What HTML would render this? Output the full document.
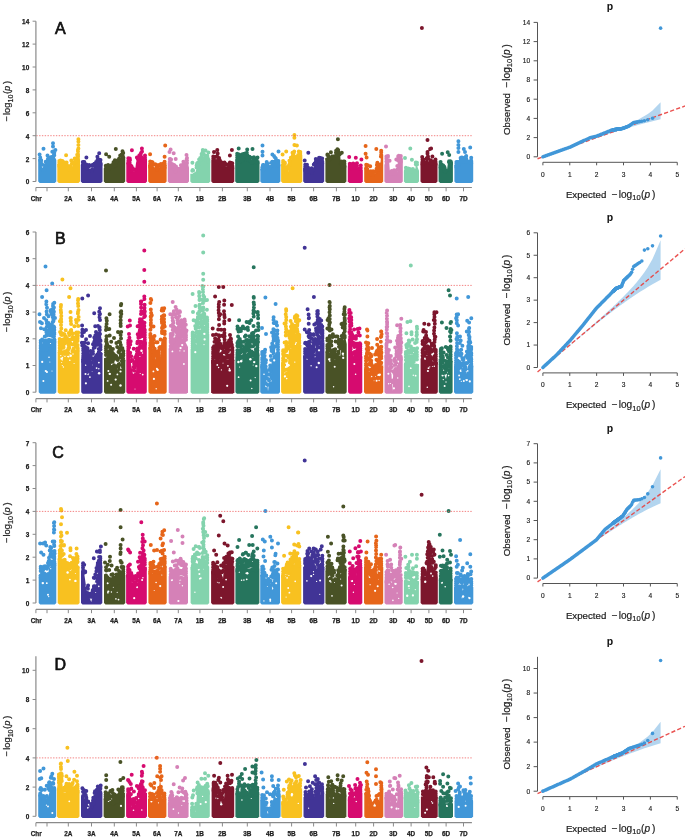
<!DOCTYPE html>
<html><head><meta charset="utf-8"><title>Manhattan and QQ plots</title>
<style>
html,body{margin:0;padding:0;background:#fff;}
body{width:685px;height:838px;overflow:hidden;}
svg{display:block;font-family:"Liberation Sans", sans-serif;filter:blur(0.4px);}
</style></head>
<body>
<svg width="685" height="838" viewBox="0 0 685 838" font-family='"Liberation Sans", sans-serif'>
<rect width="685" height="838" fill="#fff"/>
<path d="M39.7,183.1 L38.2,181.6 L38.2,159 L40,158 L41.5,165 L43,171 L45,168 L47,163 L48.5,162 L50,161 L52,155 L53,151 L54,155 L56.3,160 L56.3,181.6 L54.8,183.1Z" fill="#4197d8"/>
<g fill="#fff"></g>
<path stroke="#4197d8" stroke-width="4" stroke-linecap="round" d="M44.8 165.4h0M49.4 158h0M47.8 160.8h0M41 161.9h0M40.7 160.1h0M41.2 160.3h0M46.2 166h0M41.9 164.3h0M49 163.3h0M48.3 160.6h0M54 151.3h0M52.3 151.7h0M42.2 164.8h0M44.5 169.6h0M42.7 169.6h0M49.2 159.9h0M47.9 158.9h0M41 160.2h0M49.8 159.8h0M44.6 168.2h0M46.6 162h0M51.4 157.1h0M43.6 169.6h0M47.6 163.9h0M50.5 157.4h0M40.2 157.6h0M40.2 160.2h0M54.3 152.7h0M54.3 155.2h0M53 143.3h0M43.5 148.8h0M47.5 155.5h0M45.7 161.7h0M55.4 150h0M39.6 154.5h0M53 146.5h0"/>
<path d="M58.8,183.1 L57.3,181.6 L57.3,164 L67,164 L69.7,168.7 L72,167 L73,161 L76,160.5 L77.5,157 L78.4,152.4 L79.5,155 L80,160 L80,181.6 L78.5,183.1Z" fill="#f8c120"/>
<g fill="#fff"></g>
<path stroke="#f8c120" stroke-width="4" stroke-linecap="round" d="M70.1 167.2h0M75 162.3h0M68.2 166.1h0M60.4 164.3h0M71.4 169.4h0M74.7 158.6h0M66.5 164.1h0M59.7 162.9h0M62.4 160.9h0M60.4 164.7h0M61.7 161.6h0M66.6 165.3h0M60.8 162.8h0M69.6 169.8h0M74.6 161.9h0M64.5 162.6h0M66 165.3h0M77.2 154.8h0M62.6 161.5h0M63.7 163h0M70.3 166h0M59.4 162.6h0M66.2 163.5h0M77.1 158.1h0M68.9 167.2h0M71.9 163.6h0M76.1 160.9h0M75.7 161.4h0M66.6 162.5h0M61.2 163.9h0M60.5 160.6h0M59.3 161h0M59.3 162.7h0M59.3 164.3h0M59.3 166h0M78 151.4h0M78 154.3h0M78 156h0M66.1 155.3h0M77.9 150.1h0M78.4 139.2h0M78.4 141.5h0M71.3 160.5h0M78.4 145h0M78.4 148.5h0"/>
<path d="M82.3,183.1 L80.8,181.6 L80.8,165 L84,165 L86,167 L88,168.7 L93.2,168.7 L94,163 L102.5,163 L102.5,181.6 L101,183.1Z" fill="#413496"/>
<g fill="#fff"></g>
<path stroke="#413496" stroke-width="4" stroke-linecap="round" d="M84.3 162.1h0M88.9 166.4h0M97.5 160.1h0M83.2 166.7h0M92.2 165.8h0M92.4 165.1h0M92.1 170.6h0M98.1 163.2h0M87.4 166.5h0M85.8 167.4h0M92.2 169.4h0M88.6 166.2h0M97.2 164.9h0M97.9 163.9h0M97.3 163.5h0M86.8 166.9h0M89.1 165.1h0M83.3 162.8h0M87.4 168.4h0M99.7 161.8h0M99.4 164.9h0M99.7 161.3h0M86.7 165.1h0M86.3 164.6h0M93.8 165.5h0M97.7 162h0M94.4 163.8h0M84.3 165.3h0M98.9 163.7h0M96.1 162h0M82.8 162h0M82.8 164.7h0M100.5 160h0M100.5 162.9h0M100.5 164.7h0M98.8 159.5h0M97.4 156.8h0M86.4 157.4h0M99.2 153.3h0"/>
<path d="M105.3,183.1 L103.8,181.6 L103.8,168.7 L110,168.7 L112,166 L115.3,163.6 L118,161 L122,155.4 L125.2,157 L125.2,181.6 L123.7,183.1Z" fill="#495226"/>
<g fill="#fff"></g>
<path stroke="#495226" stroke-width="4" stroke-linecap="round" d="M111.9 165.5h0M108.1 165h0M122.7 155.7h0M115 165.5h0M113.3 166.3h0M120.2 155.4h0M110.2 166.4h0M110 168.3h0M110.3 166.9h0M108.1 170.2h0M112 164.9h0M116 164.4h0M113.1 166.7h0M114.5 163.4h0M114.9 160.2h0M113.5 162.2h0M105.9 169.5h0M108.8 167.6h0M118.4 159.8h0M111.5 165.9h0M115.5 164.2h0M107.6 168.1h0M110.1 166.3h0M119.2 158.4h0M115.6 163.9h0M121.7 154.6h0M116.5 161.6h0M114.7 164.2h0M113.7 164.1h0M105.8 165.7h0M105.8 168.6h0M123.2 153h0M123.2 157.6h0M106.1 154.2h0M109.2 156.8h0M115.8 148.9h0M122.5 151.3h0"/>
<path d="M127.8,183.1 L126.3,181.6 L126.3,163 L127.5,161 L130,162 L131,167 L133,171.8 L135,171 L136,163 L137,159 L141,158 L141.9,153.4 L143,158 L147,159 L147,181.6 L145.5,183.1Z" fill="#d60b6f"/>
<g fill="#fff"></g>
<path stroke="#d60b6f" stroke-width="4" stroke-linecap="round" d="M141.4 157.4h0M130.9 166.7h0M139.3 155.4h0M143 159.8h0M132 171h0M135 170h0M144.8 159.5h0M131 165.7h0M136.9 157.5h0M131.6 166.4h0M140.4 154.5h0M137.6 157.6h0M128.6 159.6h0M138.7 157.7h0M129.4 163.7h0M141.5 157.5h0M130 160h0M129 162.3h0M132.8 168.3h0M135.4 169.7h0M142 151.4h0M130.8 167.5h0M137.8 159.1h0M129.8 158.5h0M139.8 157h0M129.5 163.4h0M138.9 159.4h0M129.7 163h0M128.3 158.3h0M128.3 161.1h0M128.3 163.1h0M145 155.5h0M145 157.2h0M145 159.1h0M145 160.8h0M141 152.9h0M131.9 150.2h0M141.9 148.4h0"/>
<path d="M149.7,183.1 L148.2,181.6 L148.2,164.6 L151,164.6 L153,166 L156,168.7 L160,167 L163,165 L166.6,164.6 L166.6,181.6 L165.1,183.1Z" fill="#e66519"/>
<g fill="#fff"></g>
<path stroke="#e66519" stroke-width="4" stroke-linecap="round" d="M152.8 164h0M150.5 162.3h0M150.4 165.1h0M158.1 165.1h0M157 169.9h0M151.7 166.1h0M156.4 167.6h0M162.2 164h0M157.5 168.3h0M164.3 163h0M162.2 165.8h0M159.4 165.8h0M155.2 164.5h0M152.1 162h0M160.9 164.1h0M152.6 162.4h0M162.3 166.7h0M159.9 164.9h0M153.7 164.5h0M156.8 165.5h0M156.6 166.2h0M164 166.7h0M158.1 165.4h0M164.1 162.9h0M155.3 164.3h0M150.2 161.6h0M150.2 163.8h0M150.2 165.6h0M150.2 167.1h0M164.6 161.8h0M164.6 163.4h0M164.6 165.3h0M164.6 167.7h0M150.1 154.3h0M165.2 145.5h0M164.6 156.8h0"/>
<path d="M169.3,183.1 L167.8,181.6 L167.8,162.6 L170,162 L172,163 L174,168 L175,169.7 L180,169.7 L182,167.7 L185,166 L186.5,160 L188,163 L189,167.7 L189,181.6 L187.5,183.1Z" fill="#d581b7"/>
<g fill="#fff"></g>
<path stroke="#d581b7" stroke-width="4" stroke-linecap="round" d="M184.9 164.5h0M175.4 171.6h0M172.4 164.3h0M180.9 165.3h0M184.2 167.8h0M180.6 169.6h0M183.8 163.7h0M178.8 168.8h0M184.2 167.3h0M184 166.1h0M185.2 165.5h0M181.7 165.5h0M170.3 159.1h0M176 166.5h0M184.2 165.9h0M180.6 168.9h0M181.5 167.2h0M169.9 162.9h0M182.7 166.4h0M179 169.7h0M170.9 162.9h0M174.1 164.9h0M174.4 169.1h0M173.3 166.8h0M186.6 159.2h0M176.4 168.7h0M181.6 168.8h0M180.4 169.2h0M171.1 159.6h0M169.8 159.1h0M169.8 161.7h0M169.8 164h0M187 158h0M187 160.5h0M187 163h0M170.6 149.4h0M173.7 153.3h0M175.7 159.1h0M186.5 155h0M183.4 161.7h0M169.5 152h0"/>
<path d="M191.8,183.1 L190.3,181.6 L190.3,173.8 L195,173.8 L197,166.7 L199,162 L200,159.5 L202.8,155 L205,159.5 L210.3,159.5 L210.3,181.6 L208.8,183.1Z" fill="#83d3ad"/>
<g fill="#fff"></g>
<path stroke="#83d3ad" stroke-width="4" stroke-linecap="round" d="M195.5 173.9h0M207.3 155.8h0M199.6 161.3h0M207.8 158.3h0M196.6 165.5h0M207.4 156.9h0M201.6 153.9h0M200.7 160.1h0M194.4 174.8h0M200.4 160.1h0M203.6 154.1h0M206.7 158.5h0M192.7 170h0M200.2 158h0M197.1 163.4h0M197.8 162.8h0M205.7 155.7h0M204.3 159.2h0M194.2 175.4h0M203.7 158.3h0M196.9 165.3h0M198.6 165h0M201.7 155h0M199.1 159.4h0M193.1 170.6h0M205.7 157.4h0M207.3 157.1h0M196.6 167.5h0M192.3 170.8h0M208.3 159.4h0M208.3 162h0M202.6 152.2h0M192.4 162.7h0M208.4 152.5h0M202.8 150h0M205.5 150.5h0"/>
<path d="M212.8,183.1 L211.3,181.6 L211.3,159.5 L218,159.5 L220,164 L223,166.2 L234.3,166.2 L234.3,181.6 L232.8,183.1Z" fill="#7c162c"/>
<g fill="#fff"></g>
<path stroke="#7c162c" stroke-width="4" stroke-linecap="round" d="M230.9 163.1h0M222.3 163.9h0M219 162.1h0M231.8 163.9h0M225.8 164.1h0M223.9 164.7h0M216.5 156.6h0M217.2 161h0M222.7 163.5h0M230.5 168.2h0M221.8 162.4h0M217 156.2h0M219.8 160.3h0M217.8 157.2h0M224.1 167.5h0M227.5 164.8h0M221.2 164.1h0M220.5 162.5h0M214.5 157.3h0M231.7 163.1h0M222.9 166h0M229.7 163.7h0M218.4 158.2h0M220.9 163.4h0M231.4 167.3h0M229.9 162.5h0M213.9 159.8h0M230.3 165.1h0M224.5 162.4h0M220.7 166.1h0M229 167.4h0M231.8 163.8h0M213.3 156.5h0M213.3 158.2h0M232.3 163.2h0M232.3 165.8h0M232.3 168.2h0M217.7 153.4h0M219.1 158h0M217.3 150h0M231.9 150.1h0M229.9 155.5h0M214 152h0"/>
<path d="M236.7,183.1 L235.2,181.6 L235.2,160.5 L238.2,155 L240,160.5 L246.4,155 L248,160.5 L259.5,160.5 L259.5,181.6 L258,183.1Z" fill="#26755d"/>
<g fill="#fff"></g>
<path stroke="#26755d" stroke-width="4" stroke-linecap="round" d="M250.1 160.8h0M239.5 155.5h0M247.8 159.6h0M245.1 153.6h0M249.4 156.8h0M243.3 156.5h0M256.7 160.4h0M255.1 159.5h0M242 156.4h0M256.7 160.8h0M243.4 153.9h0M247.3 158.3h0M245.7 153.3h0M250.7 162.1h0M241.8 155.3h0M244.1 155.6h0M251.1 157.8h0M253.4 161h0M247.4 156h0M256.9 158.5h0M253.8 158h0M241.7 159.7h0M243.2 159.5h0M247.3 155.3h0M241.7 157.6h0M250.7 162.2h0M240.2 158.8h0M241.5 161h0M240.1 156.9h0M238.4 154.2h0M255.4 161.8h0M252.1 162.5h0M256.1 158.6h0M241 161.3h0M237.2 153.8h0M237.2 155.4h0M237.2 157.4h0M237.2 159.4h0M257.5 157.5h0M257.5 163h0M253.9 157.3h0M246.8 152.8h0M238.7 148.6h0M247.2 149.4h0M252.5 148.9h0M241.8 154.5h0"/>
<path d="M261.8,183.1 L260.3,181.6 L260.3,168.7 L264,168.7 L266,165.7 L270,165.7 L272,164.1 L280.4,164.1 L280.4,181.6 L278.9,183.1Z" fill="#4197d8"/>
<g fill="#fff"></g>
<path stroke="#4197d8" stroke-width="4" stroke-linecap="round" d="M268.2 167.1h0M262.8 167.3h0M275.4 164.7h0M263 165.1h0M263.3 170.2h0M266.4 166.2h0M276.8 162.3h0M266.7 167.5h0M272.2 161.8h0M273.8 162.1h0M266.7 161.9h0M274.5 165.6h0M272.5 165.8h0M262.7 166.3h0M270 167.4h0M277.7 162.5h0M266.3 164.4h0M270.2 167.1h0M265.2 167.7h0M274.2 165.1h0M274.7 163.8h0M267.6 163.8h0M268.1 166.4h0M263.6 166h0M274.4 161.7h0M263.3 165.1h0M271.2 162.8h0M278.1 165.4h0M262.3 167.6h0M262.3 169.2h0M278.4 161.1h0M278.4 163h0M278.4 165.4h0M275.9 160.7h0M275.8 158.6h0M262.5 145.5h0M262.5 151.7h0M262.5 155.5h0M272.4 154.5h0M278.5 151.5h0M275 157.4h0M274 156h0"/>
<path d="M282.6,183.1 L281.1,181.6 L281.1,164.1 L285,164.1 L286,171 L288,172.8 L289,165 L292,157 L293,155.4 L302.3,155 L302.3,181.6 L300.8,183.1Z" fill="#f8c120"/>
<g fill="#fff"></g>
<path stroke="#f8c120" stroke-width="4" stroke-linecap="round" d="M289.5 164.1h0M286.5 169.1h0M287.3 169.3h0M298.3 154.7h0M288.7 165.7h0M300.2 154.2h0M287.1 172.9h0M294.3 157.3h0M284.9 163.1h0M297.2 156.3h0M298.8 151.6h0M288.2 168.5h0M286.4 173.2h0M293.1 157h0M289.5 164.9h0M290.8 157.8h0M296.5 156.9h0M284.9 163.8h0M293.8 152.8h0M289.4 160.8h0M286.6 169.2h0M293.4 155.4h0M286.6 167.8h0M288.7 167.3h0M286.3 169.3h0M286.6 172.4h0M292.5 152.7h0M284.8 162.6h0M292.6 156h0M283.1 161.1h0M283.1 162.8h0M283.1 165h0M300.3 152.1h0M300.3 154.1h0M286.6 167.3h0M294.4 135.1h0M294.4 137.7h0M294.4 145.1h0M296.9 145.5h0M286.2 151.5h0M282.6 154.5h0M294.2 151.5h0"/>
<path d="M304.7,183.1 L303.2,181.6 L303.2,167.7 L306,167.7 L308,171.3 L313,171.3 L315,161.6 L318.5,157.5 L320,161.6 L324.2,161.6 L324.2,181.6 L322.7,183.1Z" fill="#413496"/>
<g fill="#fff"></g>
<path stroke="#413496" stroke-width="4" stroke-linecap="round" d="M319.1 157.8h0M320.2 160.5h0M308 167.5h0M314.6 163.6h0M320.7 158.3h0M315.8 159h0M313.8 164.6h0M310 170.5h0M320.9 158.4h0M313.5 169.6h0M321.6 158.9h0M307.4 171.8h0M321.8 160.6h0M306.1 169.5h0M311.8 172.7h0M315.7 161.7h0M307.9 171.9h0M309 169.8h0M319.6 161.5h0M308.3 168.8h0M312 170.5h0M311.7 168.2h0M309.4 171.7h0M320.5 158h0M314.8 163.4h0M305.8 168.8h0M307.2 169.5h0M314.6 163.6h0M310.4 169.9h0M305.2 164.7h0M305.2 166.8h0M305.2 169h0M305.2 170.5h0M322.2 158.6h0M322.2 161.2h0M322.2 163.4h0M307 164.8h0M308.3 152.7h0M304.7 160.5h0"/>
<path d="M326.9,183.1 L325.4,181.6 L325.4,158 L330,158 L331,154.4 L336,154.4 L337,153.4 L340,153.4 L341,164.6 L346.4,164.6 L346.4,181.6 L344.9,183.1Z" fill="#495226"/>
<g fill="#fff"></g>
<path stroke="#495226" stroke-width="4" stroke-linecap="round" d="M336.1 150.8h0M338.2 150.1h0M339.9 154.1h0M336.1 150.8h0M336 152.8h0M343.6 161.6h0M342 166.6h0M339.8 154.3h0M330.7 157.4h0M335.8 156.1h0M343 161.8h0M340.8 164h0M328.5 156.2h0M340.3 153.4h0M342.6 162.4h0M341.3 161.6h0M335.9 155.9h0M330.9 152.3h0M336 152.4h0M328 155.3h0M330.1 159.1h0M339 154.8h0M330.3 157.8h0M329.4 157.3h0M338.2 151.7h0M342.2 164h0M337.3 154.7h0M329.2 160h0M338.1 151.9h0M327.4 155h0M327.4 159.3h0M344.4 161.6h0M344.4 163.4h0M344.4 166.8h0M337.4 149.3h0M327.4 154.5h0M337.9 139.2h0M341.8 152.7h0"/>
<path d="M349.3,183.1 L347.8,181.6 L347.8,166.7 L356,166.7 L360,168 L362.8,169.7 L362.8,181.6 L361.3,183.1Z" fill="#d60b6f"/>
<g fill="#fff"></g>
<path stroke="#d60b6f" stroke-width="4" stroke-linecap="round" d="M356.6 165.6h0M355.4 168.1h0M351.3 164.2h0M357 163.3h0M349.8 165h0M351 165h0M352.3 166.3h0M356.3 164.2h0M356.7 165.9h0M351.3 168.3h0M352.5 163.8h0M350.9 166.6h0M359.4 168.5h0M354.2 164.4h0M349.9 166.6h0M356 164.9h0M356.9 165.8h0M360.1 168.5h0M352.5 168.1h0M350.3 166h0M354.3 164.3h0M349.8 163.7h0M349.8 166.4h0M360.8 165.5h0M360.8 167.9h0M353.2 163.6h0M349.2 157.1h0M355.8 157.8h0M361.4 159.4h0"/>
<path d="M365.7,183.1 L364.2,181.6 L364.2,167.7 L369,167.7 L370,173.8 L375,173.8 L376,168.7 L380,168.7 L381.3,152.4 L383.2,155 L383.2,181.6 L381.7,183.1Z" fill="#e66519"/>
<g fill="#fff"></g>
<path stroke="#e66519" stroke-width="4" stroke-linecap="round" d="M379.5 169.4h0M376.9 164.9h0M378.9 169.2h0M373.2 174.3h0M373 171.3h0M367.8 165.2h0M366.8 165.8h0M377.4 168.9h0M378.9 169h0M370.2 173.2h0M372.7 174.6h0M374 171.5h0M375.8 171.4h0M369.5 171.8h0M366.4 165.4h0M369.7 172.7h0M380.4 164.6h0M371.1 175.1h0M371.1 171.4h0M379.8 168.6h0M376.6 168.8h0M380.9 156.5h0M378.8 168.9h0M379.1 167.4h0M377.1 168.2h0M370.8 171.2h0M366.2 164.7h0M366.2 168h0M381.2 150.7h0M381.2 152.2h0M381.2 154.7h0M377.3 163h0M365.6 146.1h0M365.6 153.7h0M366.6 157.4h0M376.3 148.9h0M370.2 166.3h0M377.4 162.7h0"/>
<path d="M385.9,183.1 L384.4,181.6 L384.4,165 L386,159.5 L389,159.5 L390,172.8 L397,172.8 L398,159 L402.8,159 L402.8,181.6 L401.3,183.1Z" fill="#d581b7"/>
<g fill="#fff"></g>
<path stroke="#d581b7" stroke-width="4" stroke-linecap="round" d="M391.6 173.7h0M398.2 160.4h0M387.3 160.7h0M399.6 160.7h0M387.9 156.9h0M388 155.9h0M398.6 159.9h0M395.5 173.8h0M395.5 170.7h0M387.8 156.3h0M397.3 166h0M391 171.5h0M386.7 157.2h0M390.5 173.2h0M391.7 170.9h0M400.3 158.1h0M398.7 158.8h0M386.8 158.1h0M392.7 173.5h0M391.4 173.1h0M394.1 170.3h0M398.8 155.7h0M398.2 156.2h0M386.4 156.9h0M397.4 169.5h0M386.4 156.5h0M386.4 158.7h0M386.4 161.4h0M400.8 156h0M400.8 158.7h0M400.8 161.7h0M386 146.6h0M389.6 160.7h0M396.3 159.6h0"/>
<path d="M405.4,183.1 L403.9,181.6 L403.9,170.8 L415,170.8 L416.2,163.6 L419,170.8 L419,181.6 L417.5,183.1Z" fill="#83d3ad"/>
<g fill="#fff"></g>
<path stroke="#83d3ad" stroke-width="4" stroke-linecap="round" d="M407.1 170.7h0M406.8 171.6h0M413.6 171.6h0M412.9 169.1h0M410.4 169.3h0M415.8 162.8h0M415.8 162.6h0M408.2 168.5h0M415.9 164.5h0M410.1 172.1h0M408.5 169.7h0M411.8 171.4h0M414.3 170.7h0M409.8 168.9h0M407.6 171.9h0M413.2 171.3h0M407.8 169.5h0M414.5 170.4h0M407.3 169.7h0M415.7 164h0M408 168.7h0M405.9 167.8h0M405.9 170.6h0M405.9 172.3h0M417 162.7h0M417 164.4h0M410.3 148.4h0M405 158.1h0M411.9 159.8h0"/>
<path d="M422,183.1 L420.5,181.6 L420.5,162 L425,162.6 L427.3,156.5 L429,162.6 L437.5,162.6 L437.5,181.6 L436,183.1Z" fill="#7c162c"/>
<g fill="#fff"></g>
<path stroke="#7c162c" stroke-width="4" stroke-linecap="round" d="M423.8 160.9h0M435.3 163.4h0M432 161.3h0M425.1 162.4h0M423.9 159.8h0M427.5 153.8h0M427.7 158.7h0M431.5 161.7h0M430.7 161.5h0M424.3 162.2h0M427.8 158.7h0M434.3 161.3h0M430 163.1h0M428 156.4h0M431.9 163.9h0M432.6 162.9h0M433.6 162.7h0M430.8 161.4h0M426.6 158.3h0M423.8 161.1h0M432.7 162.9h0M430.7 160.3h0M428 157.9h0M422.5 159.3h0M422.5 161.4h0M422.5 164.3h0M435.5 159.6h0M435.5 161.7h0M435.5 164.6h0M427.5 140h0M431.1 148.4h0M430.1 149.1h0M427.5 152h0M432.4 156.4h0M422.2 157h0M421.9 28h0"/>
<path d="M440.1,183.1 L438.6,181.6 L438.6,165.1 L443,165.1 L444,170.3 L447,170.3 L448,162.1 L452.9,162.1 L452.9,181.6 L451.4,183.1Z" fill="#26755d"/>
<g fill="#fff"></g>
<path stroke="#26755d" stroke-width="4" stroke-linecap="round" d="M450.3 161.3h0M441.6 164.6h0M446.2 170.7h0M445.9 170.2h0M449.1 161.3h0M444.8 172h0M442.8 165.3h0M444.6 170.9h0M441.9 167h0M444.3 166.8h0M443.4 165.8h0M440.7 163.7h0M444.9 170.5h0M444.2 168h0M442.9 165.6h0M450.3 161.4h0M442.9 165.9h0M444.6 167.7h0M441.9 165.8h0M448.9 162h0M440.6 162.1h0M440.6 164.4h0M440.6 167.4h0M450.9 161.8h0M450.9 163.8h0M449.2 155.1h0M442.1 153.7h0M447.7 152.3h0"/>
<path d="M455.9,183.1 L454.4,181.6 L454.4,165.1 L458,165.1 L460,160.5 L470,160.5 L473.2,161 L473.2,181.6 L471.7,183.1Z" fill="#4197d8"/>
<g fill="#fff"></g>
<path stroke="#4197d8" stroke-width="4" stroke-linecap="round" d="M462 158.2h0M462.7 157.8h0M456.4 165.5h0M460.6 158.1h0M460.9 159.5h0M462.7 160.4h0M466.2 158.8h0M470.1 161.7h0M457.2 166.1h0M469.8 161.2h0M458.5 165h0M465.8 156.8h0M456.6 166.8h0M466.1 158.2h0M457.9 162.1h0M459.9 161.5h0M461.5 157.6h0M469.8 161.3h0M458.9 164.4h0M465.4 161.2h0M466.3 161.9h0M468.1 161.6h0M459.3 162.3h0M464.3 161h0M462.9 161.8h0M464.6 158.2h0M456.4 162.1h0M456.4 163.8h0M456.4 165.4h0M456.4 167.1h0M471.2 157.7h0M471.2 160.5h0M471.2 163.2h0M466.2 156.1h0M458.4 141.2h0M458.4 145h0M458.4 148h0M458.4 152h0M470.2 147.6h0M463.8 148.9h0M465 152h0"/>
<line x1="36.3" y1="135.7" x2="472.7" y2="135.7" stroke="#ef5a5a" stroke-width="1" stroke-dasharray="1.4,1.4" opacity="0.75"/>
<line x1="35.9" y1="181.5" x2="35.9" y2="21.2" stroke="#8a8a8a" stroke-width="1.2"/>
<line x1="32.6" y1="181.5" x2="35.9" y2="181.5" stroke="#8a8a8a" stroke-width="1"/>
<text x="29.2" y="184.4" text-anchor="end" font-size="6.4" font-weight="bold" fill="#1c1c1c" stroke="#1c1c1c" stroke-width="0.25">0</text>
<line x1="32.6" y1="158.6" x2="35.9" y2="158.6" stroke="#8a8a8a" stroke-width="1"/>
<text x="29.2" y="161.5" text-anchor="end" font-size="6.4" font-weight="bold" fill="#1c1c1c" stroke="#1c1c1c" stroke-width="0.25">2</text>
<line x1="32.6" y1="135.7" x2="35.9" y2="135.7" stroke="#8a8a8a" stroke-width="1"/>
<text x="29.2" y="138.6" text-anchor="end" font-size="6.4" font-weight="bold" fill="#1c1c1c" stroke="#1c1c1c" stroke-width="0.25">4</text>
<line x1="32.6" y1="112.8" x2="35.9" y2="112.8" stroke="#8a8a8a" stroke-width="1"/>
<text x="29.2" y="115.7" text-anchor="end" font-size="6.4" font-weight="bold" fill="#1c1c1c" stroke="#1c1c1c" stroke-width="0.25">6</text>
<line x1="32.6" y1="89.9" x2="35.9" y2="89.9" stroke="#8a8a8a" stroke-width="1"/>
<text x="29.2" y="92.8" text-anchor="end" font-size="6.4" font-weight="bold" fill="#1c1c1c" stroke="#1c1c1c" stroke-width="0.25">8</text>
<line x1="32.6" y1="67" x2="35.9" y2="67" stroke="#8a8a8a" stroke-width="1"/>
<text x="29.2" y="69.9" text-anchor="end" font-size="6.4" font-weight="bold" fill="#1c1c1c" stroke="#1c1c1c" stroke-width="0.25">10</text>
<line x1="32.6" y1="44.1" x2="35.9" y2="44.1" stroke="#8a8a8a" stroke-width="1"/>
<text x="29.2" y="47" text-anchor="end" font-size="6.4" font-weight="bold" fill="#1c1c1c" stroke="#1c1c1c" stroke-width="0.25">12</text>
<line x1="32.6" y1="21.2" x2="35.9" y2="21.2" stroke="#8a8a8a" stroke-width="1"/>
<text x="29.2" y="24.1" text-anchor="end" font-size="6.4" font-weight="bold" fill="#1c1c1c" stroke="#1c1c1c" stroke-width="0.25">14</text>
<line x1="35.9" y1="187.5" x2="471.9" y2="187.5" stroke="#8a8a8a" stroke-width="1.2"/>
<line x1="35.9" y1="187.5" x2="35.9" y2="191.3" stroke="#8a8a8a" stroke-width="1"/>
<line x1="47" y1="187.5" x2="47" y2="191.3" stroke="#8a8a8a" stroke-width="1"/>
<line x1="68.3" y1="187.5" x2="68.3" y2="191.3" stroke="#8a8a8a" stroke-width="1"/>
<line x1="91.5" y1="187.5" x2="91.5" y2="191.3" stroke="#8a8a8a" stroke-width="1"/>
<line x1="114.3" y1="187.5" x2="114.3" y2="191.3" stroke="#8a8a8a" stroke-width="1"/>
<line x1="136.4" y1="187.5" x2="136.4" y2="191.3" stroke="#8a8a8a" stroke-width="1"/>
<line x1="157.1" y1="187.5" x2="157.1" y2="191.3" stroke="#8a8a8a" stroke-width="1"/>
<line x1="178.3" y1="187.5" x2="178.3" y2="191.3" stroke="#8a8a8a" stroke-width="1"/>
<line x1="199.9" y1="187.5" x2="199.9" y2="191.3" stroke="#8a8a8a" stroke-width="1"/>
<line x1="222.4" y1="187.5" x2="222.4" y2="191.3" stroke="#8a8a8a" stroke-width="1"/>
<line x1="247.3" y1="187.5" x2="247.3" y2="191.3" stroke="#8a8a8a" stroke-width="1"/>
<line x1="270" y1="187.5" x2="270" y2="191.3" stroke="#8a8a8a" stroke-width="1"/>
<line x1="291.6" y1="187.5" x2="291.6" y2="191.3" stroke="#8a8a8a" stroke-width="1"/>
<line x1="313.6" y1="187.5" x2="313.6" y2="191.3" stroke="#8a8a8a" stroke-width="1"/>
<line x1="336.4" y1="187.5" x2="336.4" y2="191.3" stroke="#8a8a8a" stroke-width="1"/>
<line x1="355.7" y1="187.5" x2="355.7" y2="191.3" stroke="#8a8a8a" stroke-width="1"/>
<line x1="373.6" y1="187.5" x2="373.6" y2="191.3" stroke="#8a8a8a" stroke-width="1"/>
<line x1="393.4" y1="187.5" x2="393.4" y2="191.3" stroke="#8a8a8a" stroke-width="1"/>
<line x1="411.1" y1="187.5" x2="411.1" y2="191.3" stroke="#8a8a8a" stroke-width="1"/>
<line x1="428.9" y1="187.5" x2="428.9" y2="191.3" stroke="#8a8a8a" stroke-width="1"/>
<line x1="446.1" y1="187.5" x2="446.1" y2="191.3" stroke="#8a8a8a" stroke-width="1"/>
<line x1="463.5" y1="187.5" x2="463.5" y2="191.3" stroke="#8a8a8a" stroke-width="1"/>
<text x="36.2" y="201.2" text-anchor="middle" font-size="6.4" font-weight="bold" fill="#1c1c1c" stroke="#1c1c1c" stroke-width="0.25">Chr</text>
<text x="68.3" y="201.2" text-anchor="middle" font-size="6.4" font-weight="bold" fill="#1c1c1c" stroke="#1c1c1c" stroke-width="0.25">2A</text>
<text x="91.5" y="201.2" text-anchor="middle" font-size="6.4" font-weight="bold" fill="#1c1c1c" stroke="#1c1c1c" stroke-width="0.25">3A</text>
<text x="114.3" y="201.2" text-anchor="middle" font-size="6.4" font-weight="bold" fill="#1c1c1c" stroke="#1c1c1c" stroke-width="0.25">4A</text>
<text x="136.4" y="201.2" text-anchor="middle" font-size="6.4" font-weight="bold" fill="#1c1c1c" stroke="#1c1c1c" stroke-width="0.25">5A</text>
<text x="157.1" y="201.2" text-anchor="middle" font-size="6.4" font-weight="bold" fill="#1c1c1c" stroke="#1c1c1c" stroke-width="0.25">6A</text>
<text x="178.3" y="201.2" text-anchor="middle" font-size="6.4" font-weight="bold" fill="#1c1c1c" stroke="#1c1c1c" stroke-width="0.25">7A</text>
<text x="199.9" y="201.2" text-anchor="middle" font-size="6.4" font-weight="bold" fill="#1c1c1c" stroke="#1c1c1c" stroke-width="0.25">1B</text>
<text x="222.4" y="201.2" text-anchor="middle" font-size="6.4" font-weight="bold" fill="#1c1c1c" stroke="#1c1c1c" stroke-width="0.25">2B</text>
<text x="247.3" y="201.2" text-anchor="middle" font-size="6.4" font-weight="bold" fill="#1c1c1c" stroke="#1c1c1c" stroke-width="0.25">3B</text>
<text x="270" y="201.2" text-anchor="middle" font-size="6.4" font-weight="bold" fill="#1c1c1c" stroke="#1c1c1c" stroke-width="0.25">4B</text>
<text x="291.6" y="201.2" text-anchor="middle" font-size="6.4" font-weight="bold" fill="#1c1c1c" stroke="#1c1c1c" stroke-width="0.25">5B</text>
<text x="313.6" y="201.2" text-anchor="middle" font-size="6.4" font-weight="bold" fill="#1c1c1c" stroke="#1c1c1c" stroke-width="0.25">6B</text>
<text x="336.4" y="201.2" text-anchor="middle" font-size="6.4" font-weight="bold" fill="#1c1c1c" stroke="#1c1c1c" stroke-width="0.25">7B</text>
<text x="355.7" y="201.2" text-anchor="middle" font-size="6.4" font-weight="bold" fill="#1c1c1c" stroke="#1c1c1c" stroke-width="0.25">1D</text>
<text x="373.6" y="201.2" text-anchor="middle" font-size="6.4" font-weight="bold" fill="#1c1c1c" stroke="#1c1c1c" stroke-width="0.25">2D</text>
<text x="393.4" y="201.2" text-anchor="middle" font-size="6.4" font-weight="bold" fill="#1c1c1c" stroke="#1c1c1c" stroke-width="0.25">3D</text>
<text x="411.1" y="201.2" text-anchor="middle" font-size="6.4" font-weight="bold" fill="#1c1c1c" stroke="#1c1c1c" stroke-width="0.25">4D</text>
<text x="428.9" y="201.2" text-anchor="middle" font-size="6.4" font-weight="bold" fill="#1c1c1c" stroke="#1c1c1c" stroke-width="0.25">5D</text>
<text x="446.1" y="201.2" text-anchor="middle" font-size="6.4" font-weight="bold" fill="#1c1c1c" stroke="#1c1c1c" stroke-width="0.25">6D</text>
<text x="463.5" y="201.2" text-anchor="middle" font-size="6.4" font-weight="bold" fill="#1c1c1c" stroke="#1c1c1c" stroke-width="0.25">7D</text>
<text transform="translate(10.3,121.55) rotate(-90)" text-anchor="start" font-size="9.04" fill="#1c1c1c" stroke="#1c1c1c" stroke-width="0.2"><tspan font-size="9.4">−</tspan><tspan font-size="9.4" dx="1.1">log</tspan><tspan font-size="7.05" dy="2.35">10</tspan><tspan font-size="9.4" dy="-2.35" dx="0.5">(</tspan><tspan font-size="9.4" font-style="italic">p</tspan><tspan font-size="9.4" dx="1.8">)</tspan></text>
<text x="55.1" y="34" font-size="16" fill="#111" stroke="#111" stroke-width="0.7">A</text>
<path d="M40.2,393.8 L38.7,392.3 L38.7,350 L46,349 L48,347 L50,340 L56.3,339.3 L56.3,392.3 L54.8,393.8Z" fill="#4197d8"/>
<g fill="#fff"><circle cx="45.8" cy="371" r="1.1"/><circle cx="42.2" cy="361.9" r="1.1"/><circle cx="49.9" cy="361.9" r="0.5"/><circle cx="43.4" cy="381.1" r="1"/><circle cx="52.6" cy="336.4" r="0.9"/><circle cx="50.5" cy="343.5" r="0.6"/><circle cx="45.5" cy="339.5" r="0.8"/><circle cx="43.7" cy="348.6" r="0.7"/><circle cx="43.4" cy="340.6" r="1"/><circle cx="44" cy="341.9" r="0.5"/><circle cx="52.5" cy="337.4" r="1.1"/><circle cx="52" cy="371" r="0.6"/><circle cx="46.9" cy="372" r="1.1"/><circle cx="49" cy="357.2" r="0.8"/></g>
<path stroke="#4197d8" stroke-width="4" stroke-linecap="round" d="M46.4 350h0M41.7 346.2h0M49.4 329.9h0M49 340.8h0M53.4 331.7h0M54.1 334.3h0M47.3 348.2h0M41.2 347.5h0M49.2 335h0M52.4 332.4h0M47.2 342.8h0M51.2 330.2h0M46.6 341.8h0M48.2 345.6h0M44.7 348.6h0M46.2 343.5h0M44.4 343.9h0M54 336.4h0M51.5 331.9h0M45 340.8h0M48.7 341.2h0M51.4 327.6h0M50.5 340.2h0M48.1 334.5h0M44.8 336.5h0M43.3 350.2h0M49 340.5h0M51.4 340.5h0M49 339.8h0M49.2 340.2h0M48.8 341.4h0M43.6 346.4h0M46.9 346.6h0M42.1 339.4h0M41.2 348.3h0M53.1 336.6h0M45.7 348.4h0M51.4 335.4h0M44.2 340.9h0M46.4 340.5h0M46.6 345.1h0M53.4 327.6h0M48.4 333.3h0M42.3 348.7h0M48.5 346h0M46.8 335.6h0M46 345h0M40.7 340.7h0M40.7 342.8h0M40.7 345.3h0M40.7 347h0M40.7 348.5h0M54.3 327.5h0M54.3 330.1h0M54.3 332.7h0M54.3 334.3h0M54.3 339.4h0M54.3 341.9h0M53.4 321.2h0M40.9 328.2h0M51.8 324.4h0M50.6 310.2h0M47.3 331.6h0M48.5 323h0M49.3 326.2h0M51.4 314h0M48.4 333h0M53.9 311.8h0M45.2 329.6h0M48.9 326.9h0M52.8 317.3h0M51.7 327.8h0M44.3 329.3h0M51.8 327.4h0M52 309.6h0M48.5 316.2h0M51.7 324.7h0M41.9 323.2h0M53.4 319.2h0M49.9 326.2h0M51.5 327h0M51.7 325.4h0M52.7 321.9h0M48.7 330.6h0M46.8 335.3h0M46.4 332.3h0M46.8 326.7h0M46.8 323.3h0M46.3 320.3h0M46.8 314.2h0M46.6 311.4h0M47 307.8h0M46.3 304.3h0M46.4 301.5h0M53.8 326.6h0M53.6 320h0M53.9 317h0M53.6 314.2h0M53.4 310.6h0M53.9 307.6h0M53.1 304h0M45.5 266.6h0M52.2 283.4h0M46.6 290.3h0M42.1 297h0M54.3 302.7h0M39.5 314.2h0M53 306h0M51 312h0M44 318h0M40 322h0M55 318h0M48 325h0"/>
<path d="M59.2,393.8 L57.7,392.3 L57.7,352 L62,350 L64,352 L68,353 L72,352 L75,350 L79.6,348 L79.6,392.3 L78.1,393.8Z" fill="#f8c120"/>
<g fill="#fff"><circle cx="70.7" cy="355.7" r="1.2"/><circle cx="70.8" cy="352.4" r="0.5"/><circle cx="67.2" cy="346.4" r="1"/><circle cx="60.8" cy="355.6" r="0.7"/><circle cx="74.1" cy="363.5" r="0.6"/><circle cx="68.6" cy="356.6" r="0.9"/><circle cx="64.9" cy="355.6" r="1.2"/><circle cx="69.8" cy="360.2" r="0.8"/><circle cx="62.6" cy="357.4" r="0.6"/><circle cx="62.3" cy="365.6" r="0.6"/><circle cx="69" cy="353.7" r="1.1"/><circle cx="61.7" cy="362.4" r="0.5"/><circle cx="73" cy="354" r="0.7"/><circle cx="63.4" cy="367" r="0.7"/><circle cx="62.3" cy="359.9" r="0.7"/><circle cx="67.9" cy="356.5" r="0.8"/><circle cx="61.6" cy="358.6" r="1.2"/></g>
<path stroke="#f8c120" stroke-width="4" stroke-linecap="round" d="M65.8 351.8h0M68.2 349.4h0M62.3 340.7h0M60.7 348.4h0M69.6 341.9h0M75.3 341h0M67.1 342.3h0M64.6 351.8h0M65.7 342.1h0M68.5 344.8h0M75.9 338.5h0M77.2 337.1h0M75.7 346.8h0M63.5 345.7h0M64.8 343.2h0M63.3 343.9h0M77.4 350.9h0M76.3 338.1h0M64.9 352.7h0M60.7 348.5h0M65 353.9h0M60 350.1h0M65.8 341.7h0M59.7 350.6h0M69.1 342.7h0M67.5 353.6h0M63.6 347.3h0M62.2 340h0M73.5 348.7h0M63.2 339.6h0M61.3 346.5h0M68.6 344.1h0M63.4 347.7h0M72.4 351h0M70.1 342.7h0M60.9 348.6h0M67 350.6h0M60.7 349.8h0M65.7 352.1h0M75.2 344.4h0M60 351.6h0M68.2 353h0M64.5 342.1h0M74.6 342.9h0M62.6 343.3h0M70.3 339.7h0M69 346.5h0M68.9 341.8h0M72.5 351h0M75.2 341.9h0M72.4 344.6h0M73.1 339.3h0M75.3 351.2h0M68.6 347.7h0M69.2 347.9h0M60.1 352.4h0M63.7 341.6h0M61.5 341.1h0M74.3 338.1h0M59.7 339.1h0M59.7 341.6h0M59.7 343.1h0M59.7 345.5h0M59.7 348.1h0M59.7 350.9h0M59.7 352.4h0M77.6 336.9h0M77.6 338.8h0M77.6 340.9h0M77.6 345h0M77.6 347.6h0M69.1 333.7h0M65.8 336.8h0M74.3 338h0M76.4 332.4h0M71 333.4h0M60.9 332.2h0M60.1 331.9h0M76.5 322.4h0M75.5 337.5h0M71.2 330h0M64.6 334.6h0M64.2 334.9h0M76.7 334h0M71.3 332.1h0M76.8 334.4h0M68 339.5h0M61.9 334.9h0M67 338.2h0M61.3 321.9h0M70.6 330.9h0M63.3 333.7h0M69.5 334.9h0M65.3 338.1h0M68.9 332.9h0M59.9 321.2h0M64 333.9h0M65 338.7h0M60.9 333.3h0M60.8 333.3h0M72.9 337.1h0M76.9 335.7h0M65.7 330.3h0M74.4 326.3h0M73 333.5h0M73.8 337.7h0M61.2 334.8h0M61.3 328.5h0M61 325.1h0M61.3 322h0M61.1 319.1h0M61.3 316.1h0M61.1 312.7h0M60.8 309.9h0M60.8 306.7h0M71 339.3h0M71 333.1h0M70.8 330.5h0M71.1 324h0M70.8 320.9h0M70.8 317.9h0M77.9 335.6h0M78.2 332.6h0M78.2 325.9h0M78.5 319.7h0M78.6 317h0M77.9 313.5h0M78.5 310h0M78 303.4h0M78 300.3h0M62.4 279.4h0M70.5 288.3h0M69.1 297h0M78.2 299h0M78.2 306h0M61 305h0M61 312h0M70.5 312h0M70.5 318h0M61 320h0M78 312h0M76 320h0"/>
<path d="M82.7,393.8 L81.2,392.3 L81.2,358.5 L86,359 L88,366 L90,371 L92,368 L94,356 L96,353 L102.5,353 L102.5,392.3 L101,393.8Z" fill="#413496"/>
<g fill="#fff"><circle cx="88.7" cy="372.9" r="0.8"/><circle cx="92.8" cy="359.9" r="0.6"/><circle cx="89.2" cy="368.6" r="0.8"/><circle cx="99.1" cy="373.3" r="1.2"/><circle cx="98.9" cy="362.6" r="0.9"/><circle cx="96.6" cy="368.1" r="0.9"/><circle cx="88.7" cy="367.8" r="0.9"/><circle cx="98.8" cy="368.8" r="0.7"/><circle cx="89.5" cy="362.8" r="1.1"/><circle cx="84.6" cy="359" r="0.8"/><circle cx="85.5" cy="374.1" r="1"/><circle cx="89.9" cy="377.1" r="0.9"/><circle cx="92.8" cy="362" r="0.8"/><circle cx="85.9" cy="365" r="0.9"/><circle cx="85.9" cy="383.3" r="1.1"/><circle cx="88.1" cy="374.5" r="0.7"/><circle cx="91.7" cy="370.9" r="0.9"/></g>
<path stroke="#413496" stroke-width="4" stroke-linecap="round" d="M90.8 366.2h0M87.5 352.1h0M99.3 352.8h0M88.6 368.1h0M97.3 344.7h0M93.6 359.7h0M91.8 369.6h0M87.4 356.9h0M95.6 344h0M88.5 367.5h0M91.6 367.6h0M87.4 353.7h0M89.4 359.5h0M100 344.5h0M92.9 351.4h0M92.4 358.3h0M90.2 358.9h0M85.3 358.4h0M89.3 360h0M86.5 352.2h0M87.3 351.3h0M94.7 347.2h0M85.9 356.6h0M84.8 350.1h0M97.6 342.1h0M90.9 369.3h0M97.1 342.6h0M89.3 367.2h0M89.7 371.7h0M86.8 363.1h0M91.9 358.7h0M91 358.6h0M95.4 344.9h0M98.8 348.9h0M89.6 360.8h0M93.7 348h0M98.3 342h0M92.1 362.8h0M87.9 364.2h0M89.9 367.6h0M93 353.7h0M89.9 359.3h0M86.3 359.7h0M88.8 364.9h0M85.1 354.4h0M89.5 364.2h0M88.3 355h0M88.6 358h0M85.4 356.7h0M88.1 359.4h0M98.9 351.7h0M98.5 352.9h0M85.5 350.2h0M83.7 356h0M94.7 347.4h0M90.3 367.4h0M95.3 344.9h0M83.2 348.7h0M83.2 350.5h0M83.2 353.4h0M83.2 355.9h0M83.2 357.5h0M83.2 359.3h0M83.2 361.4h0M100.5 341h0M100.5 345.1h0M100.5 347h0M100.5 349.5h0M100.5 353.7h0M84 345.7h0M96.9 334.3h0M84.7 342.4h0M96.1 338h0M95.2 326.3h0M94.1 343.4h0M95.3 335.6h0M99.3 328.1h0M84 332h0M100 333.9h0M87.5 348.3h0M90.3 355.2h0M94.8 340.3h0M99.4 337.8h0M98.5 333.5h0M86.1 339.2h0M97.6 337.9h0M89.4 357h0M88.1 343.3h0M91 354h0M86.1 347.3h0M100.4 340.2h0M93 344.3h0M90.7 350.9h0M94.3 337.6h0M87.5 351.1h0M97.7 339.2h0M94.2 342.1h0M99.8 340h0M99.2 336.7h0M99.4 333.2h0M99.8 330.1h0M99.6 327.2h0M99.5 317.2h0M99.6 314.4h0M99.2 311.7h0M82.3 345.6h0M81.9 342.8h0M82.1 336h0M82.2 332.7h0M82.4 329.8h0M82.3 298.4h0M88.1 295.6h0M94.2 313.2h0M82.1 325.4h0M100 308.2h0M100 314h0M100 320h0M98 326h0M96 332h0M86 330h0M90 336h0"/>
<path d="M105.5,393.8 L104,392.3 L104,358 L110,360 L112,369 L117,370 L119,362 L125.3,359.7 L125.3,392.3 L123.8,393.8Z" fill="#495226"/>
<g fill="#fff"><circle cx="115.7" cy="379.6" r="1.1"/><circle cx="111.1" cy="384.8" r="1"/><circle cx="119.6" cy="355.1" r="0.8"/><circle cx="120.6" cy="367.2" r="0.6"/><circle cx="117.4" cy="374.4" r="0.9"/><circle cx="120.5" cy="362.8" r="0.6"/><circle cx="120.5" cy="371.5" r="1.1"/><circle cx="109.8" cy="374" r="1.1"/><circle cx="122.2" cy="352" r="0.6"/><circle cx="121.9" cy="354.8" r="0.5"/><circle cx="120.9" cy="368.4" r="0.6"/><circle cx="109.6" cy="373.7" r="1"/><circle cx="108.4" cy="371" r="1"/><circle cx="120.5" cy="385.5" r="1.2"/><circle cx="107.5" cy="352.2" r="1"/><circle cx="107.6" cy="380.9" r="0.9"/><circle cx="110.5" cy="360.1" r="0.5"/></g>
<path stroke="#495226" stroke-width="4" stroke-linecap="round" d="M109.9 355.6h0M108 354.1h0M116.2 358.2h0M113.1 357.5h0M113.6 369.3h0M115.5 367.5h0M119.1 350.9h0M123.1 358.4h0M107.8 358.7h0M112.8 358.9h0M122.6 356.2h0M119.4 351.1h0M119.4 349.9h0M110.1 353.2h0M106.3 354.7h0M109.7 351.5h0M118.2 358.6h0M121.4 357.5h0M121.1 356.8h0M121.9 361h0M108.9 357.9h0M111.9 367.1h0M117.8 366.3h0M108.1 352.1h0M118.8 364.2h0M118.5 351.9h0M116.4 358.6h0M115.5 368.8h0M108 360.2h0M117.7 358.2h0M109.3 353.6h0M120.5 357.3h0M108 346.8h0M107.9 358.4h0M109.2 355.1h0M111 361.9h0M112.6 358.5h0M121.1 356.4h0M117.9 365.4h0M122.4 348.2h0M111.9 358.1h0M114.7 369.7h0M119.8 349.4h0M109.2 359h0M117.8 360h0M114.2 359h0M120.6 354.4h0M121.1 357.5h0M107.3 351.2h0M109.7 360.3h0M116.2 357.7h0M108.9 352.2h0M114.1 365.2h0M112.7 361.6h0M106.1 354.5h0M111.8 355.5h0M113.9 371.2h0M106 346.7h0M106 348.4h0M106 350.3h0M106 352.5h0M106 354.9h0M106 359.4h0M123.3 351.1h0M123.3 353.5h0M123.3 355.5h0M123.3 360.8h0M118.8 341.7h0M113 353.5h0M114.3 355h0M110.1 347h0M106.1 341.3h0M111.2 352.9h0M111.2 341.8h0M116.1 356h0M107.2 344.6h0M110.5 348.4h0M110.6 348.7h0M112.9 348.9h0M120.9 347.3h0M116.4 343h0M121.1 347.9h0M109.3 329h0M109.7 335.4h0M117.2 346.9h0M111.8 351.5h0M106.8 343.3h0M110.4 349.9h0M122 348.4h0M111.7 354.1h0M108.5 346.6h0M120.1 342.6h0M121.2 348.3h0M120.8 344.9h0M121 338.5h0M120.6 334.9h0M121.2 331.9h0M120.7 326.1h0M120.6 323.4h0M120.7 320.3h0M120.7 316.8h0M121.3 314h0M121.2 311.3h0M120.9 305.3h0M106.3 345.8h0M106.6 342.3h0M106.3 339.6h0M106.5 336.2h0M106.2 329.6h0M106.3 326.8h0M106.6 323.9h0M106.8 320.7h0M106 270.6h0M121.2 304.1h0M109.6 314.2h0M106.4 318.3h0M120.6 312.2h0M120.6 320.3h0M106 330h0M114 338h0M118 332h0"/>
<path d="M127.8,393.8 L126.3,392.3 L126.3,350 L130,350 L131,364 L133,374 L136,372 L137.5,349 L139,342 L146.8,342 L146.8,392.3 L145.3,393.8Z" fill="#d60b6f"/>
<g fill="#fff"><circle cx="133.6" cy="367.2" r="0.7"/><circle cx="137.7" cy="347.5" r="0.6"/><circle cx="142.5" cy="353" r="0.7"/><circle cx="141.5" cy="350.7" r="1.2"/><circle cx="135" cy="389" r="0.5"/><circle cx="134.8" cy="370.9" r="0.9"/><circle cx="130.7" cy="359.1" r="0.8"/><circle cx="139.9" cy="356.5" r="0.6"/><circle cx="141.3" cy="343.6" r="0.6"/><circle cx="142.7" cy="374.6" r="0.9"/><circle cx="133.5" cy="364.7" r="0.7"/><circle cx="140.2" cy="373.5" r="0.6"/><circle cx="136.3" cy="357.9" r="1.1"/><circle cx="138" cy="344.3" r="0.6"/><circle cx="133.2" cy="365.8" r="1.1"/><circle cx="141.6" cy="337.8" r="0.5"/></g>
<path stroke="#d60b6f" stroke-width="4" stroke-linecap="round" d="M144.6 333.9h0M142.8 331h0M136.3 356h0M135.4 362.3h0M139.6 331.4h0M140.5 336.6h0M130.2 344.6h0M136.5 365.3h0M134.1 363.7h0M144.3 342.3h0M140.4 333.2h0M131.2 356.2h0M129.4 337.8h0M136.7 354.6h0M137.5 341.8h0M128.5 347.4h0M139.1 337.3h0M137.4 348.6h0M144.5 342.1h0M140.1 335.1h0M133.6 367h0M144.4 334.9h0M134.7 366.2h0M130.7 361.2h0M128.4 346.2h0M143.6 333h0M138.4 337.7h0M132.3 360.5h0M130.2 352.7h0M141.2 342.6h0M129.1 347.5h0M133.7 370.3h0M137.4 343.1h0M144.3 329.2h0M140.6 341.8h0M136.7 357h0M144.7 332.7h0M138.7 341.7h0M134.6 370.7h0M134.8 367.8h0M138.4 342h0M133.6 370.1h0M137.3 343.2h0M138.4 335.9h0M143.3 336.2h0M140.2 336.9h0M136.2 360h0M130.6 359.9h0M137 351.2h0M137 355.9h0M132.2 359.9h0M141.9 336h0M138.9 342.1h0M143.1 342h0M129 342.8h0M128.3 340.7h0M128.3 342.5h0M128.3 344.1h0M128.3 346.8h0M128.3 349h0M144.8 330h0M144.8 332.2h0M144.8 334.9h0M144.8 337.4h0M144.8 339.7h0M144.8 341.7h0M144.8 343.8h0M137.7 334.2h0M140.1 326.5h0M129.8 320.4h0M141.4 325.8h0M129 333.9h0M140.1 325.3h0M139 326.1h0M143.6 323.6h0M133.7 348.8h0M140.8 321.9h0M142.2 324.2h0M143 323.9h0M139.4 325.4h0M141 327.8h0M130 325.4h0M137.6 326.2h0M140 329.5h0M139.7 322.1h0M144.8 311.5h0M130.7 341.2h0M142.5 323.6h0M135.2 357.2h0M142.6 312.5h0M144.3 329h0M144.3 326h0M144.5 322.8h0M144.2 316.9h0M144.4 313.8h0M144.5 310.8h0M144.5 307.9h0M144.6 304.7h0M144.4 299h0M141 329h0M141.5 325.5h0M141.4 322.4h0M141.6 319.5h0M141 313.9h0M141.1 307.5h0M141 304h0M140.9 301.4h0M144.3 250.4h0M144.3 270h0M144.3 281.8h0M144.3 296.4h0M141.3 301.5h0M141.3 311.2h0M140 319.3h0M127.7 326.4h0M145 316h0M143 322h0"/>
<path d="M149.9,393.8 L148.4,392.3 L148.4,347 L152,345 L154,359 L157,365.5 L160,359 L161.5,339 L166.7,338 L166.7,392.3 L165.2,393.8Z" fill="#e66519"/>
<g fill="#fff"><circle cx="163.2" cy="335.6" r="0.7"/><circle cx="153.4" cy="371.4" r="0.9"/><circle cx="161.6" cy="333.5" r="0.6"/><circle cx="157.7" cy="369.9" r="1.1"/><circle cx="153.4" cy="345.6" r="0.7"/><circle cx="152.1" cy="346.4" r="0.7"/><circle cx="153.7" cy="356.4" r="0.7"/><circle cx="163" cy="333.9" r="0.8"/><circle cx="152.7" cy="355.1" r="0.7"/><circle cx="156.2" cy="388.7" r="0.7"/><circle cx="153.9" cy="378.9" r="1.1"/><circle cx="156.9" cy="368.7" r="1"/></g>
<path stroke="#e66519" stroke-width="4" stroke-linecap="round" d="M159 362.8h0M155.3 363h0M159.8 347.4h0M155.2 355.4h0M153.9 356.8h0M153 350.6h0M154.7 348.7h0M158.4 351.1h0M158.3 361.6h0M158.9 355.4h0M150.9 340.4h0M151.8 341.9h0M152.3 342.8h0M155.4 354.9h0M159.9 348.9h0M152.8 351.9h0M155.1 361.1h0M162.9 333h0M152.5 337.3h0M163 327.6h0M157.5 359.6h0M152.1 339.7h0M152.7 345.3h0M157.6 356.7h0M153.2 346.8h0M153.3 343.2h0M153.8 357.9h0M157.6 364.6h0M150.6 346.9h0M157.4 363.6h0M158.6 359.5h0M153.7 355h0M152.6 340.3h0M150.8 338.7h0M157.8 355.3h0M163.1 327.1h0M158.7 352.5h0M158.9 360.2h0M160.6 339.6h0M153.9 354.5h0M164.5 326.2h0M159.2 358.1h0M162 331.2h0M162 332.9h0M163.6 326h0M163.8 331.8h0M156.2 352.3h0M153.9 356.4h0M160.1 347h0M150.4 333.9h0M150.4 335.6h0M150.4 337.4h0M150.4 343.1h0M150.4 345.3h0M150.4 348.2h0M164.7 326.4h0M164.7 331.5h0M164.7 334.1h0M164.7 338.3h0M163.3 310.6h0M161.9 321.8h0M162.2 308.4h0M161.7 310.6h0M153.7 339.5h0M163.4 315.5h0M161.7 319.5h0M156.2 342.3h0M162.4 318.7h0M162.4 326.8h0M157.4 351.6h0M162 318.5h0M153.5 326.4h0M159.3 347.8h0M161.9 316.6h0M153 337h0M164.1 324.8h0M162.3 320.1h0M150.4 329.8h0M162 323h0M151.8 315.2h0M150.5 329.2h0M151.2 325.9h0M150.9 323h0M150.9 320h0M150.7 316.5h0M151.1 312.9h0M150.8 309.6h0M150.4 303h0M151.2 300h0M164.3 325.5h0M164.1 322.3h0M164 319h0M164.2 315.6h0M150.8 299h0M150.8 317.3h0M164.2 308.2h0M164.2 315.3h0M154.5 336h0M157.5 342.2h0M150.8 325h0M164 322h0M162 328h0"/>
<path d="M170.2,393.8 L168.7,392.3 L168.7,349 L172,344 L176,338 L180,334 L184,339 L188,347 L188,392.3 L186.5,393.8Z" fill="#d581b7"/>
<g fill="#fff"><circle cx="184.1" cy="351" r="0.7"/><circle cx="180.6" cy="348.1" r="1.1"/><circle cx="175.2" cy="340.1" r="0.6"/><circle cx="171.9" cy="334.5" r="1.2"/><circle cx="181.1" cy="333.8" r="0.6"/><circle cx="182.4" cy="338.3" r="0.6"/><circle cx="182.2" cy="345.1" r="1.1"/><circle cx="183.9" cy="364" r="0.9"/><circle cx="182.6" cy="327.8" r="0.9"/><circle cx="179.9" cy="350.8" r="0.6"/><circle cx="172.4" cy="351.4" r="0.9"/><circle cx="175.6" cy="330.4" r="1"/><circle cx="172" cy="335.3" r="1.1"/><circle cx="182.5" cy="336" r="1"/><circle cx="174.5" cy="332.7" r="0.8"/></g>
<path stroke="#d581b7" stroke-width="4" stroke-linecap="round" d="M175.5 328.2h0M182.3 331h0M179.2 331.9h0M182.2 328h0M176.2 338.5h0M178.8 326.7h0M180.3 325.5h0M182.5 324.9h0M183.3 333.8h0M176.1 339h0M174.8 330.7h0M171.8 339.7h0M182.2 334h0M177 336.1h0M172.4 335.1h0M180.6 336.2h0M180.4 331.9h0M182.6 330.2h0M185.1 339.4h0M175.9 331.1h0M183 330.2h0M173.5 341.8h0M178.8 330.1h0M180.9 335.7h0M172.7 335.1h0M171.7 337.8h0M178.4 335.4h0M180.9 330.9h0M176.9 332.8h0M174.9 339.4h0M182.8 337.1h0M173 339.6h0M182.2 331.4h0M184.4 340.4h0M182.1 335.9h0M180.6 335h0M172.7 340.6h0M181.5 332.1h0M174.9 327.8h0M179.9 333.5h0M174.9 330h0M174.1 329.4h0M181 336.9h0M183 330.2h0M181.4 324h0M183.5 330.4h0M170.8 342.4h0M172.8 334h0M171.6 338.4h0M179.2 334h0M171.3 344.5h0M172.4 333.9h0M170.7 334h0M170.7 336h0M170.7 338.3h0M170.7 341h0M170.7 346.1h0M170.7 348.8h0M186 331h0M186 332.6h0M186 335.2h0M186 337.3h0M186 339.7h0M185.8 324.7h0M172.7 320.6h0M181.5 320.2h0M173.6 326.6h0M178.6 321.4h0M181.5 321.1h0M179.3 316h0M181.8 323.6h0M173.8 311.3h0M181.7 321.4h0M176.1 316.9h0M185.9 330.3h0M173.4 322.7h0M177.7 323.3h0M178 322.8h0M172.4 325.1h0M173.9 329h0M184.6 319.4h0M177.4 320.3h0M183.1 324.6h0M170.9 325.7h0M176.5 309.5h0M182.7 325h0M184.3 326.9h0M175.6 307h0M178.1 321.8h0M176.6 317.4h0M172.6 325.6h0M179.7 311.3h0M177.4 313h0M172.7 330h0M172.9 326.9h0M172.9 324.1h0M173 321h0M172.5 317.8h0M172.6 314.3h0M184.6 328h0M184.6 321.9h0M172.7 302.1h0M170.3 314.2h0M175.2 314.2h0M184.9 321.3h0M186.5 330.5h0M178 318h0M180 312h0"/>
<path d="M192.1,393.8 L190.6,392.3 L190.6,349 L194,344 L196,336 L198,330 L206,330 L209.2,334 L209.2,392.3 L207.7,393.8Z" fill="#83d3ad"/>
<g fill="#fff"><circle cx="204" cy="344.6" r="0.7"/><circle cx="199.3" cy="320" r="0.9"/><circle cx="202.6" cy="328.7" r="0.6"/><circle cx="205.7" cy="330.2" r="0.6"/><circle cx="195.3" cy="352.2" r="1.1"/><circle cx="194.3" cy="336" r="0.7"/><circle cx="195.7" cy="344.1" r="0.8"/><circle cx="204.8" cy="330.1" r="1"/><circle cx="204.4" cy="333.7" r="1.2"/><circle cx="198.7" cy="323.8" r="0.5"/><circle cx="205.1" cy="322.7" r="0.7"/><circle cx="197.2" cy="324.3" r="1.2"/><circle cx="204.6" cy="339.4" r="1.1"/><circle cx="203.8" cy="330.6" r="1"/></g>
<path stroke="#83d3ad" stroke-width="4" stroke-linecap="round" d="M194.2 344.8h0M200.6 322.4h0M194 342h0M205 329.8h0M194.1 336.3h0M197 331.4h0M194.8 337.1h0M206.9 329.7h0M192.7 334.2h0M194.3 340.4h0M201.3 324.9h0M199.3 323.2h0M201.5 326.8h0M206 328h0M204.2 330.7h0M204.8 327.8h0M193 342.7h0M205 323.6h0M205.4 319.9h0M206.4 324.2h0M202.9 320.9h0M197 325.4h0M197.3 320.6h0M199.1 331.7h0M202.1 331h0M203.7 329.6h0M207.1 329.7h0M196.6 325.1h0M198.6 317.5h0M196 336.4h0M206 322.1h0M203.8 328.7h0M205.6 329h0M200.4 318.8h0M204.7 321.8h0M201.8 322.6h0M200.4 331.5h0M195 335.2h0M202.1 325.2h0M206.3 323.6h0M205.9 327.4h0M206.7 319.4h0M195.7 328.7h0M205.8 317.4h0M196.4 332.6h0M207 321.1h0M199 327.4h0M202.7 328.2h0M203.6 320.9h0M196.4 322.5h0M192.6 334.1h0M192.6 335.9h0M192.6 338.8h0M192.6 341.2h0M192.6 343.6h0M192.6 345.6h0M192.6 347.2h0M207.2 319.5h0M207.2 321.2h0M207.2 324.1h0M207.2 326h0M207.2 327.8h0M207.2 329.8h0M207.2 332.3h0M197.6 318.9h0M204.7 300.6h0M204.3 315.1h0M192.7 332.4h0M202.2 308.3h0M195.2 326.1h0M206.9 309.7h0M200.9 317.4h0M197.9 316.9h0M204.1 313.9h0M200.2 315.4h0M204.2 313.7h0M203.8 316.1h0M195.8 320.7h0M202 299.7h0M204.8 317.7h0M199 312.5h0M203 316.9h0M199.6 315.6h0M199 317.4h0M197.9 313.4h0M193.6 320.3h0M200.8 310.3h0M200.3 316.3h0M205.2 317.2h0M199.3 317.3h0M199.2 315.9h0M202.3 316.9h0M207 317.4h0M203.3 317h0M203.2 313.9h0M203 310.5h0M203.3 307.4h0M203.5 301.2h0M203.3 295.4h0M203 291.9h0M202.9 289.3h0M203.3 286.5h0M199.4 317h0M199.3 311.6h0M199.7 308h0M199.6 304.8h0M199.7 298.9h0M199.2 296h0M199.2 292.7h0M203.2 235.5h0M203.2 252.4h0M203.2 273.7h0M203.2 279.8h0M202.4 285.9h0M199.1 292h0M192.6 294h0M204.2 297h0M199.5 300h0M199.5 306h0M195.5 306h0M203 303h0M203 309h0M207 300h0M193 312h0"/>
<path d="M212.6,393.8 L211.1,392.3 L211.1,359.7 L234.4,359.7 L234.4,392.3 L232.9,393.8Z" fill="#7c162c"/>
<g fill="#fff"><circle cx="229.4" cy="368.9" r="0.8"/><circle cx="226.4" cy="350.6" r="1.2"/><circle cx="217.6" cy="354.8" r="1"/><circle cx="217.3" cy="364.9" r="0.9"/><circle cx="222.8" cy="354.6" r="1.2"/><circle cx="231.4" cy="358.4" r="0.9"/><circle cx="227.9" cy="365.8" r="0.9"/><circle cx="227.2" cy="385.8" r="1.1"/><circle cx="220.4" cy="360.6" r="0.5"/><circle cx="222.8" cy="355.3" r="1.1"/><circle cx="229.7" cy="370.4" r="1.2"/><circle cx="223.8" cy="355.7" r="0.6"/><circle cx="225" cy="355.9" r="0.9"/><circle cx="218.6" cy="367.5" r="0.7"/><circle cx="221.4" cy="369.9" r="0.6"/><circle cx="214.2" cy="351.4" r="0.7"/><circle cx="226.5" cy="349.8" r="0.7"/><circle cx="223" cy="362.9" r="0.6"/></g>
<path stroke="#7c162c" stroke-width="4" stroke-linecap="round" d="M223 348.6h0M217.8 356.6h0M224.4 358.8h0M230.4 361.1h0M216.8 348h0M230.4 355.3h0M216.6 357.1h0M218 350.4h0M220.2 354.7h0M226.2 348h0M227.4 356.1h0M222.2 356.8h0M228.5 347h0M222.3 356.9h0M226.8 356.5h0M216.6 361.1h0M228.3 350.3h0M221.4 361.1h0M217.1 353h0M231.7 360.2h0M217.6 357.8h0M220 356.7h0M227.9 348.8h0M217.4 350.1h0M218.2 347.4h0M215.7 352.9h0M221.2 348.1h0M224.3 360.8h0M224.2 352.2h0M226.7 353.4h0M216.5 354h0M213.4 356.9h0M216.2 352.4h0M231.7 358.2h0M229.2 356.4h0M225.3 357.3h0M231.8 349.8h0M227.9 351.4h0M218 359.1h0M224.7 359.5h0M230 355.6h0M216.9 347.1h0M223.4 357.6h0M218.4 347.9h0M213.2 349.5h0M226.5 347h0M217.5 350.8h0M226.8 361.5h0M213.5 348.6h0M231.1 361.3h0M216 351.9h0M223.2 351.6h0M221.2 354h0M218.1 347.7h0M214.7 349.3h0M214.9 356.1h0M226.5 350.8h0M228.4 357.7h0M219.7 354.2h0M216.7 360.6h0M223.9 347.7h0M216.1 357.2h0M220.5 357.5h0M213.1 347.7h0M213.1 352h0M213.1 353.8h0M213.1 356.5h0M213.1 358.4h0M213.1 360.9h0M213.1 362.6h0M232.4 347.7h0M232.4 350.2h0M232.4 352h0M232.4 354.3h0M232.4 355.9h0M232.4 357.7h0M232.4 360.2h0M219.1 345h0M216.1 334.4h0M229.1 340.6h0M219.1 336.2h0M214.2 346.9h0M214 346.2h0M231.1 342.1h0M216.9 341.3h0M223.2 336.4h0M223.3 346.7h0M214.5 341.8h0M218 345.4h0M219.2 336.5h0M228 342.4h0M231 339h0M215.1 338.6h0M218.5 339.5h0M215.6 339h0M218.9 335.2h0M228 346.9h0M220.7 347.2h0M218.7 346.4h0M215.2 346.1h0M223.4 346h0M216.5 342.7h0M219.6 345.2h0M231.9 345h0M227.4 343.4h0M231.6 344.6h0M222.1 335.8h0M215.6 346.7h0M228.8 345.1h0M218 346.4h0M229.6 346h0M227.5 345.8h0M221.2 329.8h0M224.2 334.7h0M224.8 344.8h0M229.5 344.9h0M220.2 343.8h0M220.4 345.4h0M230.7 338.6h0M230.2 345.2h0M230.8 341.1h0M219.3 346.7h0M218.9 343.8h0M219 340.4h0M219.1 325h0M218.9 319.2h0M219.3 315.8h0M218.8 313h0M218.6 310.3h0M218.7 306.9h0M218.8 304.2h0M224.5 346.7h0M224.4 343.1h0M224.6 339.7h0M224.6 336.3h0M224.4 333.1h0M224.3 329.7h0M224.2 323.4h0M224.6 317.2h0M224.2 314.5h0M224 311.2h0M224.1 304.7h0M218.8 286.9h0M223.3 286.9h0M215.1 296.4h0M219.2 302.1h0M224.3 300.5h0M231.8 305.1h0M220.2 314.2h0M224.3 315.3h0M229.3 320h0M224.3 321.3h0M212.7 328.4h0M218.2 329.5h0M213 335h0M230 335h0"/>
<path d="M236.9,393.8 L235.4,392.3 L235.4,357.5 L240,352 L243,357 L250,352.4 L255,357 L259.4,354 L259.4,392.3 L257.9,393.8Z" fill="#26755d"/>
<g fill="#fff"><circle cx="250.4" cy="359.3" r="1.2"/><circle cx="250.6" cy="380.6" r="1"/><circle cx="238.4" cy="362" r="1.2"/><circle cx="244" cy="352.1" r="0.9"/><circle cx="238.6" cy="377.2" r="0.9"/><circle cx="253.2" cy="365" r="0.5"/><circle cx="242" cy="360" r="0.6"/><circle cx="255.2" cy="377.6" r="0.7"/><circle cx="254.2" cy="362.1" r="1.2"/><circle cx="245.7" cy="346.8" r="1"/><circle cx="239.6" cy="367" r="0.6"/><circle cx="251.8" cy="388.5" r="0.7"/><circle cx="241.1" cy="361.2" r="1.2"/><circle cx="256.3" cy="366.1" r="1.2"/><circle cx="249.6" cy="348.7" r="1"/><circle cx="248.3" cy="352.3" r="0.8"/><circle cx="254.6" cy="347" r="0.6"/><circle cx="241.1" cy="353.8" r="0.9"/><circle cx="252.8" cy="356.4" r="0.9"/></g>
<path stroke="#26755d" stroke-width="4" stroke-linecap="round" d="M249.5 353.3h0M241.4 350.3h0M251.8 352.4h0M251.6 351.6h0M242.9 356.4h0M255.9 344.4h0M256.3 349.9h0M239.1 341.3h0M253.3 352.7h0M240.2 346.4h0M250.2 354.5h0M244.1 354.8h0M242.3 346h0M240.6 346.3h0M249.8 344.2h0M240.6 343.5h0M239.1 343.1h0M243.7 351.2h0M241.1 348.1h0M246.2 356.5h0M247.1 355.5h0M246.8 344.6h0M249.2 342.2h0M240.8 341.6h0M251.4 355.2h0M245.5 347.8h0M245.9 347.5h0M251.2 346.5h0M240.4 352.7h0M248.9 340.4h0M254.4 354.4h0M244.5 352.5h0M255.8 349.6h0M246.1 346.6h0M248.5 350.4h0M252.1 355.6h0M240.3 345.1h0M254.4 355.4h0M249.2 350.1h0M244.2 357.4h0M248.4 346.6h0M241 342.7h0M255.4 355.8h0M237.9 346.5h0M247 348.9h0M244.7 356.4h0M244.4 351.2h0M256 353h0M246.9 346.5h0M245.1 351.8h0M253.1 346.3h0M244.8 348.7h0M244.7 356.6h0M248.2 344.9h0M244 355.7h0M240.6 350.4h0M237.8 344.6h0M238.6 352.8h0M240.3 343.1h0M238.6 344.8h0M252.1 352.2h0M255.6 357.8h0M248.4 354.3h0M239.2 353.9h0M246.1 345h0M237.4 343.1h0M237.4 345.9h0M237.4 350.2h0M237.4 353.1h0M237.4 354.7h0M237.4 356.2h0M257.4 343.4h0M257.4 345.1h0M257.4 347.5h0M257.4 350.5h0M257.4 353.4h0M257.4 355.5h0M251.5 340h0M240.4 328.7h0M238.6 331.4h0M238.1 328.2h0M248.9 321.9h0M249.4 336.2h0M255.7 343.1h0M240.9 330.9h0M237.5 329.1h0M247.7 327.5h0M245.7 335.6h0M252 333.6h0M256 340.9h0M244.9 336.6h0M253.2 337.1h0M243.8 341.8h0M249.6 323.1h0M247.2 341.5h0M256 342.9h0M252.6 337.5h0M239.1 340h0M242.9 326.4h0M246.2 340.2h0M252 341.3h0M247.3 340h0M250.5 336.7h0M257.4 335.8h0M253.6 338.2h0M254.7 340.4h0M239.8 338.9h0M251 336.4h0M252.2 333.3h0M244.9 328.5h0M238.1 341.5h0M238.1 336.6h0M251.8 338.2h0M256.1 343h0M253.7 341.9h0M247.4 340.5h0M256 330.4h0M254 342.8h0M253.7 336.2h0M253.4 332.8h0M253.5 326h0M253.7 316.6h0M253.4 313.6h0M253.5 310.5h0M253.9 307.5h0M254 304.4h0M253.8 297.8h0M258 342h0M257.8 339h0M258.1 336.3h0M258.4 329.9h0M258.3 326.6h0M258.1 323.4h0M258 315h0M257.7 312.1h0M253.7 267.2h0M253.7 297h0M253.7 302.5h0M254.1 311.2h0M257.3 312.6h0M258.1 318.3h0M239.1 320.3h0M246.6 322h0M251.2 320.3h0M237.5 326.4h0M243 328h0M248 330h0"/>
<path d="M261.7,393.8 L260.2,392.3 L260.2,364 L265,364 L267,379 L268,391.3 L269.5,379 L272,359 L274,352.4 L280,352.4 L280,392.3 L278.5,393.8Z" fill="#4197d8"/>
<g fill="#fff"><circle cx="274.2" cy="360.4" r="1.1"/><circle cx="266.9" cy="371.7" r="1.2"/><circle cx="264" cy="374.3" r="0.8"/><circle cx="266.3" cy="386.2" r="1.1"/><circle cx="270.8" cy="380.9" r="0.8"/><circle cx="274.2" cy="353.5" r="1"/><circle cx="269.3" cy="379.8" r="1.2"/><circle cx="264.5" cy="366.1" r="0.5"/><circle cx="264.5" cy="357" r="0.6"/><circle cx="267.2" cy="380.7" r="1"/><circle cx="270.3" cy="373.3" r="0.9"/><circle cx="270" cy="366.1" r="0.8"/><circle cx="275.1" cy="351.7" r="0.8"/></g>
<path stroke="#4197d8" stroke-width="4" stroke-linecap="round" d="M271.1 359.9h0M270.8 356.1h0M263.1 357.5h0M265.9 369.5h0M266 371.1h0M266 360.2h0M269.7 370h0M267.5 385h0M265.7 366.5h0M275.4 346.3h0M270.1 374.7h0M271.7 350.9h0M263.3 352.4h0M267.4 374.1h0M272.5 351h0M267.1 374.9h0M277 343.2h0M264.6 355.7h0M267.3 384.5h0M273.4 348.1h0M264.8 351.9h0M264.1 363.7h0M272.4 347.1h0M272.1 346.8h0M270.2 365.5h0M263.8 362.2h0M273.5 348.7h0M264.9 361.1h0M269 380.5h0M263.6 364.6h0M262.3 354.5h0M268.5 379.2h0M263.6 361.4h0M277.9 344.6h0M266.4 371.7h0M265.7 362.5h0M273.1 349h0M264.7 352.2h0M270.8 370.6h0M276.7 341.1h0M270.1 368.3h0M265.3 363.1h0M270 373.9h0M266.8 378.6h0M275.1 346.6h0M264.4 358.4h0M264.2 361.3h0M273.2 350.7h0M277.6 340.3h0M273.5 353.1h0M264 356h0M263 359.8h0M273.6 346h0M262.2 352h0M262.2 354.1h0M262.2 358.1h0M262.2 359.8h0M262.2 362.6h0M262.2 366.9h0M278 340.4h0M278 341.9h0M278 346.9h0M278 349.8h0M278 352.6h0M271.1 347.3h0M271.5 348.1h0M273.3 336.1h0M273.4 336.5h0M273.8 335.8h0M273.8 338.7h0M274.6 330.3h0M272.2 343.4h0M263.2 351.7h0M277.4 330.4h0M277.5 338.1h0M274.8 334.4h0M276.3 322.2h0M265.1 349.8h0M276.8 336.8h0M275.7 335.4h0M276.5 335.8h0M271.6 350h0M273.5 340.7h0M273.8 338.1h0M273.7 335.2h0M273.7 332.4h0M273.4 329.2h0M273.7 322.9h0M273.5 320h0M277 339.4h0M276.8 336.7h0M277.3 333.7h0M276.9 325.3h0M265.4 297.6h0M275.6 304.1h0M273.6 317.3h0M277 325.4h0M272 332.5h0M262 328h0M266 334h0"/>
<path d="M282.6,393.8 L281.1,392.3 L281.1,362.6 L286,364 L287,376 L288,364 L289,349 L292,345 L301.3,345 L301.3,392.3 L299.8,393.8Z" fill="#f8c120"/>
<g fill="#fff"><circle cx="286.7" cy="378.6" r="0.8"/><circle cx="285.8" cy="367" r="0.9"/><circle cx="288.4" cy="365.9" r="0.8"/><circle cx="287.3" cy="365.6" r="1.2"/><circle cx="288.7" cy="364.6" r="0.8"/><circle cx="294.8" cy="362.1" r="0.7"/><circle cx="285.7" cy="372.9" r="1.1"/><circle cx="287" cy="370.9" r="0.8"/><circle cx="294.9" cy="336.7" r="0.9"/><circle cx="290.1" cy="347.7" r="1.2"/><circle cx="296.8" cy="336.7" r="0.8"/><circle cx="284.6" cy="376.6" r="0.8"/><circle cx="297.1" cy="342.8" r="1"/><circle cx="285" cy="376.3" r="1.1"/><circle cx="285.7" cy="363" r="0.5"/><circle cx="289.4" cy="365.5" r="0.6"/></g>
<path stroke="#f8c120" stroke-width="4" stroke-linecap="round" d="M293.1 340.5h0M287.7 356h0M298.6 337.7h0M285 360.6h0M291.7 337.4h0M288.4 357.4h0M288.6 348.6h0M298.6 337.5h0M289.6 337.8h0M293.8 342h0M290.3 340.4h0M286.9 373.3h0M290.5 346.5h0M289.2 346.8h0M283.6 353.8h0M298.7 342.3h0M294 339.6h0M290.8 336.8h0M285.9 360.7h0M294.3 336h0M293.5 334.2h0M293 334.7h0M291.4 337.7h0M292 334.2h0M290.9 342.8h0M285.3 355.6h0M294.1 340.3h0M293.1 343.7h0M292.4 335.5h0M290.3 346.8h0M292.3 343.3h0M289 342.9h0M298.8 344.4h0M293.7 333.8h0M293 332.7h0M298.2 346.6h0M294.9 336.2h0M296.8 334.8h0M296.5 339.9h0M283.4 363.6h0M290.2 346.8h0M294.3 340.1h0M297.1 335.2h0M297.7 337.2h0M283.5 355.5h0M284.2 351.7h0M293.2 334h0M285.7 355.4h0M287.6 369.4h0M297.8 345.1h0M299.1 338.7h0M296 336.4h0M298.1 344.2h0M295 335.6h0M283.1 351.2h0M283.1 354.1h0M283.1 358.2h0M283.1 360.4h0M283.1 362.6h0M283.1 365.5h0M299.3 334.9h0M299.3 337h0M299.3 340.8h0M299.3 343.1h0M299.3 345.7h0M288.9 334.9h0M295 328.3h0M291.6 329.3h0M291.3 331.9h0M294.8 317.9h0M284.6 342.5h0M290.9 326.7h0M292 324.1h0M295.8 317.8h0M290.2 333.7h0M291.4 331.6h0M297.1 331.5h0M291.8 326.9h0M296.7 331.2h0M292.3 330.8h0M295.8 321.3h0M293.6 327.1h0M294.3 325.8h0M295 316.6h0M297.2 330.4h0M284.5 350.7h0M291 331.1h0M290.6 320.9h0M294.8 330.7h0M283.2 350.2h0M294.4 331.1h0M297.6 332h0M297 329h0M297.3 325.5h0M297.6 322.4h0M297.2 319.3h0M297.4 315.9h0M286.1 351h0M286.3 348.2h0M286.3 345.5h0M286.1 341.9h0M285.8 335.6h0M285.8 332.3h0M286.1 329h0M285.9 326.4h0M285.7 323.2h0M286.2 319.9h0M286.2 317h0M285.7 314.3h0M286.2 310.8h0M292.6 288.3h0M286.1 309.2h0M296.3 315.3h0M284.5 323.4h0M299.3 320.3h0M297.3 324.4h0M288.2 331.5h0"/>
<path d="M304.6,393.8 L303.1,392.3 L303.1,355.3 L315,355.3 L316,342.2 L324.4,342.2 L324.4,392.3 L322.9,393.8Z" fill="#413496"/>
<g fill="#fff"><circle cx="319" cy="350.3" r="1.1"/><circle cx="307.1" cy="359" r="0.7"/><circle cx="308.5" cy="355.5" r="1"/><circle cx="315" cy="356.7" r="0.6"/><circle cx="318.4" cy="342.2" r="1.1"/><circle cx="318.7" cy="332.7" r="0.7"/><circle cx="320.5" cy="337" r="0.5"/><circle cx="319.4" cy="344.3" r="1.1"/><circle cx="307.6" cy="348.5" r="0.9"/><circle cx="318.8" cy="363" r="1.2"/><circle cx="311.1" cy="365.7" r="0.7"/><circle cx="316.6" cy="367.2" r="1"/><circle cx="319.1" cy="345.4" r="0.7"/><circle cx="314.4" cy="351.2" r="0.6"/><circle cx="319.3" cy="342.5" r="1"/><circle cx="316.4" cy="340.8" r="0.6"/><circle cx="318" cy="333.8" r="0.6"/></g>
<path stroke="#413496" stroke-width="4" stroke-linecap="round" d="M313.3 342.7h0M307.7 345.8h0M306.5 343.8h0M308.5 350.2h0M307.5 354.7h0M312.3 346.2h0M309.3 354.9h0M305.9 353.5h0M306.8 356.5h0M312.2 351.3h0M320 330.9h0M306.2 352.8h0M315.3 349.7h0M309.9 349.9h0M308.3 349h0M310 351.2h0M310.3 346.6h0M316.2 330.7h0M319 336.7h0M309.1 344.2h0M313.9 350h0M317.5 334.9h0M312.2 355.7h0M309.8 357h0M320.5 344.1h0M321.4 333.2h0M319.2 338.5h0M308.6 357.3h0M316.3 341.4h0M314.8 343.7h0M320 332h0M309.6 351.6h0M308.5 349.3h0M317.4 330.8h0M316.5 330.9h0M313.3 352.1h0M317 330h0M308.4 356.7h0M311.9 348.8h0M311.6 352.8h0M317.9 339h0M312.1 350.9h0M314 345.3h0M321.5 343.7h0M318.5 344.1h0M313.2 354.9h0M309.3 353.5h0M317.5 343.3h0M319.5 342.4h0M309.7 354.2h0M313.3 347.1h0M311.5 354.3h0M319.7 341.9h0M316.7 331.9h0M307.8 350.9h0M308.8 347.5h0M306.9 344.8h0M305.1 343.3h0M305.1 349.1h0M305.1 351.2h0M305.1 353.3h0M305.1 356.9h0M322.4 330.2h0M322.4 332.1h0M322.4 333.7h0M322.4 336.1h0M322.4 338h0M322.4 340.9h0M319.8 319h0M319.1 323h0M319.2 323.2h0M309.7 341.4h0M317.4 316.6h0M316 323.3h0M314.9 340h0M306.9 332.3h0M321.2 320.4h0M321.3 324.9h0M310.6 334.6h0M319.1 319.8h0M320.5 328.9h0M313.6 334.3h0M316 328.6h0M306.4 343.1h0M313.4 339.6h0M319.8 322.3h0M309.2 337.2h0M313.8 334.9h0M322.3 326.5h0M305.3 342.8h0M317.2 313.9h0M315.2 340.1h0M311.7 334.6h0M311.6 338.6h0M318.9 329.1h0M322.2 329.8h0M320.3 327.3h0M321 328h0M315.1 339.1h0M318.3 326.6h0M317.8 329.2h0M317.5 323.4h0M317.6 316.9h0M317.9 313.7h0M317.8 311.1h0M308.4 342.3h0M308.6 336.2h0M308.9 332.9h0M309.2 330h0M308.7 323.8h0M309 318h0M308.6 314.5h0M304.7 247.7h0M313.9 297h0M307.6 309.2h0M317.3 311.2h0M308.8 318.3h0M317.7 320h0M314.3 324.4h0M304.7 329.5h0M321.4 325.4h0M309.6 333.5h0"/>
<path d="M326.9,393.8 L325.4,392.3 L325.4,352 L328,350 L331,359 L336,362 L340,357 L342,344 L345,336 L346.7,344 L346.7,392.3 L345.2,393.8Z" fill="#495226"/>
<g fill="#fff"><circle cx="329.9" cy="360.9" r="0.9"/><circle cx="341.6" cy="345.6" r="1"/><circle cx="335.6" cy="360.8" r="1.2"/><circle cx="333.6" cy="386.8" r="0.7"/><circle cx="343.2" cy="357.9" r="1.1"/><circle cx="330.2" cy="358.7" r="1.1"/><circle cx="340.2" cy="345.5" r="0.6"/><circle cx="343.1" cy="355.6" r="0.6"/><circle cx="340.4" cy="347.1" r="1"/><circle cx="334.7" cy="366.7" r="1"/><circle cx="329.1" cy="359.4" r="1.1"/><circle cx="335.6" cy="359" r="1.1"/><circle cx="333" cy="354.1" r="0.8"/><circle cx="329.6" cy="346" r="1.1"/><circle cx="342.9" cy="353.7" r="1.2"/></g>
<path stroke="#495226" stroke-width="4" stroke-linecap="round" d="M332.3 358.4h0M335.5 361h0M330.2 345.3h0M333.4 360.7h0M330.2 344.9h0M340.4 342.8h0M339 346.7h0M331.7 356.4h0M342.5 335.9h0M335.2 349.2h0M333.3 351.2h0M341 348h0M341 345.8h0M339.5 346.7h0M334.1 352.4h0M332.3 357.9h0M331.1 351.1h0M332.3 359.8h0M338.4 353.3h0M334 361.6h0M343.7 333.5h0M337.2 360.5h0M331.8 350.5h0M329.2 348.2h0M340.7 342h0M334.9 363.2h0M335.7 354.7h0M341.9 344.9h0M333.9 349.8h0M338.4 357.1h0M343.4 337.3h0M332.7 354.9h0M332.4 353.6h0M335.5 362.4h0M343.1 342h0M335.7 363.3h0M329.8 356.2h0M338.5 359h0M334.6 363h0M327.8 349.9h0M341.6 339.5h0M341.7 336.1h0M340.4 348.4h0M334.5 351.2h0M341.2 346.9h0M328.9 354.5h0M331.2 351.9h0M334.6 356.9h0M342.8 343.1h0M338.4 351.7h0M329.3 342h0M336.4 357.4h0M335.1 363.2h0M334.6 353.5h0M334.6 350.9h0M343.6 335.6h0M336.8 354.5h0M327.4 338.5h0M327.4 340.4h0M327.4 344.9h0M327.4 346.5h0M327.4 348.5h0M327.4 351.4h0M344.7 324.8h0M344.7 327.1h0M344.7 328.7h0M344.7 331.2h0M344.7 336h0M344.7 337.6h0M331.3 341.2h0M338.2 341.9h0M331.4 345.5h0M341.5 323.9h0M338.5 343.3h0M327.6 320h0M332.6 337h0M344.5 325.4h0M342.6 323.4h0M332.9 334.3h0M335.9 336.6h0M327.4 328.6h0M339 339.4h0M330.8 342.7h0M329.1 329.4h0M337.4 336.4h0M330 341.3h0M329.4 338.9h0M329.8 336.1h0M329.8 330.6h0M329.2 327.7h0M329.2 324.7h0M329.5 321.9h0M329.7 319h0M329.8 315.6h0M329.5 312.2h0M329.8 309.3h0M329.8 306.1h0M329.7 302.6h0M345 323.8h0M344.8 320.8h0M344.6 318.1h0M344.9 314.5h0M344.4 311.8h0M344.4 309.1h0M329.5 285h0M329.5 302.1h0M329.5 307.2h0M328.5 318.3h0M329.9 322.4h0M331.5 329.5h0M344.7 307.2h0M343.7 314.2h0M344.7 319.3h0M342.7 327.4h0M342.7 336.2h0M335.6 341.6h0"/>
<path d="M349.6,393.8 L348.1,392.3 L348.1,339 L351,336 L352.5,349 L354,356 L362.3,356 L362.3,392.3 L360.8,393.8Z" fill="#d60b6f"/>
<g fill="#fff"><circle cx="354.4" cy="363.9" r="1"/><circle cx="358.5" cy="348.8" r="0.8"/><circle cx="358.7" cy="346.2" r="0.9"/><circle cx="354.2" cy="347.3" r="1.1"/><circle cx="354" cy="355.6" r="1"/><circle cx="354.9" cy="358.1" r="0.6"/><circle cx="353.9" cy="347.4" r="1"/><circle cx="355.6" cy="374.3" r="0.8"/><circle cx="351.7" cy="332.2" r="0.7"/><circle cx="352.8" cy="350.6" r="0.7"/></g>
<path stroke="#d60b6f" stroke-width="4" stroke-linecap="round" d="M350.9 333.7h0M357.5 352.2h0M350.3 337.6h0M354.6 352h0M358.4 347.3h0M350.4 337.5h0M352.9 338.5h0M351.5 342.2h0M357.6 346.3h0M351.6 341.6h0M356.9 351.8h0M351.4 333.1h0M359.8 343.2h0M354.4 344h0M360.3 344.7h0M359.8 355.6h0M357.6 343.8h0M357.2 350.5h0M355.1 345.3h0M355.3 355.1h0M351.4 340h0M354.4 347.1h0M352.5 343.2h0M356.7 351.6h0M359.2 350.8h0M355.3 357.8h0M352.3 334.7h0M353.5 345.3h0M351.4 332.5h0M350.5 337.4h0M355 356.2h0M357.2 354h0M357.8 347.7h0M357.5 346.2h0M355.8 352h0M358 345.7h0M353.6 353.6h0M358.3 357.7h0M350.1 324.9h0M350.1 326.7h0M350.1 329.3h0M350.1 331.8h0M350.1 334.1h0M350.1 337h0M350.1 339.4h0M360.3 344h0M360.3 346.4h0M360.3 348.5h0M360.3 350.6h0M360.3 352.7h0M360.3 354.8h0M360.3 357.8h0M353.8 343.1h0M353 335.9h0M350.7 312.9h0M354.1 329.6h0M351.3 319.9h0M354.8 343.4h0M357.6 329.1h0M356.4 336h0M354.4 337.4h0M351.3 323.2h0M355.9 338.8h0M358.4 332.5h0M359.8 335.6h0M351.2 317.2h0M356.6 343.7h0M351.4 325.5h0M349.6 321.4h0M349.2 318.6h0M349.8 315.7h0M349.2 312.9h0M349.4 310.1h0M349.4 310.2h0M350.2 318.7h0M359.5 328.4h0M350.8 325.4h0M349.5 332h0"/>
<path d="M365.5,393.8 L364,392.3 L364,368.5 L370,368.5 L372,376 L374,381.6 L376,376 L377,365.5 L383.2,365.5 L383.2,392.3 L381.7,393.8Z" fill="#e66519"/>
<g fill="#fff"><circle cx="379.5" cy="375.1" r="1.1"/><circle cx="370.4" cy="361.5" r="0.8"/><circle cx="379.5" cy="358.6" r="0.7"/><circle cx="371.8" cy="376.9" r="1"/><circle cx="375.6" cy="373.6" r="0.6"/><circle cx="379.1" cy="380.5" r="0.7"/><circle cx="368.9" cy="370.6" r="0.6"/><circle cx="380.2" cy="361.6" r="1.1"/><circle cx="379.8" cy="374.5" r="1.1"/><circle cx="374" cy="374.9" r="1.2"/><circle cx="376.6" cy="380.8" r="1"/><circle cx="378.1" cy="374.9" r="1.1"/><circle cx="369.6" cy="371" r="1.1"/></g>
<path stroke="#e66519" stroke-width="4" stroke-linecap="round" d="M369.8 360h0M370.3 361.8h0M378 364.4h0M376.6 369.9h0M375.9 365h0M366.7 358.1h0M369.9 363.5h0M378.5 361.4h0M372.5 368.3h0M380.9 363.8h0M371.2 360.8h0M380.9 356.5h0M378.9 354.4h0M375.9 368.7h0M379.5 357.1h0M367.5 358.6h0M378.2 367.2h0M375.8 373.9h0M370.3 360.8h0M367.3 370.3h0M366.7 364.8h0M371.3 363.4h0M372.6 378.7h0M369.8 358.1h0M375.6 374.1h0M373.8 370.8h0M379.3 354.3h0M368.6 359.3h0M373.8 375.3h0M374.4 378.4h0M379.6 359.6h0M366.6 368h0M366.3 360.4h0M368.2 364.6h0M377.9 354.6h0M370.5 370.1h0M376.5 359.8h0M376.4 370.4h0M372.2 366.1h0M376 367.7h0M368 358.1h0M372.1 365.4h0M371.9 370.8h0M374.4 373.7h0M378.2 354h0M371 373.3h0M379.1 366.3h0M377.6 360.6h0M378 361.2h0M367.8 359.5h0M367.5 368.7h0M370.9 365.1h0M366 356.5h0M366 358.2h0M366 360.8h0M366 363.7h0M366 365.4h0M366 367.9h0M366 369.9h0M381.2 353.5h0M381.2 356.2h0M381.2 358.2h0M381.2 362.8h0M381.2 367.6h0M378.2 352.7h0M374.5 367.4h0M368.1 347.3h0M378.3 353h0M366.2 342.9h0M368.3 343.3h0M368.4 349.8h0M377.9 350.2h0M377.1 339.1h0M376.4 352.3h0M378.2 353.4h0M379.6 347.5h0M378.9 349.8h0M376.9 350.9h0M381.1 353.1h0M367.9 348.9h0M370.9 354.5h0M378.7 348.2h0M370.7 355.2h0M380.8 341.8h0M378.6 352.3h0M371.3 356.3h0M381 351.5h0M369.4 353.6h0M366.9 353.3h0M375.1 354.6h0M381.4 352.5h0M381 349.4h0M381.3 346.8h0M380.9 337.1h0M381.6 334.2h0M381.1 331.5h0M366.7 355.5h0M367.3 352.1h0M366.7 349.1h0M367.3 345.6h0M367.2 342.9h0M367.4 336.6h0M367.4 330.6h0M367 329.5h0M381.2 331.5h0M366 342.6h0M381.2 336.6h0M377.2 344.7h0M372 348h0"/>
<path d="M386,393.8 L384.5,392.3 L384.5,355.3 L388,356 L389,369 L391.5,374 L392.3,391.3 L393.2,374 L396,370 L397,357 L402.7,356.8 L402.7,392.3 L401.2,393.8Z" fill="#d581b7"/>
<g fill="#fff"><circle cx="396.9" cy="356.3" r="0.6"/><circle cx="398" cy="361.6" r="1.1"/><circle cx="397.7" cy="378" r="0.7"/><circle cx="395.7" cy="362.2" r="0.6"/><circle cx="397.2" cy="364.6" r="0.6"/><circle cx="389.2" cy="363.8" r="0.9"/><circle cx="393.9" cy="388.3" r="1.1"/><circle cx="396.7" cy="356.7" r="0.6"/><circle cx="390.4" cy="383.5" r="0.6"/><circle cx="388.4" cy="373.8" r="1"/><circle cx="388.6" cy="383.8" r="0.7"/><circle cx="394.7" cy="365.9" r="0.6"/><circle cx="394.4" cy="363.1" r="0.9"/></g>
<path stroke="#d581b7" stroke-width="4" stroke-linecap="round" d="M386.8 350.9h0M394.7 361.3h0M399.6 350.6h0M389.1 362.5h0M394.9 365.1h0M386.5 344.3h0M396.6 351h0M390.1 370.4h0M398.7 357.2h0M389 356h0M397.2 353.1h0M391.7 367h0M392.6 380.6h0M394.8 373.4h0M389.5 358.3h0M396.4 354.1h0M389.7 364h0M400.5 348.9h0M391 367.2h0M388.8 359.6h0M396.4 356.2h0M397.8 346.9h0M387.9 352.5h0M392.9 382.2h0M388 354.2h0M396 362.5h0M388.3 356.4h0M397.3 351.2h0M393.2 371.3h0M395.2 364.7h0M389.1 363.3h0M394.3 372.9h0M400.6 352.3h0M391.2 363.8h0M395.5 368.9h0M390 368.5h0M400.7 349.9h0M399.8 350.6h0M395.8 370.4h0M389.4 362.1h0M400.5 345h0M390.8 366.9h0M397.1 353.5h0M399.7 354h0M386.5 344h0M387 349.4h0M386.9 350.8h0M395.5 360.9h0M398.7 350.3h0M386.5 345.7h0M386.5 348h0M386.5 350.7h0M386.5 352.6h0M386.5 355.4h0M386.5 357h0M400.7 346.5h0M400.7 348.6h0M400.7 350.8h0M400.7 356.6h0M400.7 359.2h0M398.3 336h0M390.9 356.1h0M386.8 339.9h0M399.3 344.9h0M397.7 343.8h0M386.7 327.1h0M398.3 342.5h0M398.7 341.4h0M397.9 338h0M387.7 341.6h0M400.5 339.7h0M397.1 325.3h0M397 340.7h0M394.6 359.1h0M390.9 360.4h0M395.2 347.6h0M398.2 342.6h0M390.3 341.6h0M388.9 349.9h0M386.9 342.8h0M387.4 339.7h0M387.2 336.5h0M386.7 333.1h0M386.8 329.5h0M387.2 326.8h0M387.1 324.1h0M387 321.5h0M386.9 318.7h0M387 315.8h0M386.7 312.9h0M400.5 343.9h0M400.8 341.3h0M400.8 338.2h0M400.5 334.7h0M400.4 331.6h0M400.6 328.3h0M400.2 325.1h0M387.1 310.6h0M387.1 322.4h0M387.1 333.5h0M401.3 318.7h0M400.3 328h0M399.9 336.6h0M401.3 342.6h0"/>
<path d="M405.4,393.8 L403.9,392.3 L403.9,364 L418.9,364 L418.9,392.3 L417.4,393.8Z" fill="#83d3ad"/>
<g fill="#fff"><circle cx="412" cy="355.5" r="0.9"/><circle cx="412.4" cy="355.2" r="1"/><circle cx="411.6" cy="363.6" r="1"/><circle cx="407.6" cy="362.4" r="0.6"/><circle cx="409.2" cy="360.5" r="0.7"/><circle cx="415.6" cy="375.7" r="0.9"/><circle cx="409" cy="386.4" r="0.8"/><circle cx="410.8" cy="368.2" r="0.9"/><circle cx="415.8" cy="361.3" r="0.9"/><circle cx="409.8" cy="362.7" r="0.8"/><circle cx="413.3" cy="375.3" r="0.7"/><circle cx="412.3" cy="356.7" r="1.1"/></g>
<path stroke="#83d3ad" stroke-width="4" stroke-linecap="round" d="M406.8 362.6h0M408.5 359.9h0M411.7 356.2h0M416.3 357.1h0M410.6 359.2h0M415.1 365.8h0M414.4 359.2h0M413.8 360.6h0M416.5 365.6h0M414.3 354.4h0M412.2 357.7h0M408.4 362.8h0M408.3 361.7h0M411.3 357.5h0M413.7 361.9h0M416.8 366h0M414.7 355.1h0M413.3 358.5h0M416.2 357.8h0M409.8 351.6h0M411.1 359.1h0M409.3 352.8h0M411.2 352.2h0M407.8 357.8h0M409.7 358.6h0M411.7 356.9h0M407.4 351.5h0M412.1 365.6h0M409 356.4h0M409.4 362.2h0M411.3 363h0M406 353.2h0M408.2 356.7h0M410.3 356.9h0M416.5 357.7h0M412.2 365.5h0M413 360h0M415 356.1h0M406.3 365.4h0M411.8 359.8h0M405.9 352h0M405.9 354.6h0M405.9 357.1h0M405.9 360h0M405.9 363.7h0M416.9 352h0M416.9 354.7h0M416.9 356.8h0M416.9 359.4h0M408.7 345.8h0M406.4 333.3h0M412.2 350.5h0M411.2 351h0M408.8 340.4h0M411.5 334.2h0M416.4 351.5h0M415.5 349.5h0M407.4 344.1h0M411 350.6h0M413.8 348.7h0M415.1 343.1h0M406.7 346.6h0M408.7 350.8h0M411.5 332.2h0M410.9 346.5h0M411.6 350.1h0M409 351.9h0M412.6 339.5h0M410.6 349.7h0M415.6 351.6h0M406.8 347.6h0M416.6 340.6h0M406.3 345h0M407 346.7h0M409.5 341.4h0M407.2 351.5h0M408.8 343.3h0M417.1 348.3h0M416.7 342h0M417 339.3h0M416.5 335.8h0M416.7 332.2h0M417.1 328.8h0M410.8 265.6h0M407.4 322h0M410.4 321.3h0M416.9 326.8h0M416.9 334.5h0"/>
<path d="M422.1,393.8 L420.6,392.3 L420.6,359 L423,352 L426,354 L429,364 L431,362 L437.8,362 L437.8,392.3 L436.3,393.8Z" fill="#7c162c"/>
<g fill="#fff"><circle cx="432.4" cy="366.5" r="0.5"/><circle cx="427.3" cy="387.2" r="0.8"/><circle cx="427.9" cy="371" r="1.1"/><circle cx="429.6" cy="366.7" r="0.8"/><circle cx="434.3" cy="366.2" r="0.7"/><circle cx="429.5" cy="363.4" r="0.6"/><circle cx="429.3" cy="355.1" r="1.1"/><circle cx="425.1" cy="358.7" r="1.1"/><circle cx="424.1" cy="348.7" r="0.7"/><circle cx="428.3" cy="359.9" r="1"/><circle cx="428.5" cy="368.2" r="0.9"/></g>
<path stroke="#7c162c" stroke-width="4" stroke-linecap="round" d="M428.8 359.7h0M426.4 346.4h0M429.3 358.7h0M425.5 352.2h0M429.2 356.3h0M425.9 353.6h0M434.5 363.1h0M425.9 342.2h0M430.9 349.6h0M433.9 359.3h0M427 351.2h0M431.6 351.6h0M427.4 357.6h0M431.6 357.9h0M424 343.1h0M426 341.7h0M431 357.7h0M434.8 357.4h0M434.7 356.1h0M429.4 354.9h0M428.7 364.2h0M429 351.2h0M427.3 348.4h0M430.8 356.9h0M428.9 364.5h0M432.7 350.5h0M423 349.6h0M430.5 359.4h0M429.2 351.5h0M428.6 362.1h0M430.5 350.3h0M424.2 353.4h0M429.8 352.8h0M431.9 362.9h0M434 358.8h0M433.3 350.5h0M428.7 362.3h0M427.1 347h0M434 359.6h0M422.7 341h0M430 364.4h0M430.8 362.4h0M424 348.4h0M425 345.4h0M424.6 347.1h0M423.2 349.1h0M422.6 341.2h0M422.6 344h0M422.6 350.2h0M422.6 352.7h0M422.6 355.7h0M435.8 350h0M435.8 352h0M435.8 354.6h0M435.8 356.5h0M435.8 359h0M435.8 360.8h0M435.8 363.3h0M435.4 336.7h0M426.6 338.1h0M423.2 331.4h0M429.5 340.8h0M424.3 323.7h0M432 345.6h0M429.9 347.2h0M424.7 338.1h0M426.1 335.4h0M426 337.9h0M423.6 330h0M434.2 346h0M431.7 343.8h0M426 332.1h0M426.3 341.8h0M427.3 340.2h0M427.4 346.2h0M423.5 331h0M427.7 339.3h0M434.7 349h0M434 345.5h0M434.5 342.1h0M434.7 339.5h0M434.8 336.5h0M434 333.7h0M434.1 330.5h0M434.8 323.7h0M434.7 320.4h0M434.5 317h0M434.3 314.2h0M434.4 312.2h0M436.5 312.2h0M433.8 320h0M428.7 324.4h0M434.4 327.4h0"/>
<path d="M440.3,393.8 L438.8,392.3 L438.8,359 L442,364 L444,374 L446,379 L448,369 L450,359 L452.6,361 L452.6,392.3 L451.1,393.8Z" fill="#26755d"/>
<g fill="#fff"><circle cx="447.2" cy="372.1" r="0.6"/><circle cx="446" cy="382" r="0.7"/><circle cx="442.6" cy="375.5" r="1.1"/><circle cx="448.6" cy="368.5" r="0.6"/><circle cx="447.6" cy="368" r="1.1"/><circle cx="443.3" cy="379.6" r="0.7"/><circle cx="445.8" cy="371.4" r="0.7"/><circle cx="448.6" cy="375.6" r="0.8"/><circle cx="445.1" cy="370.1" r="1"/><circle cx="444.6" cy="385.9" r="1"/></g>
<path stroke="#26755d" stroke-width="4" stroke-linecap="round" d="M443.6 373.1h0M442.7 356.5h0M446.2 370.5h0M447.9 357.4h0M447.4 364.4h0M449.9 351.2h0M445 368.5h0M446 370.2h0M447.4 365.5h0M447.7 361.8h0M445.3 372.6h0M447.8 366.6h0M445 365h0M441.9 353.2h0M442.6 356.9h0M447.3 364.8h0M449.7 351.2h0M443.2 359.9h0M442.2 362.4h0M446.5 367.6h0M448.7 362.5h0M445 372.7h0M447.2 366.6h0M441.7 356.1h0M450.1 351.8h0M447.1 362.2h0M448.4 367.1h0M444.5 367.8h0M445.8 369.5h0M442.9 357.4h0M447.5 366.1h0M450.2 360.6h0M449.4 363.3h0M449 351.5h0M442.1 366h0M449.4 358.5h0M446.9 368.3h0M440.8 350.1h0M440.8 351.8h0M440.8 353.8h0M440.8 356.6h0M440.8 359.4h0M440.8 361.7h0M440.8 364.5h0M450.6 347.5h0M450.6 349.4h0M450.6 351.7h0M450.6 354.4h0M450.6 356.2h0M450.6 358.9h0M450.6 361.3h0M441.9 348.3h0M445.8 347.1h0M443.6 352.4h0M446.2 365.6h0M448 349.5h0M441 348.8h0M450.5 340.7h0M445.5 361h0M441.5 349.1h0M447.7 348.1h0M450.1 336.7h0M446.7 354.9h0M450.1 331.6h0M448.7 349.2h0M450.6 346.4h0M450.5 340.6h0M450.7 332.4h0M450.6 329.1h0M450.5 322.9h0M448.6 290.3h0M450 295.6h0M441.9 322.4h0M451 322h0M446.5 328h0M451.4 330.1h0M450 336.6h0"/>
<path d="M455.5,393.8 L454,392.3 L454,365.3 L462,365.3 L464,374 L465.2,377.7 L466.5,372 L468,365.3 L473.3,365.3 L473.3,392.3 L471.8,393.8Z" fill="#4197d8"/>
<g fill="#fff"><circle cx="463.8" cy="381" r="1"/><circle cx="464.1" cy="375.6" r="0.7"/><circle cx="463.9" cy="363.8" r="0.9"/><circle cx="468.6" cy="357" r="1"/><circle cx="459.8" cy="379.1" r="0.9"/><circle cx="463.1" cy="361.4" r="0.9"/><circle cx="466.2" cy="379.4" r="1"/><circle cx="466" cy="378.7" r="0.6"/><circle cx="460.4" cy="361.8" r="0.8"/><circle cx="460.9" cy="370.8" r="1.2"/><circle cx="466.8" cy="380.1" r="1.1"/><circle cx="459.1" cy="375.5" r="0.9"/><circle cx="469.8" cy="381.4" r="1.1"/><circle cx="461.3" cy="381.3" r="0.6"/><circle cx="467.7" cy="370.9" r="0.8"/></g>
<path stroke="#4197d8" stroke-width="4" stroke-linecap="round" d="M463.5 359.4h0M470.7 356.8h0M464.4 376.5h0M459.2 353.4h0M459.1 354.8h0M469 360.2h0M456.6 356.5h0M463.8 363h0M460.7 365.9h0M462.8 359.4h0M465.1 366.4h0M464 370.6h0M457.4 360.6h0M460.7 363.5h0M465.4 377.4h0M465.3 367.2h0M458.8 362.9h0M468.4 353.4h0M462.4 358.3h0M463.2 370.4h0M464.6 374h0M467.7 357.9h0M465.5 369.3h0M463.3 365.8h0M466.2 363h0M468.8 354.9h0M460.8 365.1h0M471.1 357.9h0M470.6 353.1h0M470.6 355.5h0M456.5 363.8h0M458.5 363.6h0M456.1 354.3h0M461.5 353.7h0M463.2 362.9h0M467.3 362.9h0M470.8 365h0M458.6 366.1h0M469.7 360.9h0M464.1 363.9h0M460.9 355.8h0M459 361.6h0M461 363.9h0M464.8 375.8h0M457.3 365h0M463.8 369.5h0M459.6 362.8h0M462.2 364.1h0M464.9 366.2h0M460.6 363.6h0M456.2 361.9h0M464.3 372.8h0M456 353.3h0M456 355.5h0M456 358.1h0M456 360.4h0M456 362.8h0M456 364.6h0M456 367.4h0M471.3 353.3h0M471.3 355.2h0M471.3 359.2h0M471.3 361.4h0M471.3 363.9h0M471.3 366.8h0M468.5 350h0M469.5 337h0M459.8 342.9h0M468.3 348.1h0M467.2 352.1h0M463.6 358.2h0M460 336.5h0M466.2 356.1h0M470.8 347.6h0M457.2 337.7h0M456.5 338.9h0M469.3 350h0M457.7 350.5h0M457.6 350.7h0M470.7 351.4h0M466.9 351.6h0M457.2 339.4h0M461.2 349.8h0M467.3 355h0M459.7 353.2h0M456.7 352h0M469.6 340.8h0M468.2 346.3h0M471.2 348.9h0M470.9 350.5h0M462.4 345.8h0M469.5 351.5h0M471.2 346.9h0M469 345.1h0M457.2 352.3h0M457 349h0M456.9 346.2h0M457.1 343.1h0M456.8 339.6h0M457.3 336.8h0M456.9 333.3h0M456.8 323.3h0M456.8 320.2h0M456.7 317.1h0M456.7 314.4h0M469.2 352.3h0M469.2 348.8h0M468.8 345.4h0M468.6 342h0M469.3 338.4h0M468.7 335h0M469.1 331.8h0M469 328.5h0M469.1 322.5h0M456.7 298.4h0M468.2 297h0M458.1 314.2h0M456.1 318.3h0M471.3 318.3h0M467.2 320.7h0M458.1 325.4h0M469.2 328h0M466.8 331.5h0M460.7 340.6h0M470.3 342.6h0"/>
<line x1="36.3" y1="285.4" x2="472.7" y2="285.4" stroke="#ef5a5a" stroke-width="1" stroke-dasharray="1.4,1.4" opacity="0.75"/>
<line x1="35.9" y1="392.2" x2="35.9" y2="232" stroke="#8a8a8a" stroke-width="1.2"/>
<line x1="32.6" y1="392.2" x2="35.9" y2="392.2" stroke="#8a8a8a" stroke-width="1"/>
<text x="29.2" y="395.1" text-anchor="end" font-size="6.4" font-weight="bold" fill="#1c1c1c" stroke="#1c1c1c" stroke-width="0.25">0</text>
<line x1="32.6" y1="365.5" x2="35.9" y2="365.5" stroke="#8a8a8a" stroke-width="1"/>
<text x="29.2" y="368.4" text-anchor="end" font-size="6.4" font-weight="bold" fill="#1c1c1c" stroke="#1c1c1c" stroke-width="0.25">1</text>
<line x1="32.6" y1="338.8" x2="35.9" y2="338.8" stroke="#8a8a8a" stroke-width="1"/>
<text x="29.2" y="341.7" text-anchor="end" font-size="6.4" font-weight="bold" fill="#1c1c1c" stroke="#1c1c1c" stroke-width="0.25">2</text>
<line x1="32.6" y1="312.1" x2="35.9" y2="312.1" stroke="#8a8a8a" stroke-width="1"/>
<text x="29.2" y="315" text-anchor="end" font-size="6.4" font-weight="bold" fill="#1c1c1c" stroke="#1c1c1c" stroke-width="0.25">3</text>
<line x1="32.6" y1="285.4" x2="35.9" y2="285.4" stroke="#8a8a8a" stroke-width="1"/>
<text x="29.2" y="288.3" text-anchor="end" font-size="6.4" font-weight="bold" fill="#1c1c1c" stroke="#1c1c1c" stroke-width="0.25">4</text>
<line x1="32.6" y1="258.7" x2="35.9" y2="258.7" stroke="#8a8a8a" stroke-width="1"/>
<text x="29.2" y="261.6" text-anchor="end" font-size="6.4" font-weight="bold" fill="#1c1c1c" stroke="#1c1c1c" stroke-width="0.25">5</text>
<line x1="32.6" y1="232" x2="35.9" y2="232" stroke="#8a8a8a" stroke-width="1"/>
<text x="29.2" y="234.9" text-anchor="end" font-size="6.4" font-weight="bold" fill="#1c1c1c" stroke="#1c1c1c" stroke-width="0.25">6</text>
<line x1="35.9" y1="398.6" x2="471.9" y2="398.6" stroke="#8a8a8a" stroke-width="1.2"/>
<line x1="35.9" y1="398.6" x2="35.9" y2="402.4" stroke="#8a8a8a" stroke-width="1"/>
<line x1="47" y1="398.6" x2="47" y2="402.4" stroke="#8a8a8a" stroke-width="1"/>
<line x1="68.3" y1="398.6" x2="68.3" y2="402.4" stroke="#8a8a8a" stroke-width="1"/>
<line x1="91.5" y1="398.6" x2="91.5" y2="402.4" stroke="#8a8a8a" stroke-width="1"/>
<line x1="114.3" y1="398.6" x2="114.3" y2="402.4" stroke="#8a8a8a" stroke-width="1"/>
<line x1="136.4" y1="398.6" x2="136.4" y2="402.4" stroke="#8a8a8a" stroke-width="1"/>
<line x1="157.1" y1="398.6" x2="157.1" y2="402.4" stroke="#8a8a8a" stroke-width="1"/>
<line x1="178.3" y1="398.6" x2="178.3" y2="402.4" stroke="#8a8a8a" stroke-width="1"/>
<line x1="199.9" y1="398.6" x2="199.9" y2="402.4" stroke="#8a8a8a" stroke-width="1"/>
<line x1="222.4" y1="398.6" x2="222.4" y2="402.4" stroke="#8a8a8a" stroke-width="1"/>
<line x1="247.3" y1="398.6" x2="247.3" y2="402.4" stroke="#8a8a8a" stroke-width="1"/>
<line x1="270" y1="398.6" x2="270" y2="402.4" stroke="#8a8a8a" stroke-width="1"/>
<line x1="291.6" y1="398.6" x2="291.6" y2="402.4" stroke="#8a8a8a" stroke-width="1"/>
<line x1="313.6" y1="398.6" x2="313.6" y2="402.4" stroke="#8a8a8a" stroke-width="1"/>
<line x1="336.4" y1="398.6" x2="336.4" y2="402.4" stroke="#8a8a8a" stroke-width="1"/>
<line x1="355.7" y1="398.6" x2="355.7" y2="402.4" stroke="#8a8a8a" stroke-width="1"/>
<line x1="373.6" y1="398.6" x2="373.6" y2="402.4" stroke="#8a8a8a" stroke-width="1"/>
<line x1="393.4" y1="398.6" x2="393.4" y2="402.4" stroke="#8a8a8a" stroke-width="1"/>
<line x1="411.1" y1="398.6" x2="411.1" y2="402.4" stroke="#8a8a8a" stroke-width="1"/>
<line x1="428.9" y1="398.6" x2="428.9" y2="402.4" stroke="#8a8a8a" stroke-width="1"/>
<line x1="446.1" y1="398.6" x2="446.1" y2="402.4" stroke="#8a8a8a" stroke-width="1"/>
<line x1="463.5" y1="398.6" x2="463.5" y2="402.4" stroke="#8a8a8a" stroke-width="1"/>
<text x="36.2" y="412.3" text-anchor="middle" font-size="6.4" font-weight="bold" fill="#1c1c1c" stroke="#1c1c1c" stroke-width="0.25">Chr</text>
<text x="68.3" y="412.3" text-anchor="middle" font-size="6.4" font-weight="bold" fill="#1c1c1c" stroke="#1c1c1c" stroke-width="0.25">2A</text>
<text x="91.5" y="412.3" text-anchor="middle" font-size="6.4" font-weight="bold" fill="#1c1c1c" stroke="#1c1c1c" stroke-width="0.25">3A</text>
<text x="114.3" y="412.3" text-anchor="middle" font-size="6.4" font-weight="bold" fill="#1c1c1c" stroke="#1c1c1c" stroke-width="0.25">4A</text>
<text x="136.4" y="412.3" text-anchor="middle" font-size="6.4" font-weight="bold" fill="#1c1c1c" stroke="#1c1c1c" stroke-width="0.25">5A</text>
<text x="157.1" y="412.3" text-anchor="middle" font-size="6.4" font-weight="bold" fill="#1c1c1c" stroke="#1c1c1c" stroke-width="0.25">6A</text>
<text x="178.3" y="412.3" text-anchor="middle" font-size="6.4" font-weight="bold" fill="#1c1c1c" stroke="#1c1c1c" stroke-width="0.25">7A</text>
<text x="199.9" y="412.3" text-anchor="middle" font-size="6.4" font-weight="bold" fill="#1c1c1c" stroke="#1c1c1c" stroke-width="0.25">1B</text>
<text x="222.4" y="412.3" text-anchor="middle" font-size="6.4" font-weight="bold" fill="#1c1c1c" stroke="#1c1c1c" stroke-width="0.25">2B</text>
<text x="247.3" y="412.3" text-anchor="middle" font-size="6.4" font-weight="bold" fill="#1c1c1c" stroke="#1c1c1c" stroke-width="0.25">3B</text>
<text x="270" y="412.3" text-anchor="middle" font-size="6.4" font-weight="bold" fill="#1c1c1c" stroke="#1c1c1c" stroke-width="0.25">4B</text>
<text x="291.6" y="412.3" text-anchor="middle" font-size="6.4" font-weight="bold" fill="#1c1c1c" stroke="#1c1c1c" stroke-width="0.25">5B</text>
<text x="313.6" y="412.3" text-anchor="middle" font-size="6.4" font-weight="bold" fill="#1c1c1c" stroke="#1c1c1c" stroke-width="0.25">6B</text>
<text x="336.4" y="412.3" text-anchor="middle" font-size="6.4" font-weight="bold" fill="#1c1c1c" stroke="#1c1c1c" stroke-width="0.25">7B</text>
<text x="355.7" y="412.3" text-anchor="middle" font-size="6.4" font-weight="bold" fill="#1c1c1c" stroke="#1c1c1c" stroke-width="0.25">1D</text>
<text x="373.6" y="412.3" text-anchor="middle" font-size="6.4" font-weight="bold" fill="#1c1c1c" stroke="#1c1c1c" stroke-width="0.25">2D</text>
<text x="393.4" y="412.3" text-anchor="middle" font-size="6.4" font-weight="bold" fill="#1c1c1c" stroke="#1c1c1c" stroke-width="0.25">3D</text>
<text x="411.1" y="412.3" text-anchor="middle" font-size="6.4" font-weight="bold" fill="#1c1c1c" stroke="#1c1c1c" stroke-width="0.25">4D</text>
<text x="428.9" y="412.3" text-anchor="middle" font-size="6.4" font-weight="bold" fill="#1c1c1c" stroke="#1c1c1c" stroke-width="0.25">5D</text>
<text x="446.1" y="412.3" text-anchor="middle" font-size="6.4" font-weight="bold" fill="#1c1c1c" stroke="#1c1c1c" stroke-width="0.25">6D</text>
<text x="463.5" y="412.3" text-anchor="middle" font-size="6.4" font-weight="bold" fill="#1c1c1c" stroke="#1c1c1c" stroke-width="0.25">7D</text>
<text transform="translate(10.3,332.3) rotate(-90)" text-anchor="start" font-size="9.04" fill="#1c1c1c" stroke="#1c1c1c" stroke-width="0.2"><tspan font-size="9.4">−</tspan><tspan font-size="9.4" dx="1.1">log</tspan><tspan font-size="7.05" dy="2.35">10</tspan><tspan font-size="9.4" dy="-2.35" dx="0.5">(</tspan><tspan font-size="9.4" font-style="italic">p</tspan><tspan font-size="9.4" dx="1.8">)</tspan></text>
<text x="55" y="244.3" font-size="16" fill="#111" stroke="#111" stroke-width="0.7">B</text>
<path d="M40.2,604.6 L38.7,603.1 L38.7,574.8 L48,574.8 L50,562.6 L56.3,562.6 L56.3,603.1 L54.8,604.6Z" fill="#4197d8"/>
<g fill="#fff"><circle cx="49.5" cy="566.4" r="0.8"/><circle cx="42.8" cy="583.1" r="1.2"/><circle cx="42.3" cy="570.7" r="0.6"/><circle cx="50.7" cy="568.7" r="0.6"/><circle cx="48" cy="594.7" r="1"/><circle cx="48.7" cy="596.6" r="0.7"/><circle cx="46.8" cy="583.2" r="0.9"/></g>
<path stroke="#4197d8" stroke-width="4" stroke-linecap="round" d="M50.6 563.5h0M53.2 562.1h0M43.1 570h0M40.8 568.2h0M45.3 567.9h0M47.2 567.4h0M49.6 560.8h0M44.1 573.4h0M45.2 566.3h0M52.1 561.9h0M52.6 557h0M44.3 573.5h0M42.7 576.4h0M49.6 562.3h0M41.4 569.1h0M46.5 576.6h0M42.7 572.4h0M41.8 576.5h0M50.9 562.6h0M50.9 555.7h0M44 566.4h0M48.2 565.7h0M43.3 567.9h0M53.2 562.3h0M44.6 576.5h0M42.9 567.5h0M45.9 574.7h0M42 574.5h0M48.1 574h0M45.3 566.5h0M42 573.8h0M47.6 574.2h0M43.4 569h0M43.6 575.2h0M50.3 555.5h0M50.6 554.2h0M47 568.8h0M51.1 561.6h0M40.7 566.8h0M40.7 568.6h0M40.7 571.1h0M40.7 575.4h0M40.7 577.7h0M54.3 554.6h0M54.3 556.9h0M54.3 559.1h0M54.3 561.4h0M54.3 563.4h0M54.3 565.3h0M52.7 541.5h0M50.8 551.2h0M49 557.8h0M49.7 550.4h0M50.9 550.5h0M48.8 561.1h0M50.3 546.9h0M51.1 554h0M51.2 547.7h0M48 563h0M54.6 553.6h0M54.5 550.9h0M54.1 544.7h0M54.2 541.9h0M53.9 532.4h0M54 529.4h0M54.1 526h0M53.9 522.9h0M54.3 522.2h0M54.3 530h0M54.3 541.5h0M54.3 546h0M54.3 553h0M40.1 543.5h0M43.1 543.5h0M45.1 542.5h0M46.2 545.5h0M41.1 552.6h0M43.5 554.7h0"/>
<path d="M59.2,604.6 L57.7,603.1 L57.7,558.6 L62,558.6 L63,566.7 L79.6,566.7 L79.6,603.1 L78.1,604.6Z" fill="#f8c120"/>
<g fill="#fff"><circle cx="69.1" cy="563.1" r="0.7"/><circle cx="71.3" cy="565.3" r="0.8"/><circle cx="62.9" cy="561.6" r="1"/><circle cx="67.6" cy="572.5" r="1.2"/><circle cx="69.9" cy="579.6" r="0.9"/><circle cx="76.2" cy="565.2" r="0.6"/><circle cx="75.4" cy="573.6" r="0.5"/><circle cx="75.4" cy="580.9" r="1.2"/><circle cx="70.4" cy="569.7" r="1"/><circle cx="70.2" cy="561.7" r="1"/></g>
<path stroke="#f8c120" stroke-width="4" stroke-linecap="round" d="M61.3 554.3h0M77.4 562.2h0M68.8 566h0M74.2 565.9h0M66.5 565.6h0M63.3 564.6h0M60 551.9h0M62.8 560.4h0M72.9 558.1h0M75.4 558.9h0M76.7 568.1h0M70.7 567h0M76.5 562.7h0M75 558.3h0M73.7 564.9h0M73.6 559.5h0M61.2 555.4h0M70.6 565.3h0M62.9 563.3h0M77 560.6h0M74.4 568.3h0M71.7 562.7h0M67.2 562.9h0M61.9 550.6h0M64.7 559.8h0M75.8 561.8h0M75.4 564h0M75.8 567.6h0M72.4 562.7h0M64.1 564h0M65.3 566.8h0M60.5 556.7h0M65.8 562.4h0M69.4 568.5h0M77.5 561.8h0M76.8 568.2h0M69.1 564h0M63.2 566.4h0M68.4 566.1h0M76.2 564.6h0M72.1 563.8h0M62 555.1h0M60.8 551.8h0M77.3 562h0M62.1 555.5h0M60.8 556.4h0M63.8 560.2h0M59.7 550.6h0M59.7 553.5h0M59.7 556.1h0M59.7 558.3h0M59.7 559.8h0M77.6 558.7h0M77.6 561.7h0M77.6 567.2h0M63.7 554h0M76.4 553.9h0M61.6 545.5h0M60.5 546.1h0M77.5 556.5h0M73.9 558.6h0M64 545.5h0M61.5 535.4h0M60.6 548.9h0M61.9 541.3h0M70 556.3h0M60.9 540.8h0M77.2 556.6h0M70.4 548.3h0M61 509h0M61.4 510.5h0M62 517.2h0M61 524.2h0M61 532.4h0M61 536.4h0M67 532.8h0M70.5 550.2h0M76.6 548.6h0M61 542h0M64 545h0"/>
<path d="M82.5,604.6 L81,603.1 L81,570.6 L84,572 L86.5,589.7 L89,596 L91.2,602 L93,595 L94.1,585.8 L96,578 L98.9,568 L100.5,564.4 L102.3,566 L102.3,603.1 L100.8,604.6Z" fill="#413496"/>
<g fill="#fff"><circle cx="86" cy="586.3" r="0.9"/><circle cx="97.5" cy="572.9" r="0.6"/><circle cx="97.8" cy="571.2" r="1"/><circle cx="95.7" cy="592.4" r="0.5"/><circle cx="95.3" cy="583.5" r="1.1"/><circle cx="99.3" cy="561.6" r="0.9"/><circle cx="98.8" cy="586.4" r="0.8"/></g>
<path stroke="#413496" stroke-width="4" stroke-linecap="round" d="M90.8 593.4h0M92.7 590.3h0M87.5 593h0M93.7 588.5h0M97.1 570h0M90.8 596.7h0M89.2 596.1h0M98.3 564.5h0M95.3 574.4h0M83.1 570.2h0M96.4 571.3h0M100.2 564h0M88.6 594.3h0M97.6 565.2h0M98.8 564.3h0M87.7 588.1h0M92.1 595.2h0M88.1 585.6h0M93.9 586.3h0M95 577.5h0M97.8 563h0M85.2 572.2h0M92.6 593.4h0M86.9 587.7h0M83.1 563.2h0M99.6 567.1h0M84.2 571.7h0M91.8 596.7h0M97.5 570.8h0M99.3 565.7h0M98.8 560.7h0M97.2 568.4h0M98.9 567.7h0M99.7 565.5h0M89.8 594.9h0M96.5 568h0M92.3 594.9h0M95.4 575.3h0M93.5 590.1h0M89.6 596.2h0M98.6 564.1h0M92.1 594.9h0M97.5 566.9h0M87.9 588.8h0M94.3 577.9h0M99.9 562.3h0M83 563.5h0M83 565.7h0M83 567.7h0M83 571.7h0M83 573.3h0M100.3 556.9h0M100.3 558.6h0M100.3 560.5h0M100.3 563h0M100.3 565.7h0M100.3 567.3h0M93.8 577.7h0M99.1 557.1h0M85.2 571.4h0M84.2 564.8h0M99.9 550.5h0M100.9 546.6h0M96.9 551.6h0M93.8 558.3h0M100 552h0"/>
<path d="M105.5,604.6 L104,603.1 L104,574 L107,576 L110,583 L118,583 L120,575 L125.3,575 L125.3,603.1 L123.8,604.6Z" fill="#495226"/>
<g fill="#fff"><circle cx="121.4" cy="569.4" r="0.6"/><circle cx="111.4" cy="592" r="0.7"/><circle cx="117.2" cy="592.3" r="0.6"/><circle cx="107.7" cy="592.7" r="0.6"/><circle cx="107.7" cy="583.3" r="1"/><circle cx="108" cy="592.9" r="0.6"/><circle cx="113.3" cy="587.3" r="0.5"/><circle cx="108.3" cy="591.5" r="1.1"/><circle cx="118.5" cy="599.6" r="0.9"/><circle cx="115.9" cy="598.9" r="0.8"/></g>
<path stroke="#495226" stroke-width="4" stroke-linecap="round" d="M113.7 577.6h0M118.5 582.7h0M114.1 583.4h0M112.9 578.8h0M119.9 577.2h0M119.1 577.6h0M120.3 576.1h0M122.5 571.9h0M112.7 574.3h0M115.1 578h0M106 577.3h0M111.3 584.3h0M106.3 570.6h0M119.6 575.2h0M117.6 579.5h0M107.6 577.5h0M119.2 574.7h0M115.7 582.9h0M114.6 579.3h0M114.4 582.2h0M118.7 574.9h0M119.4 572.5h0M117.7 578.3h0M121.6 576.4h0M119.5 572.5h0M112.1 578.9h0M116.5 574.6h0M115.4 584.2h0M107.1 577.1h0M115.9 585h0M118.5 579.9h0M119 574.6h0M108 578.9h0M121.2 574h0M109.8 579h0M114.9 578.1h0M114.5 579.1h0M123 573h0M122.9 576h0M109.1 580.4h0M112.6 580.7h0M115.7 582.2h0M111.2 581.5h0M112.4 582.6h0M114.5 581.1h0M123.2 569.2h0M106 567.3h0M106 570.2h0M106 575.5h0M123.3 567h0M123.3 571.6h0M123.3 573.7h0M121.1 562.2h0M109.8 561.1h0M117.1 567.8h0M109.2 570h0M116 569.5h0M111.6 565.6h0M119 570.9h0M120.6 560.9h0M121.7 562.7h0M121.5 566.9h0M116.8 569h0M120.4 554h0M111.4 574.7h0M107.8 564.7h0M120.6 510h0M120.6 527.3h0M122.6 539.5h0M120.6 548.6h0M120.6 552.6h0M105.6 543.9h0M110 556.7h0M105 562.4h0M120.6 545h0"/>
<path d="M127.6,604.6 L126.1,603.1 L126.1,574.8 L131,574.8 L132,583 L138,583 L139,566.7 L146.8,566.7 L146.8,603.1 L145.3,604.6Z" fill="#d60b6f"/>
<g fill="#fff"><circle cx="141.2" cy="562.2" r="0.6"/><circle cx="143" cy="564" r="0.6"/><circle cx="138.5" cy="574.2" r="0.7"/><circle cx="142.9" cy="563.8" r="0.9"/><circle cx="142.9" cy="577.7" r="0.7"/><circle cx="142.2" cy="563.9" r="1.2"/><circle cx="142.1" cy="579.9" r="1"/><circle cx="137.1" cy="587.2" r="1"/><circle cx="130.8" cy="571.7" r="1"/><circle cx="134.2" cy="598.2" r="1.1"/></g>
<path stroke="#d60b6f" stroke-width="4" stroke-linecap="round" d="M134.7 583.2h0M133.1 578.6h0M139.4 568.3h0M133.9 578.9h0M134.8 576.5h0M134 582.7h0M131.2 573.1h0M132.8 580.4h0M141 559.1h0M136.2 576.2h0M138.9 566.9h0M131.8 575h0M133.2 577.7h0M143 567.3h0M141.3 562.2h0M135.7 576.4h0M135.8 584.5h0M129.6 570.3h0M131.4 578.1h0M133.1 579.5h0M129 573.5h0M136.7 582.8h0M140.1 565.9h0M132.5 576.9h0M138.1 573.4h0M143.7 565.7h0M136.3 578.1h0M129.4 572h0M141 559.2h0M129.8 573.4h0M135.9 582.7h0M135 584.8h0M142.7 561.4h0M137.1 580.5h0M135.6 583h0M139.9 566.7h0M132.3 579.7h0M137.2 580.5h0M128.4 574.8h0M135.6 575.9h0M142.4 563.9h0M140.5 565.9h0M138.5 575.9h0M129 569.6h0M128.1 566.8h0M128.1 569.3h0M128.1 570.8h0M128.1 572.6h0M128.1 574.7h0M128.1 576.3h0M144.8 558.7h0M144.8 560.3h0M144.8 562.4h0M144.8 564.6h0M144.8 569.2h0M140.7 557.7h0M140.1 552.8h0M142.3 556.6h0M128.6 565.7h0M143.6 555.7h0M144.4 554.7h0M129.9 564.4h0M143.9 556.8h0M138 561.7h0M143.6 550.5h0M140.3 558.5h0M139.6 557.2h0M142.4 557.7h0M143 554.6h0M142.4 548.2h0M143 545.2h0M142.3 541.7h0M142.8 538.4h0M141.3 522.2h0M142.7 534.8h0M144.7 541.5h0M128.1 549.6h0M130.1 552.6h0M143.3 553h0M128.7 550.6h0"/>
<path d="M149.9,604.6 L148.4,603.1 L148.4,570.8 L160,570.8 L162,562 L166.7,566.7 L166.7,603.1 L165.2,604.6Z" fill="#e66519"/>
<g fill="#fff"><circle cx="161.8" cy="575" r="0.6"/><circle cx="162.4" cy="566" r="0.8"/><circle cx="156.1" cy="582.5" r="0.8"/><circle cx="160.2" cy="586.1" r="1.1"/><circle cx="152.5" cy="573.2" r="0.5"/><circle cx="163" cy="566.6" r="0.8"/><circle cx="154.2" cy="590.6" r="0.5"/><circle cx="156.7" cy="568.9" r="0.5"/><circle cx="154.9" cy="567.7" r="1.1"/></g>
<path stroke="#e66519" stroke-width="4" stroke-linecap="round" d="M161.1 562h0M158.1 572.6h0M163.6 561.4h0M151.5 571.7h0M151.1 563.3h0M159.8 564.1h0M161.2 564.2h0M152.8 571.8h0M164.7 563h0M164.4 564.3h0M157.2 570.9h0M163.8 562.5h0M151.6 566h0M160.5 563.9h0M152.8 566.9h0M152.4 567.1h0M151.8 569.8h0M153.4 572.1h0M151.9 568.8h0M159.6 564.1h0M159.4 567.9h0M159.2 564h0M157.2 571h0M159.2 564.6h0M155.2 571.5h0M151.2 567.2h0M157.7 566.6h0M150.4 563.1h0M162.4 558.6h0M154.6 566.9h0M151.1 562.9h0M162.3 561.7h0M153.2 565.4h0M151.5 565.4h0M157.9 570.1h0M157.6 571.2h0M164.7 562h0M151 563.5h0M160 563.3h0M150.4 564.4h0M150.4 567.4h0M150.4 569.7h0M150.4 571.4h0M150.4 573.4h0M164.7 556.7h0M164.7 558.5h0M164.7 561.3h0M164.7 563.4h0M164.7 566.4h0M157 550h0M160.6 558.9h0M161.3 551.1h0M161.9 552.1h0M164.1 549.9h0M161.6 551.6h0M153.5 561.7h0M152.8 562.5h0M162.6 553.5h0M162.1 550.8h0M162.4 545.3h0M162.9 535.1h0M162.4 531.7h0M156.9 503.6h0M164.2 530.3h0M162.2 534.4h0M160.6 538.4h0M163 543.5h0M150.8 545h0M154.1 550.6h0M160.6 551.6h0"/>
<path d="M170.2,604.6 L168.7,603.1 L168.7,576.8 L188,576.8 L188,603.1 L186.5,604.6Z" fill="#d581b7"/>
<g fill="#fff"><circle cx="180.6" cy="579.8" r="0.8"/><circle cx="178.4" cy="601" r="1.1"/><circle cx="179.6" cy="579.7" r="0.8"/><circle cx="182.4" cy="585.8" r="0.7"/><circle cx="179.8" cy="572.8" r="0.7"/><circle cx="179.8" cy="583.1" r="0.6"/><circle cx="171.9" cy="580.1" r="1.1"/><circle cx="177.9" cy="574.3" r="0.6"/></g>
<path stroke="#d581b7" stroke-width="4" stroke-linecap="round" d="M182.2 570.8h0M176.9 572.5h0M181.5 571.1h0M176.1 573.4h0M174.3 572.6h0M182.1 573.4h0M171.6 571.8h0M179.4 570.5h0M176.6 574h0M176.3 570h0M184.1 568.7h0M184.6 569h0M179.2 573.9h0M177 574.8h0M184.2 571.4h0M171.6 570.2h0M184.1 574.5h0M182.2 572.2h0M175.7 575.5h0M179.4 577.9h0M173.2 571.7h0M181.3 577.8h0M177.8 576.5h0M172.4 574.9h0M175.7 575.5h0M175.2 570h0M174.8 575.8h0M181.6 577.9h0M177 568.7h0M183.1 570.8h0M181.7 573.3h0M177.5 568.3h0M174.2 576.1h0M177.7 577.5h0M183 573.8h0M185.7 568h0M176.8 573.8h0M171.5 577.4h0M173 574.3h0M174.8 572.1h0M177.8 571.1h0M170.7 568.8h0M170.7 571.3h0M170.7 574.6h0M170.7 576.5h0M186 568.8h0M186 571.2h0M186 573.3h0M186 576.1h0M186 578.3h0M183.2 565.3h0M180.5 561.5h0M181.2 565h0M183.8 563.5h0M176 565.3h0M176 560.5h0M186 564.4h0M176.3 565.6h0M181.1 563.3h0M174.8 565.6h0M185.3 565.9h0M179.1 560.5h0M183.3 562.1h0M172.8 561.6h0M180.6 558.7h0M178.8 563.4h0M181.1 560.5h0M177.8 529.9h0M182.5 536.4h0M171.1 540.9h0M182.5 542.9h0M173.8 552.6h0"/>
<path d="M192.1,604.6 L190.6,603.1 L190.6,566.7 L202,566.7 L204.2,558 L209.2,566.7 L209.2,603.1 L207.7,604.6Z" fill="#83d3ad"/>
<g fill="#fff"><circle cx="205.8" cy="556.1" r="1.1"/><circle cx="198.7" cy="569.6" r="1"/><circle cx="199.4" cy="574" r="1"/><circle cx="206.1" cy="555.4" r="1"/><circle cx="199.8" cy="578.7" r="0.9"/><circle cx="200.8" cy="578.2" r="0.9"/><circle cx="194.9" cy="592.3" r="0.7"/><circle cx="203.4" cy="569.1" r="0.7"/></g>
<path stroke="#83d3ad" stroke-width="4" stroke-linecap="round" d="M192.6 567.6h0M193.3 561.4h0M199.5 564.1h0M195.8 564.9h0M201.9 568.5h0M194 561.1h0M194.1 561h0M195.7 558.2h0M204.4 552.5h0M203.5 560.9h0M204.2 549.5h0M201.2 567.1h0M201.8 564.4h0M198.8 566.8h0M200.4 561.7h0M199.8 563h0M195.3 565.2h0M204.8 557.3h0M192.8 562.3h0M203.8 552.2h0M200 565.3h0M200.4 561.5h0M192.8 565.5h0M195 564.4h0M200.3 565.7h0M194.2 568.4h0M203.5 561.3h0M195.3 565.7h0M198.1 565.5h0M202.8 559.2h0M206.4 557.8h0M199.4 565.6h0M194.8 567.6h0M197.4 567.5h0M194.7 559.2h0M201.2 560.5h0M199 560.1h0M203.2 561.2h0M202.6 556.9h0M193.3 564.2h0M192.6 558.7h0M192.6 561.3h0M192.6 568.9h0M207.2 555.2h0M207.2 557.7h0M207.2 560h0M207.2 562.9h0M199 553.9h0M199.8 547.9h0M195.7 546.3h0M196.6 554.3h0M194.9 554.6h0M203.4 546.2h0M202.6 552.9h0M193.6 549h0M197.2 553.3h0M205.7 551.8h0M198.9 547h0M203.5 551.8h0M203.5 548.3h0M203.5 544.7h0M203.6 541.5h0M203.6 535.3h0M203.2 532h0M203.1 529h0M203.5 525.7h0M203.2 522.3h0M203.8 519h0M204.2 518.2h0M203.2 523.8h0M202.8 528.7h0M207.2 535.4h0M205.2 532h0M202.2 542.5h0M199.1 547h0M197.1 552.6h0M193 556.7h0M204 538h0"/>
<path d="M212.6,604.6 L211.1,603.1 L211.1,570.8 L216,570.8 L218,578.9 L223,578.9 L224,566.7 L234.4,566.7 L234.4,603.1 L232.9,604.6Z" fill="#7c162c"/>
<g fill="#fff"><circle cx="221.5" cy="597.9" r="0.7"/><circle cx="214.5" cy="571.4" r="1"/><circle cx="217.4" cy="582.1" r="0.6"/><circle cx="223.1" cy="587.1" r="1"/><circle cx="218" cy="577.7" r="0.6"/><circle cx="224.4" cy="562.1" r="1"/><circle cx="224.5" cy="569.6" r="0.5"/><circle cx="223.4" cy="572.7" r="0.7"/><circle cx="221" cy="597.5" r="0.7"/><circle cx="226.1" cy="579.6" r="0.9"/><circle cx="219" cy="582.7" r="0.7"/></g>
<path stroke="#7c162c" stroke-width="4" stroke-linecap="round" d="M226.9 560.9h0M224.6 566.3h0M213.7 571.1h0M223.2 570.2h0M219 576.1h0M227.4 559.8h0M214.5 564.5h0M225.3 562.3h0M227.8 565.8h0M220.2 576.5h0M215.9 568.6h0M225.6 560.5h0M226 559.4h0M231.9 563.8h0M230.9 565.1h0M217.2 574.9h0M225 562h0M226.5 566.1h0M226.2 560.3h0M231.7 567.7h0M221.5 580.1h0M232.3 561.6h0M216.8 567.8h0M222.6 571.7h0M217.7 576.7h0M213.5 568.6h0M221 577.8h0M218.1 575.3h0M217.2 567.1h0M229.8 561.9h0M218.8 580.2h0M220.2 575.9h0M215.8 566.4h0M230 566.8h0M228.9 567.8h0M217.6 568.9h0M215.6 569h0M223.6 566.4h0M226.8 560.3h0M224.8 562.4h0M215.8 570.4h0M216.7 573.3h0M227.8 562.6h0M221.9 572.3h0M215.8 569.5h0M220.3 576.2h0M220.2 573h0M216.2 571.2h0M221.5 571.7h0M230 559.6h0M213.1 562.8h0M213.1 564.5h0M213.1 567.2h0M213.1 570.1h0M213.1 572.8h0M232.4 558.7h0M232.4 567h0M219.1 570.8h0M223.4 564.4h0M229.9 557.7h0M224.1 557.9h0M226.8 556.5h0M230.8 552.5h0M217.4 562.2h0M223.6 563.2h0M221.1 565.4h0M224.5 543.5h0M224.8 557.8h0M229.9 552.4h0M229.1 554.7h0M216.2 554.8h0M228.4 553.6h0M231.3 558.6h0M220.2 515.7h0M223.3 521.2h0M218.8 535.4h0M227.7 545.5h0M214.1 550.6h0M231.8 552.2h0M216.2 554.7h0"/>
<path d="M236.9,604.6 L235.4,603.1 L235.4,568.7 L259.4,568.7 L259.4,603.1 L257.9,604.6Z" fill="#26755d"/>
<g fill="#fff"><circle cx="244.5" cy="568.8" r="0.9"/><circle cx="246.7" cy="579.3" r="0.9"/><circle cx="250.4" cy="570.6" r="0.8"/><circle cx="247.3" cy="573.2" r="1.2"/><circle cx="243.9" cy="580.1" r="0.8"/><circle cx="255.9" cy="570.2" r="0.7"/><circle cx="241.6" cy="580.2" r="0.8"/><circle cx="246.1" cy="573.2" r="0.8"/><circle cx="248.7" cy="567.5" r="0.6"/><circle cx="250.3" cy="565.2" r="0.7"/><circle cx="239.1" cy="572.3" r="0.8"/></g>
<path stroke="#26755d" stroke-width="4" stroke-linecap="round" d="M241.3 567.5h0M251.3 563.8h0M239.8 566.3h0M244.1 565.8h0M250.5 559.9h0M238.3 568.7h0M254.8 560.8h0M241.9 564.5h0M254.1 563.2h0M256.5 560.9h0M255.5 560.5h0M249.4 570.4h0M251.8 569.8h0M244.4 570.2h0M255.5 562.9h0M252.8 569.8h0M241.7 564.1h0M252.8 566.1h0M255.8 564.6h0M246.4 561.7h0M242.9 569.3h0M242.6 569.6h0M253.5 566.1h0M243.4 559.9h0M239.8 568.8h0M256.6 570.3h0M243 570h0M246.2 563.9h0M255.6 568.8h0M251 563h0M239.5 561.9h0M242.7 562h0M248.8 563.3h0M241.7 569.4h0M244.8 559.9h0M237.6 565.9h0M238 565.9h0M237.9 565h0M249.8 565.7h0M241.7 569h0M256.8 568.7h0M256 570.4h0M244.8 565.8h0M245.7 568.4h0M240.8 562.3h0M246.4 565.8h0M257.2 563.5h0M237.5 564.1h0M254.9 560.9h0M247.8 566.4h0M254.2 563.4h0M237.4 560.7h0M237.4 566h0M237.4 568.5h0M237.4 571h0M257.4 560.7h0M257.4 562.7h0M257.4 564.4h0M257.4 566.1h0M257.4 568.1h0M248.4 555.1h0M253.7 555.7h0M244.4 559h0M239.2 560.4h0M245.7 559.8h0M252.5 553.9h0M246 552.7h0M239.8 558.5h0M252.3 558.9h0M238.1 559.8h0M242.4 560.3h0M245.6 552.7h0M253 558h0M239.1 560.7h0M242.8 560h0M242.8 554.5h0M245.4 560.3h0M241.7 560.3h0M247.5 560.7h0M243.1 554.1h0M252.1 556.7h0M256.1 527.3h0M252.1 536h0M239.1 540.1h0M249.2 544.9h0M252.7 544.9h0M237.5 547h0M257.3 548.6h0M253.7 551.6h0"/>
<path d="M261.7,604.6 L260.2,603.1 L260.2,574.8 L265,574.8 L267,587 L272,587 L274,574.8 L280,574.8 L280,603.1 L278.5,604.6Z" fill="#4197d8"/>
<g fill="#fff"><circle cx="270.2" cy="599.5" r="1"/><circle cx="276.2" cy="583.2" r="1"/><circle cx="268.5" cy="581.8" r="1"/><circle cx="269.1" cy="585.5" r="0.8"/><circle cx="263.9" cy="600.9" r="0.7"/><circle cx="273.5" cy="573.1" r="1"/><circle cx="272.3" cy="588.5" r="1"/><circle cx="271.3" cy="587.4" r="1.2"/><circle cx="270.3" cy="600.9" r="0.9"/></g>
<path stroke="#4197d8" stroke-width="4" stroke-linecap="round" d="M272.9 577.4h0M271.5 584.7h0M262.9 566.6h0M270.2 588.2h0M273.4 574.7h0M266.3 575.4h0M272.4 584h0M268.4 579.1h0M266.6 583.3h0M274.4 570.3h0M276.2 570.2h0M262.6 568.2h0M276.3 573.6h0M263.6 569.1h0M268.4 583.4h0M262.6 576h0M270.6 581.1h0M262.7 572.2h0M276.9 573.8h0M275.8 575.4h0M272.7 574.5h0M267.1 584.5h0M268.8 580.5h0M263.3 575.3h0M272.7 576.9h0M269.6 587.6h0M264.5 572.8h0M265.9 581.2h0M274.8 576.2h0M268.2 583.7h0M267.3 582h0M277.3 576.5h0M277.9 575.8h0M269.9 585.3h0M276.5 570.7h0M276.7 574.6h0M266.7 580.2h0M273.1 573.2h0M266.2 575.7h0M263.9 575.8h0M278 574.9h0M270.2 586.3h0M262.2 566.8h0M262.2 569h0M262.2 570.7h0M262.2 572.7h0M262.2 575.2h0M278 569.5h0M278 574.4h0M278 576.6h0M272.7 568.6h0M263.5 556.4h0M275.3 555.2h0M277.5 563.6h0M274.5 566.1h0M271.5 569.8h0M272.3 567.6h0M265.1 561.1h0M274.3 561.9h0M271.2 576.4h0M274.8 562h0M265.4 511.1h0M262.8 539.5h0M264.8 541.5h0M270.3 536.8h0M271.9 540.5h0M278 543.5h0M271.9 547.6h0M263.8 550.6h0M275.6 553.7h0"/>
<path d="M282.6,604.6 L281.1,603.1 L281.1,574.8 L289,574.8 L291,564.7 L301.3,564.7 L301.3,603.1 L299.8,604.6Z" fill="#f8c120"/>
<g fill="#fff"><circle cx="289.4" cy="592.7" r="0.9"/><circle cx="286.1" cy="597.1" r="0.6"/><circle cx="284.9" cy="576.6" r="0.6"/><circle cx="285.2" cy="573.2" r="1"/><circle cx="288.2" cy="588" r="0.9"/><circle cx="288.8" cy="575.1" r="0.9"/><circle cx="284.1" cy="572.3" r="1.1"/><circle cx="287.1" cy="577.9" r="0.8"/><circle cx="287.9" cy="572" r="0.9"/><circle cx="295.2" cy="581.4" r="0.8"/></g>
<path stroke="#f8c120" stroke-width="4" stroke-linecap="round" d="M288.6 573h0M285.6 568h0M297.4 560.9h0M296.1 558.2h0M290.7 559.8h0M296.1 562.3h0M289.5 567.8h0M286.5 568.3h0M294.3 559.3h0M284.8 570.2h0M290.4 569.4h0M289.3 568.6h0M298.8 563.7h0M290.5 562.6h0M286.7 567.6h0M290.8 564.1h0M284.8 571.1h0M285.9 572.5h0M288.7 573.2h0M295.8 560.3h0M289.3 565.3h0M286.5 572.7h0M296.2 557.4h0M298.9 565.8h0M289 571.7h0M294 559.5h0M289 573.6h0M290.9 560.9h0M292.2 557.2h0M290.7 560.5h0M285.8 571.7h0M294.5 561.6h0M291.2 563.1h0M289.9 571.9h0M286.6 566.1h0M292.3 563.4h0M289.3 568.8h0M288.7 568.6h0M295.9 565.2h0M287.6 572.1h0M290.5 559.6h0M295 561.6h0M299.1 565.7h0M283.1 568.7h0M283.1 571.4h0M283.1 573.9h0M283.1 576.5h0M299.3 559h0M299.3 561.9h0M299.3 563.8h0M299.3 565.8h0M286.8 564.6h0M296.2 555.5h0M298.5 543.9h0M293.5 553.4h0M294.4 551.2h0M296.6 553.8h0M297.8 545.5h0M290.2 553.4h0M295.9 554.7h0M295.6 556.6h0M287.6 562.6h0M297.5 553.3h0M293.9 556.2h0M288.6 527.3h0M298.3 532.4h0M294.2 544.5h0M297.3 545.5h0M299.3 546.6h0M284.1 555.7h0M298 532.4h0"/>
<path d="M304.6,604.6 L303.1,603.1 L303.1,566.7 L324.4,566.7 L324.4,603.1 L322.9,604.6Z" fill="#413496"/>
<g fill="#fff"><circle cx="319.8" cy="594.3" r="0.6"/><circle cx="316.4" cy="566.4" r="0.9"/><circle cx="311.2" cy="576.1" r="1.1"/><circle cx="316.6" cy="581.4" r="0.6"/><circle cx="313.5" cy="571.7" r="0.6"/><circle cx="313.5" cy="574.4" r="0.7"/><circle cx="306.9" cy="580.9" r="0.8"/><circle cx="320.1" cy="580.4" r="1"/><circle cx="315.9" cy="567.4" r="1.2"/><circle cx="320.7" cy="562.6" r="0.6"/></g>
<path stroke="#413496" stroke-width="4" stroke-linecap="round" d="M314.6 561.7h0M310.1 563.4h0M321.9 558.5h0M318 561.4h0M315.4 560.8h0M317.5 563.3h0M310.5 562.7h0M305.2 559h0M320.8 558.8h0M312 565.1h0M305.7 568h0M308.7 568.3h0M312.6 564.2h0M315.5 558.9h0M313.9 566h0M318.8 565.8h0M316.9 559.3h0M312.2 563.4h0M305.8 566.2h0M306.9 564h0M309.7 559.7h0M321.6 564.6h0M317.8 564.4h0M314.9 567.3h0M306.2 562h0M308.9 564.3h0M311.9 567.8h0M309.1 560.8h0M321 565.7h0M312.5 561.9h0M317.8 559.5h0M317.6 560.3h0M319 558.7h0M320.9 567.2h0M305.5 559.6h0M320.9 566.7h0M310.1 566.6h0M315.1 560.6h0M317 562.4h0M307.6 567.1h0M317.5 560.5h0M312.5 565.3h0M311.5 560.7h0M314.2 568.2h0M306.7 560.6h0M313.5 568.5h0M305.1 560.2h0M305.1 561.9h0M305.1 563.6h0M322.4 558.7h0M322.4 561.6h0M322.4 564.5h0M322.4 567.4h0M322.4 569.6h0M318.2 555h0M320.7 549.4h0M315.5 555.8h0M313.1 556.6h0M311.5 551.4h0M313.6 548.6h0M312.3 555.3h0M307.5 551.1h0M316.8 554.9h0M322.3 555.8h0M307.7 556.4h0M315.8 549.5h0M308.1 553.5h0M311.1 557.9h0M311.2 558.1h0M313.8 552.5h0M307.3 558.1h0M307.6 553.4h0M308.2 557.8h0M304.7 460.4h0M309.2 548.6h0M315.3 549.6h0M321.8 546.2h0M317.7 551.6h0M307.2 553.7h0"/>
<path d="M326.9,604.6 L325.4,603.1 L325.4,570.8 L331,570.8 L333,578.9 L338,578.9 L340,568.7 L346.7,568.7 L346.7,603.1 L345.2,604.6Z" fill="#495226"/>
<g fill="#fff"><circle cx="332" cy="595.9" r="0.8"/><circle cx="328.5" cy="577" r="0.7"/><circle cx="340.6" cy="579" r="0.6"/><circle cx="335.2" cy="577.2" r="1"/><circle cx="334.5" cy="582.6" r="0.5"/><circle cx="330" cy="580.9" r="1"/><circle cx="341.6" cy="585.5" r="1"/><circle cx="340.3" cy="573.3" r="0.9"/><circle cx="330.9" cy="582" r="0.7"/><circle cx="329.7" cy="576.3" r="0.7"/></g>
<path stroke="#495226" stroke-width="4" stroke-linecap="round" d="M332 573.6h0M337.4 579.4h0M340.8 563.5h0M330.4 569.1h0M329.3 567.3h0M332.2 571.1h0M338.7 573.3h0M338.1 570.3h0M342.9 567.5h0M343.1 566.5h0M338.6 576.7h0M340.3 566.8h0M328.1 562.3h0M339.8 570.1h0M334.1 572.4h0M335 579.2h0M340.5 561.3h0M330.9 564.2h0M340.3 562.6h0M342.8 564.3h0M330.7 566.5h0M329.8 571.5h0M327.8 566.5h0M334 570.5h0M331.2 573.6h0M342.3 564.4h0M342.5 569.7h0M342.2 567.7h0M337.2 575.6h0M339.8 567.5h0M344.2 561.8h0M342.9 568.1h0M335.1 579.3h0M332.4 571.7h0M337.4 580.6h0M331.6 573.6h0M338.8 576.1h0M332.6 575.6h0M342.8 569.4h0M339.5 571.6h0M338.4 574.2h0M330.7 567.6h0M344.3 570.1h0M328.1 565.3h0M331.5 573.3h0M330.5 570.3h0M327.4 562.8h0M327.4 566.5h0M327.4 568.4h0M327.4 570h0M344.7 560.7h0M344.7 567.3h0M344.7 569.9h0M342.8 557.7h0M328.6 562.4h0M331.5 563.7h0M340.3 558.7h0M341.2 553.5h0M337.9 558.6h0M343.4 559.2h0M328.9 560.6h0M332.3 567.6h0M341.1 558.1h0M341.4 559h0M343.9 560.5h0M344.4 559.3h0M342.8 553.6h0M327.9 551.8h0M327.6 562.3h0M337.5 560.2h0M343.4 556.1h0M343.9 552.7h0M343.3 549.8h0M343.4 546.5h0M343.3 540.4h0M343.7 537h0M343.3 506.4h0M327.9 536.8h0M343.3 535.4h0M344.7 540.5h0M331.1 543.5h0M343.7 550.6h0M338.6 553.7h0M329.1 555.7h0"/>
<path d="M349.6,604.6 L348.1,603.1 L348.1,576.8 L356,576.8 L357,566.7 L362.3,566.7 L362.3,603.1 L360.8,604.6Z" fill="#d60b6f"/>
<g fill="#fff"><circle cx="351.6" cy="580.4" r="1.1"/><circle cx="353.1" cy="572.1" r="0.7"/><circle cx="352.2" cy="580.9" r="0.9"/><circle cx="353.4" cy="592.2" r="0.7"/><circle cx="352.2" cy="581.1" r="0.9"/><circle cx="354.4" cy="584.4" r="0.6"/><circle cx="352.1" cy="575.5" r="1"/></g>
<path stroke="#d60b6f" stroke-width="4" stroke-linecap="round" d="M355.8 576.9h0M352.8 577.7h0M358.6 560h0M356.1 569h0M350.8 570.4h0M352.2 568.1h0M350.4 576.7h0M358.9 567.2h0M350.8 568.3h0M358.8 561.9h0M353.6 575.6h0M355.5 571.6h0M351.6 569.2h0M357.4 567.7h0M350.5 570.4h0M355.5 570.9h0M355.1 573.4h0M352.8 569.3h0M354.4 576.8h0M351.5 573.8h0M358.4 564.1h0M353.6 578h0M358.1 568.7h0M353.2 573.2h0M354.7 577.1h0M356.4 569.7h0M355.3 577.6h0M353.7 569.4h0M351.9 570.6h0M351.1 578.5h0M350.1 568.8h0M350.1 571.5h0M350.1 573.8h0M350.1 576.6h0M350.1 578.7h0M360.3 560.9h0M360.3 563.7h0M360.3 565.5h0M360.3 567.4h0M353.2 558.2h0M358 552.1h0M358.6 552.4h0M356.5 563h0M358.7 556.7h0M357.2 556.8h0M352.6 566h0M360.3 540.9h0M349.8 551.6h0M355.4 548.2h0M358.9 546.2h0M357.9 552.6h0M360.9 551.6h0M349.8 563.2h0"/>
<path d="M365.5,604.6 L364,603.1 L364,566.7 L368,566.7 L369,578.9 L377,578.9 L378,566.7 L383.2,566.7 L383.2,603.1 L381.7,604.6Z" fill="#e66519"/>
<g fill="#fff"><circle cx="370.1" cy="584.7" r="0.6"/><circle cx="370.6" cy="575.1" r="1.2"/><circle cx="379.4" cy="571" r="1.1"/><circle cx="377.6" cy="579.2" r="1.1"/><circle cx="371.8" cy="574.9" r="1.2"/><circle cx="375.1" cy="590.8" r="1.1"/><circle cx="374.5" cy="574.4" r="1.1"/><circle cx="377.7" cy="586.3" r="1"/></g>
<path stroke="#e66519" stroke-width="4" stroke-linecap="round" d="M375.6 577.5h0M375.7 575.6h0M369 579.8h0M374.1 575h0M370 574.2h0M380.9 562.3h0M378.2 559.2h0M375.1 573h0M369.6 573.4h0M372 577.1h0M372.2 579.4h0M368.4 571.5h0M372.6 578.7h0M372 572.9h0M379.6 564.8h0M377 575.7h0M376.8 580.4h0M377.3 577.4h0M371.3 573.3h0M379.4 566.9h0M379.5 562.6h0M372.3 580.3h0M369.1 571.9h0M368.6 568.6h0M372.3 574.2h0M373 570.5h0M371.2 575.6h0M366.8 563.1h0M379.8 565h0M380.4 567.2h0M373.5 570.3h0M366.9 564.1h0M378.8 561.5h0M368 566.1h0M374.2 575.2h0M367.9 563.9h0M374.7 577.8h0M379.7 558.7h0M378.6 561.4h0M372.3 573.8h0M378.3 562.7h0M366 558.7h0M366 560.9h0M366 562.4h0M366 564.5h0M366 566h0M366 568.9h0M381.2 558.7h0M381.2 561.6h0M381.2 563.7h0M381.2 565.4h0M381.2 567.9h0M381.2 569.7h0M374.1 569.5h0M369.1 569.8h0M369.2 567.1h0M369.6 567.1h0M368.6 565h0M366.1 558.3h0M375.3 567.3h0M372.5 570.5h0M368.4 561.7h0M371 564.2h0M375.9 569.9h0M376 567.3h0M375.8 564.4h0M376.4 560.9h0M375.9 557.4h0M376.2 553.9h0M376 550.4h0M375.9 543.3h0M376.4 540.7h0M376.1 536.4h0M367.6 541.5h0M376.1 545.5h0M376.1 547h0M366.4 552.6h0M381.2 554.7h0"/>
<path d="M386,604.6 L384.5,603.1 L384.5,579.9 L402.7,579.9 L402.7,603.1 L401.2,604.6Z" fill="#d581b7"/>
<g fill="#fff"><circle cx="391.6" cy="582" r="0.6"/><circle cx="398.7" cy="598.4" r="0.6"/><circle cx="397.1" cy="593" r="0.6"/><circle cx="389.1" cy="584.2" r="0.8"/><circle cx="395.5" cy="583.7" r="1.2"/><circle cx="392.7" cy="587.5" r="0.8"/><circle cx="390.7" cy="581.2" r="0.5"/><circle cx="390.6" cy="578.5" r="1"/><circle cx="392.9" cy="600.4" r="0.8"/></g>
<path stroke="#d581b7" stroke-width="4" stroke-linecap="round" d="M392.7 576.7h0M398 580.6h0M400.5 575.1h0M396.1 577h0M398.6 573.7h0M393.1 573.9h0M397.9 578.8h0M386.6 572.3h0M388.5 577.5h0M397.5 574.8h0M387.6 577.4h0M395.2 575.7h0M390.3 574.8h0M389.8 579.9h0M391.9 578.8h0M394.3 573.6h0M390.5 578.3h0M398.8 581h0M388.7 573.9h0M387.9 573.1h0M392 578.9h0M399.5 577.5h0M388.6 575.2h0M388.5 574.1h0M394.7 576.5h0M388.9 574.1h0M399.2 577.9h0M395 574.6h0M390.7 579.3h0M386.7 578.2h0M400.1 578h0M387.2 571.5h0M397.6 573.1h0M392.5 578.1h0M396.1 574.2h0M396.2 581h0M393.1 575.4h0M396.2 580.5h0M396.3 581.1h0M386.5 571.9h0M386.5 574.8h0M386.5 577.3h0M386.5 579h0M386.5 581.9h0M400.7 574.9h0M400.7 578.5h0M400.7 580.1h0M398.6 568.6h0M391.3 567.7h0M400 571.2h0M392.8 570.7h0M387.4 571.3h0M397 571.5h0M396.5 570.5h0M387.6 561h0M387.5 564.4h0M388.9 570.8h0M387.8 566.4h0M398.5 568.8h0M387.5 570.6h0M391.2 564.6h0M396 570.3h0M396.2 571.2h0M400.1 568h0M399.8 564.5h0M400 561.4h0M399.9 557.8h0M400.1 555h0M400 551.5h0M395.2 544.9h0M400.3 547.6h0M399.9 552.2h0M401.3 558.7h0M399.9 562.8h0M386.1 554.7h0M390.1 559.7h0M394.4 545.5h0"/>
<path d="M405.4,604.6 L403.9,603.1 L403.9,580.9 L418.9,580.9 L418.9,603.1 L417.4,604.6Z" fill="#83d3ad"/>
<g fill="#fff"><circle cx="409.1" cy="588.3" r="0.6"/><circle cx="407.2" cy="595.8" r="1.2"/><circle cx="415.1" cy="579.8" r="0.8"/><circle cx="408.8" cy="586.1" r="1.1"/><circle cx="414.9" cy="578.5" r="1.1"/><circle cx="415.3" cy="589.6" r="0.6"/><circle cx="412.9" cy="595.4" r="1.1"/></g>
<path stroke="#83d3ad" stroke-width="4" stroke-linecap="round" d="M408 574.7h0M416.9 578.4h0M410.3 577.9h0M411.3 575.3h0M410.5 576.7h0M415.8 581.7h0M409.1 577h0M408.3 582.4h0M407.4 577.3h0M406 577.1h0M411 572.3h0M407.6 577.5h0M411.1 575.4h0M406.5 575.6h0M409.7 573.2h0M412.5 574.5h0M411.7 579.8h0M406.1 577.5h0M412.9 581.8h0M413.5 581.1h0M413.2 574.5h0M414.8 580.3h0M411.3 582.1h0M406.4 581.9h0M409.8 578h0M414.7 573.9h0M411.4 572.3h0M406.3 582.4h0M408.3 576.7h0M407.2 582.2h0M411.5 581.3h0M408.9 577.1h0M405.9 572.9h0M405.9 575.3h0M405.9 577.6h0M405.9 581.1h0M416.9 572.9h0M416.9 575.8h0M416.9 578.2h0M416.9 583.4h0M409.4 571.7h0M412.9 568.2h0M410.2 572h0M414.1 572.8h0M411 572.2h0M412.9 572h0M416.2 566.2h0M408.8 570.1h0M406.3 568.1h0M410.2 571.8h0M408.2 564.8h0M409.4 572h0M409.9 561.7h0M412 554.7h0M416.9 554.7h0M405.4 556.7h0M416.9 558.7h0M408.4 566.8h0"/>
<path d="M422.1,604.6 L420.6,603.1 L420.6,576.8 L426,576.8 L428,552.5 L432,560 L434,570 L437.8,576.8 L437.8,603.1 L436.3,604.6Z" fill="#7c162c"/>
<g fill="#fff"><circle cx="426.8" cy="563.9" r="1.2"/><circle cx="431.4" cy="558" r="0.5"/><circle cx="425.2" cy="581.7" r="1.2"/><circle cx="432.4" cy="564.7" r="0.7"/><circle cx="432.7" cy="576.1" r="0.8"/><circle cx="424.4" cy="572" r="1.1"/><circle cx="431" cy="573.5" r="0.9"/></g>
<path stroke="#7c162c" stroke-width="4" stroke-linecap="round" d="M428 551.7h0M426.5 563h0M429.4 547.1h0M428.6 554.1h0M430.2 550.7h0M425.4 574h0M429.3 555.9h0M424.9 573h0M428.5 548.7h0M425.1 572.1h0M429.8 549.1h0M426.8 563.6h0M435 568.2h0M427.2 554.2h0M429.4 550.1h0M424.1 573.1h0M430.7 552.6h0M432.3 559.5h0M423.4 568.5h0M429.5 553.1h0M430 549.8h0M427.1 561.8h0M427.8 551.4h0M425.6 574.8h0M428.9 545.5h0M432.6 562.7h0M435.6 574.3h0M431.9 556h0M426.1 574.3h0M428.1 547.4h0M424.1 574.5h0M432 559.5h0M424.6 570.2h0M431 550.7h0M434.3 571.8h0M430.9 552h0M430 555.8h0M422.6 568.8h0M422.6 571.3h0M422.6 574.1h0M422.6 576.6h0M422.6 579.5h0M435.8 565.2h0M435.8 566.9h0M435.8 572.5h0M435.8 574.9h0M430.8 547.1h0M429.6 545.4h0M429.7 547h0M434.5 554.4h0M433.1 552h0M429.2 545.5h0M429.5 544.3h0M429 544.8h0M421.6 494.8h0M428.7 542.1h0M430.3 548.6h0M433.8 549.6h0M428.7 552.6h0M434.4 554.7h0M427.7 557.7h0M433.8 561.8h0"/>
<path d="M440.3,604.6 L438.8,603.1 L438.8,578.9 L452.6,578.9 L452.6,603.1 L451.1,604.6Z" fill="#26755d"/>
<g fill="#fff"><circle cx="442.9" cy="573.5" r="1.2"/><circle cx="447.5" cy="577.5" r="1.2"/><circle cx="448.7" cy="578.5" r="0.6"/><circle cx="445.2" cy="586.7" r="0.8"/><circle cx="441.9" cy="582.7" r="1.1"/></g>
<path stroke="#26755d" stroke-width="4" stroke-linecap="round" d="M442 575.2h0M449.6 576.1h0M447.1 575.1h0M444.3 570.2h0M442.9 572.1h0M441.7 570.7h0M448.2 580.9h0M447.6 579.1h0M442.9 579.3h0M444.5 579.3h0M443.1 573.3h0M446 572.5h0M443.3 577.9h0M448.5 580.7h0M447.2 573.9h0M445.4 576.4h0M446.6 580h0M446.4 580.5h0M445.5 574.9h0M441.1 573.6h0M445.5 570.2h0M445.1 571.4h0M443.4 579.6h0M449.8 571.3h0M446.6 575.4h0M441.3 573.3h0M446 574.7h0M446.4 570.8h0M446.8 576.7h0M440.8 570.9h0M440.8 576.1h0M440.8 578.4h0M440.8 580.5h0M450.6 570.9h0M450.6 573.5h0M450.6 575.9h0M450.6 577.9h0M450.6 580.1h0M443.6 556.2h0M442.7 565.6h0M447 567.3h0M440.9 565.7h0M447 563.4h0M447.2 559.8h0M442.1 566.2h0M445.2 565.4h0M450.6 570.4h0M446.6 569.1h0M450.6 568.5h0M444.4 568.9h0M448.6 511.1h0M439.8 534.8h0M442.5 550.6h0M450 551h0M439.8 556.7h0M451 554.7h0M450 562.4h0"/>
<path d="M455.5,604.6 L454,603.1 L454,587 L473.3,587 L473.3,603.1 L471.8,604.6Z" fill="#4197d8"/>
<g fill="#fff"><circle cx="469.9" cy="586.1" r="0.9"/><circle cx="462.3" cy="589.3" r="1"/><circle cx="466.2" cy="581.7" r="0.6"/><circle cx="462" cy="597.7" r="0.5"/><circle cx="468.6" cy="597.2" r="0.5"/><circle cx="468.1" cy="587.6" r="1"/><circle cx="469.5" cy="598.2" r="1.1"/><circle cx="459" cy="584.4" r="0.6"/><circle cx="463.1" cy="596.5" r="1.2"/></g>
<path stroke="#4197d8" stroke-width="4" stroke-linecap="round" d="M459.4 587.7h0M461.1 586.9h0M466.9 588.3h0M464.8 582.1h0M460 580.7h0M457.6 581.4h0M460.9 587.1h0M456.1 583.6h0M463.8 579.9h0M466.6 580.4h0M467.4 580h0M469.4 581.6h0M457.4 579.8h0M459.1 579.6h0M460.8 588.7h0M461.7 582.5h0M467.5 579h0M457.3 587.6h0M461 580.1h0M458.8 586.2h0M471 582.5h0M466.9 583.2h0M459.1 581.6h0M461.2 580.9h0M468.1 579.2h0M461.9 586.1h0M456.5 588.6h0M465.4 585.2h0M458.9 580.4h0M468.9 588.7h0M456.2 587h0M459.1 579h0M465.1 579.2h0M468.9 587.3h0M460.4 579.8h0M463.8 586.3h0M456.6 585.8h0M457.9 582.3h0M458.5 579.1h0M464.2 581.4h0M469.9 588h0M456 579h0M456 581.3h0M456 583.3h0M456 585.6h0M471.3 579h0M471.3 581.8h0M471.3 583.4h0M471.3 585.6h0M460.6 574.4h0M461 575.2h0M467.8 573.9h0M462.8 567.8h0M464.7 577.9h0M467.8 576.3h0M457.9 564.8h0M458.7 577.6h0M464.5 576.1h0M457.8 573.1h0M470.6 574.2h0M456.9 572.9h0M471.2 571.5h0M456.7 577.4h0M466.6 577.4h0M463.1 577.6h0M462.1 570.4h0M460.1 540.1h0M470.3 554.3h0M456.1 556.3h0M456.7 560.8h0M467.2 563.2h0M456.7 566.8h0M470.3 566.8h0"/>
<line x1="36.3" y1="511.4" x2="472.7" y2="511.4" stroke="#ef5a5a" stroke-width="1" stroke-dasharray="1.4,1.4" opacity="0.75"/>
<line x1="35.9" y1="603" x2="35.9" y2="442.7" stroke="#8a8a8a" stroke-width="1.2"/>
<line x1="32.6" y1="603" x2="35.9" y2="603" stroke="#8a8a8a" stroke-width="1"/>
<text x="29.2" y="605.9" text-anchor="end" font-size="6.4" font-weight="bold" fill="#1c1c1c" stroke="#1c1c1c" stroke-width="0.25">0</text>
<line x1="32.6" y1="580.1" x2="35.9" y2="580.1" stroke="#8a8a8a" stroke-width="1"/>
<text x="29.2" y="583" text-anchor="end" font-size="6.4" font-weight="bold" fill="#1c1c1c" stroke="#1c1c1c" stroke-width="0.25">1</text>
<line x1="32.6" y1="557.2" x2="35.9" y2="557.2" stroke="#8a8a8a" stroke-width="1"/>
<text x="29.2" y="560.1" text-anchor="end" font-size="6.4" font-weight="bold" fill="#1c1c1c" stroke="#1c1c1c" stroke-width="0.25">2</text>
<line x1="32.6" y1="534.3" x2="35.9" y2="534.3" stroke="#8a8a8a" stroke-width="1"/>
<text x="29.2" y="537.2" text-anchor="end" font-size="6.4" font-weight="bold" fill="#1c1c1c" stroke="#1c1c1c" stroke-width="0.25">3</text>
<line x1="32.6" y1="511.4" x2="35.9" y2="511.4" stroke="#8a8a8a" stroke-width="1"/>
<text x="29.2" y="514.3" text-anchor="end" font-size="6.4" font-weight="bold" fill="#1c1c1c" stroke="#1c1c1c" stroke-width="0.25">4</text>
<line x1="32.6" y1="488.5" x2="35.9" y2="488.5" stroke="#8a8a8a" stroke-width="1"/>
<text x="29.2" y="491.4" text-anchor="end" font-size="6.4" font-weight="bold" fill="#1c1c1c" stroke="#1c1c1c" stroke-width="0.25">5</text>
<line x1="32.6" y1="465.6" x2="35.9" y2="465.6" stroke="#8a8a8a" stroke-width="1"/>
<text x="29.2" y="468.5" text-anchor="end" font-size="6.4" font-weight="bold" fill="#1c1c1c" stroke="#1c1c1c" stroke-width="0.25">6</text>
<line x1="32.6" y1="442.7" x2="35.9" y2="442.7" stroke="#8a8a8a" stroke-width="1"/>
<text x="29.2" y="445.6" text-anchor="end" font-size="6.4" font-weight="bold" fill="#1c1c1c" stroke="#1c1c1c" stroke-width="0.25">7</text>
<line x1="35.9" y1="609.4" x2="471.9" y2="609.4" stroke="#8a8a8a" stroke-width="1.2"/>
<line x1="35.9" y1="609.4" x2="35.9" y2="613.2" stroke="#8a8a8a" stroke-width="1"/>
<line x1="47" y1="609.4" x2="47" y2="613.2" stroke="#8a8a8a" stroke-width="1"/>
<line x1="68.3" y1="609.4" x2="68.3" y2="613.2" stroke="#8a8a8a" stroke-width="1"/>
<line x1="91.5" y1="609.4" x2="91.5" y2="613.2" stroke="#8a8a8a" stroke-width="1"/>
<line x1="114.3" y1="609.4" x2="114.3" y2="613.2" stroke="#8a8a8a" stroke-width="1"/>
<line x1="136.4" y1="609.4" x2="136.4" y2="613.2" stroke="#8a8a8a" stroke-width="1"/>
<line x1="157.1" y1="609.4" x2="157.1" y2="613.2" stroke="#8a8a8a" stroke-width="1"/>
<line x1="178.3" y1="609.4" x2="178.3" y2="613.2" stroke="#8a8a8a" stroke-width="1"/>
<line x1="199.9" y1="609.4" x2="199.9" y2="613.2" stroke="#8a8a8a" stroke-width="1"/>
<line x1="222.4" y1="609.4" x2="222.4" y2="613.2" stroke="#8a8a8a" stroke-width="1"/>
<line x1="247.3" y1="609.4" x2="247.3" y2="613.2" stroke="#8a8a8a" stroke-width="1"/>
<line x1="270" y1="609.4" x2="270" y2="613.2" stroke="#8a8a8a" stroke-width="1"/>
<line x1="291.6" y1="609.4" x2="291.6" y2="613.2" stroke="#8a8a8a" stroke-width="1"/>
<line x1="313.6" y1="609.4" x2="313.6" y2="613.2" stroke="#8a8a8a" stroke-width="1"/>
<line x1="336.4" y1="609.4" x2="336.4" y2="613.2" stroke="#8a8a8a" stroke-width="1"/>
<line x1="355.7" y1="609.4" x2="355.7" y2="613.2" stroke="#8a8a8a" stroke-width="1"/>
<line x1="373.6" y1="609.4" x2="373.6" y2="613.2" stroke="#8a8a8a" stroke-width="1"/>
<line x1="393.4" y1="609.4" x2="393.4" y2="613.2" stroke="#8a8a8a" stroke-width="1"/>
<line x1="411.1" y1="609.4" x2="411.1" y2="613.2" stroke="#8a8a8a" stroke-width="1"/>
<line x1="428.9" y1="609.4" x2="428.9" y2="613.2" stroke="#8a8a8a" stroke-width="1"/>
<line x1="446.1" y1="609.4" x2="446.1" y2="613.2" stroke="#8a8a8a" stroke-width="1"/>
<line x1="463.5" y1="609.4" x2="463.5" y2="613.2" stroke="#8a8a8a" stroke-width="1"/>
<text x="36.2" y="623.1" text-anchor="middle" font-size="6.4" font-weight="bold" fill="#1c1c1c" stroke="#1c1c1c" stroke-width="0.25">Chr</text>
<text x="68.3" y="623.1" text-anchor="middle" font-size="6.4" font-weight="bold" fill="#1c1c1c" stroke="#1c1c1c" stroke-width="0.25">2A</text>
<text x="91.5" y="623.1" text-anchor="middle" font-size="6.4" font-weight="bold" fill="#1c1c1c" stroke="#1c1c1c" stroke-width="0.25">3A</text>
<text x="114.3" y="623.1" text-anchor="middle" font-size="6.4" font-weight="bold" fill="#1c1c1c" stroke="#1c1c1c" stroke-width="0.25">4A</text>
<text x="136.4" y="623.1" text-anchor="middle" font-size="6.4" font-weight="bold" fill="#1c1c1c" stroke="#1c1c1c" stroke-width="0.25">5A</text>
<text x="157.1" y="623.1" text-anchor="middle" font-size="6.4" font-weight="bold" fill="#1c1c1c" stroke="#1c1c1c" stroke-width="0.25">6A</text>
<text x="178.3" y="623.1" text-anchor="middle" font-size="6.4" font-weight="bold" fill="#1c1c1c" stroke="#1c1c1c" stroke-width="0.25">7A</text>
<text x="199.9" y="623.1" text-anchor="middle" font-size="6.4" font-weight="bold" fill="#1c1c1c" stroke="#1c1c1c" stroke-width="0.25">1B</text>
<text x="222.4" y="623.1" text-anchor="middle" font-size="6.4" font-weight="bold" fill="#1c1c1c" stroke="#1c1c1c" stroke-width="0.25">2B</text>
<text x="247.3" y="623.1" text-anchor="middle" font-size="6.4" font-weight="bold" fill="#1c1c1c" stroke="#1c1c1c" stroke-width="0.25">3B</text>
<text x="270" y="623.1" text-anchor="middle" font-size="6.4" font-weight="bold" fill="#1c1c1c" stroke="#1c1c1c" stroke-width="0.25">4B</text>
<text x="291.6" y="623.1" text-anchor="middle" font-size="6.4" font-weight="bold" fill="#1c1c1c" stroke="#1c1c1c" stroke-width="0.25">5B</text>
<text x="313.6" y="623.1" text-anchor="middle" font-size="6.4" font-weight="bold" fill="#1c1c1c" stroke="#1c1c1c" stroke-width="0.25">6B</text>
<text x="336.4" y="623.1" text-anchor="middle" font-size="6.4" font-weight="bold" fill="#1c1c1c" stroke="#1c1c1c" stroke-width="0.25">7B</text>
<text x="355.7" y="623.1" text-anchor="middle" font-size="6.4" font-weight="bold" fill="#1c1c1c" stroke="#1c1c1c" stroke-width="0.25">1D</text>
<text x="373.6" y="623.1" text-anchor="middle" font-size="6.4" font-weight="bold" fill="#1c1c1c" stroke="#1c1c1c" stroke-width="0.25">2D</text>
<text x="393.4" y="623.1" text-anchor="middle" font-size="6.4" font-weight="bold" fill="#1c1c1c" stroke="#1c1c1c" stroke-width="0.25">3D</text>
<text x="411.1" y="623.1" text-anchor="middle" font-size="6.4" font-weight="bold" fill="#1c1c1c" stroke="#1c1c1c" stroke-width="0.25">4D</text>
<text x="428.9" y="623.1" text-anchor="middle" font-size="6.4" font-weight="bold" fill="#1c1c1c" stroke="#1c1c1c" stroke-width="0.25">5D</text>
<text x="446.1" y="623.1" text-anchor="middle" font-size="6.4" font-weight="bold" fill="#1c1c1c" stroke="#1c1c1c" stroke-width="0.25">6D</text>
<text x="463.5" y="623.1" text-anchor="middle" font-size="6.4" font-weight="bold" fill="#1c1c1c" stroke="#1c1c1c" stroke-width="0.25">7D</text>
<text transform="translate(10.3,543.05) rotate(-90)" text-anchor="start" font-size="9.04" fill="#1c1c1c" stroke="#1c1c1c" stroke-width="0.2"><tspan font-size="9.4">−</tspan><tspan font-size="9.4" dx="1.1">log</tspan><tspan font-size="7.05" dy="2.35">10</tspan><tspan font-size="9.4" dy="-2.35" dx="0.5">(</tspan><tspan font-size="9.4" font-style="italic">p</tspan><tspan font-size="9.4" dx="1.8">)</tspan></text>
<text x="52.3" y="457.5" font-size="16" fill="#111" stroke="#111" stroke-width="0.7">C</text>
<path d="M39.7,817.9 L38.2,816.4 L38.2,794.2 L42,794.2 L44,800 L48,800 L50,788.3 L56.2,788.3 L56.2,816.4 L54.7,817.9Z" fill="#4197d8"/>
<g fill="#fff"><circle cx="52.3" cy="812.9" r="1"/><circle cx="48" cy="806.4" r="0.9"/><circle cx="46.4" cy="805.2" r="0.6"/></g>
<path stroke="#4197d8" stroke-width="4" stroke-linecap="round" d="M40.5 793.9h0M47.8 801.1h0M46.9 796.1h0M52.1 783.3h0M49.8 785.7h0M41 789.7h0M52.1 783.7h0M53.1 783.6h0M53.2 782.9h0M49.4 790h0M48.6 798.2h0M43.4 800.1h0M48.2 799.5h0M43.7 801.1h0M50.3 786.2h0M43.2 798.9h0M48 801.7h0M52.6 788.3h0M50.3 783.8h0M51.8 788.1h0M41.6 788.9h0M41.6 790.1h0M50.9 788.5h0M49.9 785.8h0M53.3 783.7h0M43.4 795.9h0M43.8 799.5h0M51.9 788.3h0M44.7 798.7h0M44.6 798.5h0M40.2 789.2h0M40.2 793.6h0M40.2 795.3h0M54.2 787.9h0M54.2 790.1h0M51.2 777.1h0M48.5 788.5h0M52.3 773.8h0M40.7 788.1h0M50.8 777.8h0M49.4 782.2h0M44.8 789.8h0M49 782.7h0M41.3 778.3h0M43.5 768.6h0M40.1 771.1h0M39.7 779.1h0M51.4 776.2h0M54 779.1h0M46.7 785.7h0"/>
<path d="M58.4,817.9 L56.9,816.4 L56.9,789.8 L58,779.6 L62,779.6 L63,789.8 L79.5,789.8 L79.5,816.4 L78,817.9Z" fill="#f8c120"/>
<g fill="#fff"><circle cx="67.4" cy="790.1" r="0.5"/><circle cx="75" cy="790.8" r="0.6"/><circle cx="69.3" cy="801.3" r="0.9"/><circle cx="64.6" cy="792" r="1"/><circle cx="73.3" cy="788.5" r="0.8"/></g>
<path stroke="#f8c120" stroke-width="4" stroke-linecap="round" d="M68.9 787.3h0M73.9 791.2h0M70.4 784.6h0M68.8 785h0M68.9 790.4h0M71.4 787.6h0M61.8 781.1h0M75.1 787.8h0M59.9 779.1h0M66.4 787.1h0M65.9 786.1h0M61.5 778.9h0M68.5 787.4h0M72.9 787.9h0M61.9 775.9h0M69.3 789.2h0M70.7 789.8h0M65.6 790h0M69.7 786h0M61.2 778.7h0M74.7 791.4h0M74.1 790.4h0M69.9 785.9h0M64.4 790.7h0M64 787.8h0M69.1 784.1h0M61 775.4h0M73.7 790.1h0M60.5 775.1h0M77.3 785.3h0M73.8 788.6h0M75.1 789.7h0M60.7 779.8h0M72.2 784.3h0M76.4 786.3h0M67.5 788.1h0M69.2 788.4h0M60.1 780.5h0M58.9 774.6h0M58.9 776.2h0M58.9 778h0M58.9 780.6h0M58.9 782.4h0M77.5 784.8h0M77.5 786.6h0M77.5 788.5h0M77.5 790.9h0M77.5 792.6h0M60.2 773.8h0M60 774.5h0M59.1 774.4h0M66.5 783.7h0M74.1 779.8h0M61.6 773.9h0M69.1 779.3h0M61 773.6h0M60.9 767.1h0M60.7 763.9h0M67.4 747.7h0M67.8 760.9h0M61 763.5h0M61 768.9h0M74.4 771.8h0M77 775.8h0M66.4 776.2h0M77 781.3h0M72.7 783.1h0M61 773.3h0"/>
<path d="M82.5,817.9 L81,816.4 L81,796 L84,797 L87,803 L90,808 L93,804 L96,796 L99,793 L102.4,793 L102.4,816.4 L100.9,817.9Z" fill="#413496"/>
<g fill="#fff"><circle cx="87.9" cy="807.8" r="0.9"/><circle cx="96.7" cy="792.5" r="0.9"/><circle cx="96.6" cy="792.8" r="0.6"/><circle cx="92.4" cy="802.9" r="0.9"/></g>
<path stroke="#413496" stroke-width="4" stroke-linecap="round" d="M93.4 804h0M93.3 799.5h0M95.6 792.4h0M84.9 793h0M93 802.6h0M91.1 805.1h0M86.3 797.4h0M93.2 800.9h0M91.7 807.1h0M91.1 806.5h0M84.1 795.1h0M83.9 792.7h0M86.3 798.8h0M85.8 802h0M88.2 801.6h0M84.2 794.6h0M96.6 793.8h0M98.5 792.5h0M94.2 798.3h0M97.5 792.2h0M85.4 795.8h0M96.9 789.8h0M86.1 800.4h0M94.9 796.8h0M94.4 797.9h0M93.3 797.8h0M90.2 809.6h0M93 800.8h0M93.8 803.6h0M91.1 804h0M97.3 795.5h0M86.9 802.3h0M88.2 802h0M97 792.1h0M98.9 791.1h0M98.1 789.1h0M83 791.7h0M83 796.1h0M100.4 788h0M100.4 792.4h0M98.2 789.3h0M86.3 790.9h0M100.3 788.9h0M83.7 790.1h0M95 791.2h0M100.3 789.1h0M98.2 790.3h0M82.4 788.3h0M100.7 785.4h0M97.8 786.4h0M94.6 793h0M85.8 795.2h0"/>
<path d="M105.1,817.9 L103.6,816.4 L103.6,799 L106,797 L108,802 L115,802 L118,800 L120,794 L124.8,793 L124.8,816.4 L123.3,817.9Z" fill="#495226"/>
<g fill="#fff"><circle cx="118.9" cy="794.6" r="1"/><circle cx="116.3" cy="800.7" r="0.7"/><circle cx="106.7" cy="798.8" r="0.7"/><circle cx="111.2" cy="802.7" r="1.1"/><circle cx="121" cy="805.9" r="1.1"/></g>
<path stroke="#495226" stroke-width="4" stroke-linecap="round" d="M120.2 791.7h0M121.1 793.5h0M112.5 801h0M110.8 796.6h0M113.9 796.6h0M110.7 802.8h0M122.3 789.3h0M108.5 799h0M113.3 797.3h0M119.5 791h0M114.9 798.3h0M116.7 796h0M114.1 802.8h0M105.9 792.8h0M106.8 799.8h0M117.1 796.7h0M121.1 789.3h0M114 801.9h0M115.9 796.1h0M106.4 793.7h0M121.9 794.8h0M110.8 796.6h0M116.5 796.7h0M120.9 795.2h0M119.1 797.1h0M119 797.7h0M112.1 801.8h0M105.8 796.8h0M113.3 803.9h0M119.1 794.4h0M117.8 798.9h0M116.2 795.5h0M109.5 798.2h0M117.7 801.5h0M116.4 801.2h0M116.5 796.3h0M105.6 792.3h0M105.6 794.7h0M105.6 796.8h0M105.6 798.8h0M122.8 788.4h0M122.8 790.8h0M122.8 793.7h0M122.8 796.3h0M110.5 791.1h0M111.3 791.7h0M115.4 795.9h0M113 793.3h0M112.4 790.1h0M118.3 789.6h0M122.7 787.3h0M109.4 795.7h0M108.3 793.5h0M120.4 762h0M106.2 775.2h0M106.2 780.1h0M106.2 787.4h0M120.4 780.1h0M123.3 778.1h0M110.9 791.2h0M114.6 794.5h0M121.9 787.2h0"/>
<path d="M127.6,817.9 L126.1,816.4 L126.1,794.2 L131,794.2 L132,804.4 L136,804.4 L137,792.7 L147,792.7 L147,816.4 L145.5,817.9Z" fill="#d60b6f"/>
<g fill="#fff"><circle cx="133.5" cy="810.3" r="0.8"/><circle cx="139.4" cy="790.2" r="1.1"/><circle cx="138.6" cy="798.5" r="0.8"/><circle cx="132.3" cy="806" r="0.7"/><circle cx="141.8" cy="810" r="0.8"/></g>
<path stroke="#d60b6f" stroke-width="4" stroke-linecap="round" d="M136.1 798.1h0M132.1 799.7h0M130.1 789.5h0M133.5 799h0M133.1 805.3h0M132.2 802.6h0M142.5 787h0M140.4 791.1h0M128.6 795.3h0M141.5 787.7h0M144.3 791.4h0M138.8 788.6h0M128.6 793.9h0M140.2 788.3h0M128.7 792.9h0M133.3 801.3h0M142.8 791.3h0M130.1 793.9h0M140.3 791.3h0M144.2 790.6h0M139.1 787.3h0M133.2 800.9h0M135.4 802.6h0M130 793.8h0M129 790.4h0M138 787.1h0M133.7 804.9h0M140.5 789.8h0M130.9 794.3h0M142.8 787.5h0M135.2 802.9h0M139.8 788.5h0M142 791.7h0M141.6 794.3h0M139.7 792.1h0M128.1 789.2h0M128.1 791.1h0M128.1 793.8h0M145 790.2h0M145 794.4h0M136.9 786.1h0M130.8 784h0M128.4 780.3h0M140.9 784.1h0M134.8 799h0M131.3 788.6h0M139.9 785.9h0M133.9 791.5h0M142 786.7h0M141.7 784h0M141.9 781.2h0M141.8 775.8h0M143.6 766h0M141.9 771.8h0M142.2 773.3h0M131.7 774.7h0M128 779.9h0M129.5 782h0M142.6 781.6h0"/>
<path d="M149.5,817.9 L148,816.4 L148,798.5 L158,798.5 L160.1,778.1 L162,798.5 L166.4,798.5 L166.4,816.4 L164.9,817.9Z" fill="#e66519"/>
<g fill="#fff"><circle cx="152.6" cy="799.2" r="1.2"/><circle cx="158.5" cy="802.8" r="0.6"/><circle cx="163" cy="797.3" r="0.8"/><circle cx="151.4" cy="801.6" r="1"/></g>
<path stroke="#e66519" stroke-width="4" stroke-linecap="round" d="M156.9 792.9h0M153.5 794.6h0M152.9 799.1h0M163.7 795.2h0M161.6 790.2h0M158.4 790.7h0M163.1 796.7h0M158.5 794h0M157.5 796.5h0M160.2 777.6h0M158.3 792.1h0M152.2 794.4h0M164 797.3h0M150.3 794.2h0M158.4 792.8h0M164.2 799.7h0M151 799h0M164.2 798.5h0M163.7 795.7h0M159.1 787.8h0M161.5 792.6h0M161.8 793.3h0M161.5 791.5h0M163.8 795.2h0M158.9 790.4h0M160.9 786.8h0M152.1 793.9h0M154.6 797.8h0M150.5 797.8h0M151.7 794.2h0M154 797h0M150 793.5h0M150 796.4h0M164.4 793.5h0M164.4 795.5h0M164.4 797.7h0M161 780h0M151.3 785.6h0M154.1 788h0M160.1 768.8h0M156.8 757.7h0M160.1 766h0M160.1 771.8h0M157.2 776.2h0M161.6 776.2h0M150.4 784.2h0M154.3 783.1h0"/>
<path d="M169.4,817.9 L167.9,816.4 L167.9,802.9 L188.6,802.9 L188.6,816.4 L187.1,817.9Z" fill="#d581b7"/>
<g fill="#fff"><circle cx="173.4" cy="809.1" r="0.9"/><circle cx="179.6" cy="800.2" r="0.7"/><circle cx="181.5" cy="804.7" r="1.2"/><circle cx="178.5" cy="813" r="0.7"/></g>
<path stroke="#d581b7" stroke-width="4" stroke-linecap="round" d="M173.5 803.5h0M181.9 803.2h0M179.3 799h0M170.5 801.7h0M170.1 801.1h0M182.8 798.2h0M177.2 801.3h0M172.4 798.7h0M180.1 798.5h0M172.4 798.8h0M185.5 804.1h0M171.8 801.6h0M176.8 797.3h0M174.1 802.2h0M170.2 804.6h0M174.7 799.8h0M185.7 798.2h0M172.1 800.8h0M175.1 799.6h0M179.6 804.5h0M176.8 797.4h0M176.1 803.8h0M177.1 797.6h0M174.1 798.9h0M175.8 799.6h0M181.1 802.7h0M170.6 798.2h0M183.6 803.9h0M183.1 798.5h0M181.5 797.7h0M181.2 798.8h0M183.9 803.7h0M177.7 802.8h0M185.7 804.1h0M180.7 801.9h0M169.9 797.9h0M169.9 800.4h0M169.9 802.6h0M169.9 804.3h0M186.6 797.9h0M186.6 800.8h0M186.6 803.1h0M184.8 793.3h0M185.6 797.1h0M171.3 791.9h0M170.7 795.7h0M182.1 791.5h0M185.9 795.3h0M182.3 788.5h0M186.5 794.7h0M172.3 795.4h0M186.1 793.8h0M183.7 792.4h0M171.8 793h0M177.2 767h0M185 778.1h0M183.1 780.6h0M173.7 784.2h0M179.6 787.4h0M185.4 791.8h0M178.4 792.3h0"/>
<path d="M191.6,817.9 L190.1,816.4 L190.1,808.8 L196,808.8 L197,791.2 L209.8,791.2 L209.8,816.4 L208.3,817.9Z" fill="#83d3ad"/>
<g fill="#fff"><circle cx="202.6" cy="796.4" r="0.6"/><circle cx="205.8" cy="802.2" r="1.1"/><circle cx="200.6" cy="804" r="1"/><circle cx="194.8" cy="811" r="0.7"/></g>
<path stroke="#83d3ad" stroke-width="4" stroke-linecap="round" d="M192.8 809.3h0M203 791.2h0M204.7 787h0M205.9 790.4h0M206.9 789.7h0M205.7 785.8h0M194.7 807.3h0M202.6 788.4h0M193.2 809.9h0M193.2 809.9h0M195.8 808.5h0M201.4 787.2h0M197.3 787.3h0M200.5 787.6h0M200.6 787.6h0M194 808.4h0M196.2 806.7h0M198.5 787.4h0M203.4 792.4h0M197.9 791.1h0M197.3 793.2h0M196.8 789h0M192.2 807.2h0M201.9 787.6h0M198.6 788.6h0M197.8 786.9h0M200.6 790.6h0M192.5 809.9h0M196.2 803.7h0M195.5 808.3h0M198.5 789.9h0M198.5 789.4h0M193.5 810.7h0M192.1 803.8h0M192.1 807.7h0M192.1 809.9h0M207.8 786.2h0M207.8 790.9h0M207.8 793.6h0M201.4 778.7h0M207.3 784h0M197.6 782.5h0M207.2 783.8h0M192.3 797.6h0M198.9 784.9h0M205 773.3h0M208.3 775.8h0M205 778.7h0M193.7 790.4h0M193 795.2h0"/>
<path d="M213.1,817.9 L211.6,816.4 L211.6,788.3 L218,788.3 L220,798.5 L224,798.5 L225,788.3 L234.2,788.3 L234.2,816.4 L232.7,817.9Z" fill="#7c162c"/>
<g fill="#fff"><circle cx="221" cy="802.1" r="0.8"/><circle cx="217.9" cy="798.5" r="0.7"/><circle cx="218.4" cy="794.3" r="0.7"/><circle cx="221.2" cy="804.3" r="1.2"/><circle cx="215.9" cy="798.1" r="0.6"/></g>
<path stroke="#7c162c" stroke-width="4" stroke-linecap="round" d="M219.4 790.4h0M228.7 788.5h0M213.8 786.5h0M214 786.8h0M216.7 790h0M219.5 794.4h0M218.5 792h0M213.8 784.9h0M217.8 788.3h0M220.5 799.4h0M219.7 792.1h0M222.1 793.4h0M216.4 786.6h0M224.3 791.5h0M216.9 786.6h0M221.9 796.5h0M226.1 783.6h0M213.8 783h0M228.4 788h0M216.5 785.1h0M219.3 796.5h0M221.3 798.3h0M215.2 782.8h0M217.8 787.5h0M221.9 799.5h0M228.9 787.7h0M232.1 790h0M230 783.2h0M221 793.8h0M225 786.6h0M215.3 783.1h0M222.2 797.6h0M221.2 796.4h0M225.4 787.9h0M226.8 785.7h0M216.8 789.3h0M214.4 784.1h0M217.1 787.1h0M213.6 783.3h0M213.6 784.9h0M213.6 787.3h0M213.6 788.9h0M213.6 790.8h0M232.2 788h0M232.2 790.1h0M228.6 780.8h0M214.4 783.1h0M218.3 780.1h0M228.4 783.3h0M231.5 780.7h0M214 783.1h0M213.7 782.5h0M227.9 779.4h0M231.2 782.2h0M220.3 763.1h0M214.1 775.8h0M218.9 777.7h0M227.6 775.8h0M232 774.7h0M223.2 790.1h0M220.3 782.5h0"/>
<path d="M236.9,817.9 L235.4,816.4 L235.4,792.7 L259.3,792.7 L259.3,816.4 L257.8,817.9Z" fill="#26755d"/>
<g fill="#fff"><circle cx="247.8" cy="790.7" r="0.9"/><circle cx="241.9" cy="800" r="0.8"/><circle cx="251.3" cy="798.5" r="0.6"/><circle cx="254.8" cy="793.2" r="0.6"/></g>
<path stroke="#26755d" stroke-width="4" stroke-linecap="round" d="M245 794.3h0M246.5 792.5h0M253.9 790.5h0M244.9 793h0M250.1 794.6h0M242.8 794.3h0M247.1 793.7h0M250.2 791.3h0M254.4 787.5h0M243 790.7h0M253.7 788.4h0M252.9 787.6h0M244.4 790.5h0M251.6 791h0M254.3 792.3h0M245 791h0M245.1 793.7h0M243.4 788.3h0M242.3 788.9h0M253.5 792.3h0M242.3 790.2h0M255.2 794.4h0M241.8 794.3h0M238.6 794.7h0M243.8 794.3h0M238 792.3h0M255.8 793.3h0M248.8 788.1h0M242.1 794.3h0M254.6 788.6h0M244.2 791.7h0M243.4 788.6h0M254.7 787.8h0M250 790.1h0M246.8 793.7h0M252.2 792.9h0M237.7 793.2h0M253.2 786.9h0M241.9 792.6h0M254.7 791.1h0M237.4 789.3h0M237.4 792.1h0M237.4 793.9h0M257.3 787.7h0M257.3 789.8h0M257.3 792.4h0M257.3 794.5h0M247.4 785.6h0M245.7 785.8h0M244.4 784.2h0M255.3 785.9h0M240.1 776.9h0M252.5 785.7h0M240.8 785.2h0M252.7 784.8h0M239 783.7h0M250.3 785.8h0M242 786.7h0M238.1 787.1h0M248.1 785.3h0M239.1 781.7h0M255.7 783.4h0M255.6 780.3h0M256.1 777.6h0M255.6 771h0M255.7 768.3h0M256.4 760.1h0M255.8 765.3h0M252.4 766.4h0M245.1 768.9h0M241.8 774h0M255.4 773.7h0M252.4 772.6h0M237.8 778.4h0M242.2 779.1h0M249.5 778.4h0"/>
<path d="M261.7,817.9 L260.2,816.4 L260.2,800 L264,800 L266,807 L268,815 L270,813 L272,807 L274,794.2 L280.6,794.2 L280.6,816.4 L279.1,817.9Z" fill="#4197d8"/>
<g fill="#fff"><circle cx="272" cy="808.1" r="0.8"/><circle cx="275.5" cy="795.7" r="0.5"/><circle cx="276.3" cy="796.8" r="1.1"/></g>
<path stroke="#4197d8" stroke-width="4" stroke-linecap="round" d="M273 796.3h0M269.8 808.6h0M269 815.6h0M272 805.2h0M272.3 804.1h0M272.1 802.9h0M265.7 804.8h0M277.4 795.2h0M270.2 808.9h0M271.8 802.1h0M270.3 812.3h0M278.1 789.1h0M265.5 803.1h0M272.2 807.5h0M264 795.2h0M270.1 812.9h0M262.7 797.2h0M273.9 792.6h0M265.1 798.7h0M274.7 792.4h0M271 809.5h0M274.7 791.5h0M268.2 815.3h0M263.4 800.3h0M269.8 811.6h0M266.3 809.8h0M267.2 808.4h0M263.2 801.2h0M275.8 788.8h0M264.6 798.6h0M262.7 798.1h0M276.1 794h0M270.4 813.5h0M267.2 808.5h0M262.2 795h0M262.2 797.4h0M262.2 799.1h0M278.6 791.4h0M278.6 794h0M278.6 796.4h0M272.7 794.3h0M273.2 786.1h0M266.5 802.8h0M265.8 798.6h0M261.6 772.6h0M271.9 776.2h0M271.9 779.9h0M278.7 779.9h0M263.1 779.6h0M263.4 787.4h0M267 792.3h0M270 794.2h0M278 785.4h0"/>
<path d="M282.7,817.9 L281.2,816.4 L281.2,801.5 L287,801.5 L290,788.3 L302.1,788.3 L302.1,816.4 L300.6,817.9Z" fill="#f8c120"/>
<g fill="#fff"><circle cx="284.7" cy="804.3" r="0.8"/><circle cx="298.3" cy="803.4" r="0.7"/><circle cx="291.9" cy="794.3" r="1.2"/><circle cx="290.2" cy="786.9" r="1.1"/><circle cx="291.8" cy="795.5" r="1.1"/></g>
<path stroke="#f8c120" stroke-width="4" stroke-linecap="round" d="M290.1 789.1h0M292.7 789.8h0M298.4 785.1h0M287.9 794.9h0M299.4 786.2h0M289.3 785.7h0M289.7 791h0M290.3 788.7h0M298.4 789.8h0M295.6 786.4h0M288.3 797.5h0M296.8 788.3h0M284.1 800.8h0M294.9 783.6h0M288.7 791.7h0M287.5 794.4h0M285.8 799.3h0M283.4 801.9h0M290.2 784.7h0M287.4 796.2h0M293.3 788.1h0M290.5 788.1h0M292.9 788.8h0M295.5 788.5h0M283.6 798.4h0M285.2 802.2h0M286 802.9h0M289 788.1h0M295 783.9h0M289.3 788.8h0M293.9 786.5h0M294.4 788.7h0M299.5 787.3h0M290.4 786.4h0M289.1 793.1h0M283.2 796.5h0M283.2 803.8h0M300.1 783.3h0M300.1 786h0M287.6 792.8h0M295.3 783.1h0M296.4 781.3h0M298.8 776h0M296 777.3h0M294.9 775.4h0M291.6 780.5h0M289 779.5h0M294.3 773.3h0M297.3 776.6h0M286.8 781.6h0M290.8 783.1h0M288.9 787.9h0M283.8 789.8h0M300.6 779.9h0"/>
<path d="M305,817.9 L303.5,816.4 L303.5,797.1 L314,797.1 L315,792 L324.2,792 L324.2,816.4 L322.7,817.9Z" fill="#413496"/>
<g fill="#fff"><circle cx="308.6" cy="808.2" r="0.6"/><circle cx="320.8" cy="791.4" r="1.1"/><circle cx="317.7" cy="792" r="0.9"/><circle cx="320.6" cy="793.8" r="0.5"/><circle cx="307.8" cy="795.1" r="0.8"/></g>
<path stroke="#413496" stroke-width="4" stroke-linecap="round" d="M305.8 796h0M318.1 790.2h0M312.2 796.9h0M308.1 795h0M308.8 798h0M318.6 789.3h0M318.6 790.4h0M316.4 788.1h0M318.4 791.3h0M322.1 788.2h0M312.2 797.4h0M309.8 797.3h0M319.7 787.5h0M317.7 788.5h0M310.1 794h0M318.5 791.2h0M311.9 796.6h0M319.1 787.7h0M319.9 790.3h0M316.1 792.9h0M309.1 794.9h0M317.3 786.3h0M312 795.5h0M313 795.2h0M319.5 787.1h0M317.5 788.4h0M306.9 794.9h0M307.7 794.9h0M308.3 794.8h0M307.8 799.1h0M309 794.8h0M315.6 791.5h0M307.7 797.9h0M311.7 791.9h0M312.7 796.2h0M305.5 792.1h0M305.5 794.7h0M322.2 787h0M322.2 789.1h0M322.2 791.2h0M322.2 793.6h0M316.7 784.1h0M317.8 779.1h0M320.1 786.8h0M316.2 779.9h0M312.7 782.8h0M311.9 789.2h0M318.2 783.4h0M309.3 791.5h0M309.9 786.3h0M304.9 764.1h0M315.1 776.2h0M308.1 781.3h0M315.1 784.2h0M319.1 782.5h0M322 784.2h0M306 787.4h0"/>
<path d="M327.2,817.9 L325.7,816.4 L325.7,794.2 L346.4,794.2 L346.4,816.4 L344.9,817.9Z" fill="#495226"/>
<g fill="#fff"><circle cx="340.9" cy="791.4" r="1"/><circle cx="333.7" cy="803.4" r="0.7"/><circle cx="329.9" cy="797.6" r="0.6"/><circle cx="333.4" cy="797.9" r="0.7"/><circle cx="330.5" cy="795.6" r="0.7"/></g>
<path stroke="#495226" stroke-width="4" stroke-linecap="round" d="M336.9 794.9h0M328.9 789h0M329.3 791.2h0M343.3 794.5h0M328.4 793h0M330.7 790.2h0M333.1 790.3h0M332.6 790.1h0M333.4 793h0M337.1 794.1h0M332.4 788.6h0M337.3 790.8h0M331.2 791.6h0M343.5 793.1h0M339.7 788.7h0M336.8 793.9h0M342.1 794.3h0M328.5 796.1h0M328 794.4h0M335.6 795.6h0M343.5 794.2h0M329.1 793.4h0M329.7 791.7h0M329.9 790.8h0M328.6 792.6h0M329.2 790.3h0M340.7 790.7h0M337.4 795.1h0M338.3 794.8h0M343.3 790.3h0M330.8 796.2h0M343 790.9h0M343.2 789.1h0M331.5 795.1h0M329.4 795.1h0M327.7 789.2h0M327.7 791.9h0M327.7 794.1h0M344.4 789.2h0M344.4 792h0M344.4 793.8h0M344.4 796h0M340.5 785.8h0M328 785.2h0M328.3 788.5h0M340.7 783.3h0M331.4 786h0M336.3 787.5h0M343.9 789h0M332.4 784.7h0M328.8 781.7h0M340.2 788.9h0M339.2 788.2h0M334.6 786.8h0M328.3 777.2h0M337.6 775.2h0M343.2 776.2h0M337.6 779.6h0M341.7 780.6h0M331.2 781.3h0"/>
<path d="M349.3,817.9 L347.8,816.4 L347.8,798.5 L356,798.5 L357,792.7 L362.4,792.7 L362.4,816.4 L360.9,817.9Z" fill="#d60b6f"/>
<g fill="#fff"><circle cx="357.4" cy="792.6" r="1.1"/><circle cx="356.2" cy="801.4" r="0.8"/><circle cx="354.6" cy="797" r="0.9"/></g>
<path stroke="#d60b6f" stroke-width="4" stroke-linecap="round" d="M353.6 800.4h0M357.3 788.6h0M358.8 794.2h0M353.3 798.9h0M356.5 794.3h0M359.4 792.1h0M356.7 796.1h0M354.6 793.5h0M349.9 798.3h0M354.8 799.5h0M360.1 788.9h0M351.9 797.2h0M350 793.5h0M350.6 795h0M354.5 794.2h0M357.1 792.8h0M358.6 791.2h0M357.8 793.1h0M357.5 789.4h0M355.9 799.1h0M352.4 795.5h0M349.9 797.4h0M351 796.2h0M351.8 793.6h0M349.8 798.1h0M349.8 800.3h0M360.4 787.7h0M360.4 790h0M360.4 791.8h0M351.7 791.7h0M355.4 788.6h0M351.7 790.6h0M350.5 789.3h0M356.2 792h0M355.9 793.5h0M360 786.1h0M357.5 779.1h0M349 786h0M355.1 785h0M360 782.8h0M361 785h0"/>
<path d="M365.8,817.9 L364.3,816.4 L364.3,792.7 L368,792.7 L370,805.8 L373,810 L376,805.8 L379,802 L380,788 L383.3,788 L383.3,816.4 L381.8,817.9Z" fill="#e66519"/>
<g fill="#fff"><circle cx="374.1" cy="806.6" r="1"/><circle cx="369.7" cy="804.4" r="1.1"/></g>
<path stroke="#e66519" stroke-width="4" stroke-linecap="round" d="M369.1 795.7h0M366.6 790h0M368.1 789.1h0M366.6 793.5h0M369.7 802.1h0M375 801.8h0M374.5 808.4h0M369.9 804.1h0M377.2 802.9h0M371.7 806.3h0M376.3 803h0M377.3 804.1h0M377.6 801.4h0M368.5 791.5h0M370.7 805.4h0M367.2 789.3h0M368.5 794.4h0M369.3 801.9h0M367.2 789.7h0M377.5 804.6h0M372.2 810.4h0M379.5 793.9h0M371.3 803.3h0M376.6 799.7h0M376 801.7h0M369.1 798.9h0M372.2 803.5h0M368.5 796.5h0M372.1 809.1h0M375.6 800.6h0M371.4 806.7h0M370 800.8h0M366.3 789.7h0M366.3 793.7h0M381.3 783h0M381.3 785.8h0M381.3 787.5h0M381.3 789.4h0M367 787h0M366.7 781.6h0M378.4 795.1h0M380.3 782.2h0M367.3 762.3h0M376 769.3h0M366.5 772.8h0M368 774.7h0M376 776.2h0M376 783.9h0M367.3 784.2h0M376.5 795.9h0"/>
<path d="M385.9,817.9 L384.4,816.4 L384.4,796.6 L390,796.6 L391,802.5 L397,802.5 L398,792.3 L403.1,792.3 L403.1,816.4 L401.6,817.9Z" fill="#d581b7"/>
<g fill="#fff"><circle cx="391.6" cy="807.3" r="1.1"/><circle cx="396.6" cy="808.7" r="1.1"/><circle cx="398.6" cy="808.7" r="0.7"/></g>
<path stroke="#d581b7" stroke-width="4" stroke-linecap="round" d="M392.4 800h0M394 802.6h0M388.9 792.2h0M393.6 796.8h0M392.8 797.7h0M389.3 793.7h0M399.6 791.3h0M390.5 798.8h0M393.9 796.7h0M392.9 802.2h0M398.3 794h0M386.6 794.8h0M392 800.2h0M398.4 789.9h0M394.4 802.6h0M399.2 791.1h0M394.2 797.5h0M391.9 798.2h0M397.8 794.2h0M388.4 795.3h0M399.3 793.1h0M391.9 799.6h0M394.2 800h0M400.7 793.1h0M399.5 794.3h0M388 798.2h0M391.7 798.7h0M395.2 799.8h0M389.5 798.4h0M389.1 791.5h0M392.2 803.1h0M386.4 793.8h0M386.4 795.5h0M386.4 798.1h0M401.1 789.3h0M401.1 792h0M401.1 794h0M396.8 794.2h0M397.7 789.5h0M391.3 795.2h0M398.5 786.3h0M398.4 785.2h0M398 782.5h0M389.8 781.5h0M399.7 775.8h0M395.3 778.2h0M389.9 786h0M392.8 789.6h0M394.3 778.1h0M390.2 785.7h0"/>
<path d="M405.1,817.9 L403.6,816.4 L403.6,796.6 L408,796.6 L409,799.6 L419.4,799.6 L419.4,816.4 L417.9,817.9Z" fill="#83d3ad"/>
<g fill="#fff"><circle cx="414.8" cy="807.6" r="0.5"/><circle cx="413.1" cy="799.8" r="0.7"/><circle cx="412.5" cy="800.7" r="0.7"/></g>
<path stroke="#83d3ad" stroke-width="4" stroke-linecap="round" d="M416.5 794.5h0M407.8 797.6h0M412.1 801.2h0M409.5 794.3h0M407.4 797.7h0M415.1 797.1h0M413.3 794.1h0M416.7 796h0M408 794.6h0M411.2 797.6h0M414.1 795.2h0M415 796.3h0M410.3 800.8h0M414.3 799.5h0M415 797.1h0M409.7 797.9h0M415.6 795.2h0M413.9 797.5h0M416.7 799.3h0M416.5 797h0M411 795.7h0M408 793.4h0M408.1 796h0M412.3 799.5h0M414.5 801.4h0M411.8 798.6h0M411.8 797.5h0M405.6 791.6h0M405.6 793.6h0M405.6 795.8h0M405.6 798.1h0M417.4 794.6h0M417.4 797.6h0M417.4 800h0M417.4 802.2h0M417.2 786.4h0M411.3 792.8h0M416.8 790.3h0M410.5 790.5h0M411.9 794.5h0M413.3 790.9h0M409.4 793.7h0M409.5 788.5h0M411.4 783.1h0M408.9 785.3h0M415.8 786.7h0M405.5 790.4h0M417.7 792.6h0"/>
<path d="M422.4,817.9 L420.9,816.4 L420.9,796.6 L437.7,796.6 L437.7,816.4 L436.2,817.9Z" fill="#7c162c"/>
<g fill="#fff"><circle cx="431.6" cy="801.7" r="0.6"/><circle cx="426.9" cy="809.6" r="1.1"/><circle cx="432.5" cy="803.1" r="0.8"/><circle cx="425.1" cy="812.7" r="1"/></g>
<path stroke="#7c162c" stroke-width="4" stroke-linecap="round" d="M431.6 798.2h0M427.6 794.7h0M431 796.8h0M427.5 792.9h0M431.3 793.2h0M429.3 795.7h0M430 798.4h0M427.4 792.5h0M428.1 797.8h0M433.9 791.3h0M425.1 792.6h0M432.9 796.2h0M425 797h0M434 797.2h0M427.4 797.2h0M426.2 798.1h0M424.7 793.9h0M426.8 797.2h0M432.7 794.9h0M429.8 793.1h0M430.4 791.2h0M432.1 798.3h0M428.7 794.4h0M430.4 793.8h0M434.8 792.5h0M429.1 796.2h0M432.5 793.2h0M424.5 796.2h0M422.9 791.6h0M422.9 794.3h0M435.7 791.6h0M435.7 793.5h0M435.7 795.2h0M435.7 797.7h0M427.8 781.7h0M433 791.6h0M435.1 783.6h0M425.6 784.6h0M432.1 791.1h0M434.6 783h0M430.1 790.3h0M433 790.2h0M434.8 781.8h0M425.9 790.4h0M426.2 790.6h0M426.5 787.8h0M426.3 781.9h0M426.8 775.9h0M421.5 661h0M426.4 767.4h0M428.2 770.7h0M426.7 777.7h0M428.9 777.2h0M433.3 777.2h0M427.4 782.6h0M426.4 785.5h0M430.4 786.7h0"/>
<path d="M439.9,817.9 L438.4,816.4 L438.4,803.2 L453,803.2 L453,816.4 L451.5,817.9Z" fill="#26755d"/>
<g fill="#fff"><circle cx="447.3" cy="802.6" r="0.7"/><circle cx="441.9" cy="803" r="1"/><circle cx="447" cy="805.9" r="1.1"/></g>
<path stroke="#26755d" stroke-width="4" stroke-linecap="round" d="M440.4 805.1h0M450.5 802h0M440.6 803h0M447 797.4h0M445.1 797.5h0M441.1 802.7h0M448.5 799.9h0M442.1 799.5h0M442.8 801.7h0M443.3 804.5h0M440.6 799.2h0M447 800.9h0M441.3 800.4h0M443.4 803.6h0M442.9 802.4h0M447.6 800.7h0M440.9 801.6h0M441.5 799.3h0M450.2 798.8h0M450.6 798.6h0M440.7 797.6h0M449.3 804.4h0M443.3 800.1h0M444 802.3h0M440.4 798.2h0M440.4 800.4h0M440.4 802.3h0M440.4 804.8h0M451 798.2h0M451 801h0M451 805.3h0M449.9 787.8h0M447.4 792h0M443.3 793.3h0M448.6 791.2h0M446.2 797.7h0M446 793.2h0M448.8 795.4h0M447 794h0M443.1 774.3h0M448.3 776.5h0M440.1 780.9h0M447.4 783.5h0M440.1 783.8h0M443.1 786.7h0M450.8 788.2h0M441.3 791.1h0"/>
<path d="M456,817.9 L454.5,816.4 L454.5,801 L473.1,801 L473.1,816.4 L471.6,817.9Z" fill="#4197d8"/>
<g fill="#fff"><circle cx="465.6" cy="805.8" r="1"/><circle cx="465.4" cy="800.5" r="0.9"/><circle cx="458" cy="801.4" r="0.5"/><circle cx="458.7" cy="806.9" r="1.1"/></g>
<path stroke="#4197d8" stroke-width="4" stroke-linecap="round" d="M457.4 799h0M461.5 797.9h0M460.3 801.7h0M463.2 799.5h0M458.2 799.5h0M465.7 796.2h0M461.4 797.3h0M464.6 795.8h0M470.9 798.2h0M470 795.5h0M467.5 802.2h0M462.9 798.1h0M465.6 797.6h0M460.1 802.3h0M465.9 799.1h0M463.2 801.4h0M467.3 797.4h0M461.1 798.4h0M457.3 798.5h0M458.2 800.4h0M461.4 797.7h0M459.7 797.2h0M459.9 802.1h0M463.1 799.5h0M461.2 802.6h0M465.2 796.5h0M466.4 795.2h0M471 801h0M459.6 798.5h0M469.8 801.2h0M468 799.7h0M456.5 796h0M456.5 798.5h0M456.5 800.2h0M471.1 796h0M471.1 800.5h0M471.1 803.1h0M469.4 794.3h0M458.2 789.3h0M459.8 792.4h0M464.8 791.8h0M464.7 793.7h0M458.9 787.4h0M459.8 793.5h0M459.1 795.8h0M467.4 794.3h0M463.9 791.7h0M463.4 790.3h0M470.5 777.7h0M470.8 783.5h0M458.1 783.5h0M460 786.4h0M465.4 789.9h0M455.6 791.1h0M469.8 791.8h0"/>
<line x1="36.3" y1="757.9" x2="472.7" y2="757.9" stroke="#ef5a5a" stroke-width="1" stroke-dasharray="1.4,1.4" opacity="0.75"/>
<line x1="35.9" y1="816.3" x2="35.9" y2="656.14" stroke="#8a8a8a" stroke-width="1.2"/>
<line x1="32.6" y1="816.3" x2="35.9" y2="816.3" stroke="#8a8a8a" stroke-width="1"/>
<text x="29.2" y="819.2" text-anchor="end" font-size="6.4" font-weight="bold" fill="#1c1c1c" stroke="#1c1c1c" stroke-width="0.25">0</text>
<line x1="32.6" y1="787.1" x2="35.9" y2="787.1" stroke="#8a8a8a" stroke-width="1"/>
<text x="29.2" y="790" text-anchor="end" font-size="6.4" font-weight="bold" fill="#1c1c1c" stroke="#1c1c1c" stroke-width="0.25">2</text>
<line x1="32.6" y1="757.9" x2="35.9" y2="757.9" stroke="#8a8a8a" stroke-width="1"/>
<text x="29.2" y="760.8" text-anchor="end" font-size="6.4" font-weight="bold" fill="#1c1c1c" stroke="#1c1c1c" stroke-width="0.25">4</text>
<line x1="32.6" y1="728.7" x2="35.9" y2="728.7" stroke="#8a8a8a" stroke-width="1"/>
<text x="29.2" y="731.6" text-anchor="end" font-size="6.4" font-weight="bold" fill="#1c1c1c" stroke="#1c1c1c" stroke-width="0.25">6</text>
<line x1="32.6" y1="699.5" x2="35.9" y2="699.5" stroke="#8a8a8a" stroke-width="1"/>
<text x="29.2" y="702.4" text-anchor="end" font-size="6.4" font-weight="bold" fill="#1c1c1c" stroke="#1c1c1c" stroke-width="0.25">8</text>
<line x1="32.6" y1="670.3" x2="35.9" y2="670.3" stroke="#8a8a8a" stroke-width="1"/>
<text x="29.2" y="673.2" text-anchor="end" font-size="6.4" font-weight="bold" fill="#1c1c1c" stroke="#1c1c1c" stroke-width="0.25">10</text>
<line x1="35.9" y1="822.7" x2="471.9" y2="822.7" stroke="#8a8a8a" stroke-width="1.2"/>
<line x1="35.9" y1="822.7" x2="35.9" y2="826.5" stroke="#8a8a8a" stroke-width="1"/>
<line x1="47" y1="822.7" x2="47" y2="826.5" stroke="#8a8a8a" stroke-width="1"/>
<line x1="68.3" y1="822.7" x2="68.3" y2="826.5" stroke="#8a8a8a" stroke-width="1"/>
<line x1="91.5" y1="822.7" x2="91.5" y2="826.5" stroke="#8a8a8a" stroke-width="1"/>
<line x1="114.3" y1="822.7" x2="114.3" y2="826.5" stroke="#8a8a8a" stroke-width="1"/>
<line x1="136.4" y1="822.7" x2="136.4" y2="826.5" stroke="#8a8a8a" stroke-width="1"/>
<line x1="157.1" y1="822.7" x2="157.1" y2="826.5" stroke="#8a8a8a" stroke-width="1"/>
<line x1="178.3" y1="822.7" x2="178.3" y2="826.5" stroke="#8a8a8a" stroke-width="1"/>
<line x1="199.9" y1="822.7" x2="199.9" y2="826.5" stroke="#8a8a8a" stroke-width="1"/>
<line x1="222.4" y1="822.7" x2="222.4" y2="826.5" stroke="#8a8a8a" stroke-width="1"/>
<line x1="247.3" y1="822.7" x2="247.3" y2="826.5" stroke="#8a8a8a" stroke-width="1"/>
<line x1="270" y1="822.7" x2="270" y2="826.5" stroke="#8a8a8a" stroke-width="1"/>
<line x1="291.6" y1="822.7" x2="291.6" y2="826.5" stroke="#8a8a8a" stroke-width="1"/>
<line x1="313.6" y1="822.7" x2="313.6" y2="826.5" stroke="#8a8a8a" stroke-width="1"/>
<line x1="336.4" y1="822.7" x2="336.4" y2="826.5" stroke="#8a8a8a" stroke-width="1"/>
<line x1="355.7" y1="822.7" x2="355.7" y2="826.5" stroke="#8a8a8a" stroke-width="1"/>
<line x1="373.6" y1="822.7" x2="373.6" y2="826.5" stroke="#8a8a8a" stroke-width="1"/>
<line x1="393.4" y1="822.7" x2="393.4" y2="826.5" stroke="#8a8a8a" stroke-width="1"/>
<line x1="411.1" y1="822.7" x2="411.1" y2="826.5" stroke="#8a8a8a" stroke-width="1"/>
<line x1="428.9" y1="822.7" x2="428.9" y2="826.5" stroke="#8a8a8a" stroke-width="1"/>
<line x1="446.1" y1="822.7" x2="446.1" y2="826.5" stroke="#8a8a8a" stroke-width="1"/>
<line x1="463.5" y1="822.7" x2="463.5" y2="826.5" stroke="#8a8a8a" stroke-width="1"/>
<text x="36.2" y="836.4" text-anchor="middle" font-size="6.4" font-weight="bold" fill="#1c1c1c" stroke="#1c1c1c" stroke-width="0.25">Chr</text>
<text x="68.3" y="836.4" text-anchor="middle" font-size="6.4" font-weight="bold" fill="#1c1c1c" stroke="#1c1c1c" stroke-width="0.25">2A</text>
<text x="91.5" y="836.4" text-anchor="middle" font-size="6.4" font-weight="bold" fill="#1c1c1c" stroke="#1c1c1c" stroke-width="0.25">3A</text>
<text x="114.3" y="836.4" text-anchor="middle" font-size="6.4" font-weight="bold" fill="#1c1c1c" stroke="#1c1c1c" stroke-width="0.25">4A</text>
<text x="136.4" y="836.4" text-anchor="middle" font-size="6.4" font-weight="bold" fill="#1c1c1c" stroke="#1c1c1c" stroke-width="0.25">5A</text>
<text x="157.1" y="836.4" text-anchor="middle" font-size="6.4" font-weight="bold" fill="#1c1c1c" stroke="#1c1c1c" stroke-width="0.25">6A</text>
<text x="178.3" y="836.4" text-anchor="middle" font-size="6.4" font-weight="bold" fill="#1c1c1c" stroke="#1c1c1c" stroke-width="0.25">7A</text>
<text x="199.9" y="836.4" text-anchor="middle" font-size="6.4" font-weight="bold" fill="#1c1c1c" stroke="#1c1c1c" stroke-width="0.25">1B</text>
<text x="222.4" y="836.4" text-anchor="middle" font-size="6.4" font-weight="bold" fill="#1c1c1c" stroke="#1c1c1c" stroke-width="0.25">2B</text>
<text x="247.3" y="836.4" text-anchor="middle" font-size="6.4" font-weight="bold" fill="#1c1c1c" stroke="#1c1c1c" stroke-width="0.25">3B</text>
<text x="270" y="836.4" text-anchor="middle" font-size="6.4" font-weight="bold" fill="#1c1c1c" stroke="#1c1c1c" stroke-width="0.25">4B</text>
<text x="291.6" y="836.4" text-anchor="middle" font-size="6.4" font-weight="bold" fill="#1c1c1c" stroke="#1c1c1c" stroke-width="0.25">5B</text>
<text x="313.6" y="836.4" text-anchor="middle" font-size="6.4" font-weight="bold" fill="#1c1c1c" stroke="#1c1c1c" stroke-width="0.25">6B</text>
<text x="336.4" y="836.4" text-anchor="middle" font-size="6.4" font-weight="bold" fill="#1c1c1c" stroke="#1c1c1c" stroke-width="0.25">7B</text>
<text x="355.7" y="836.4" text-anchor="middle" font-size="6.4" font-weight="bold" fill="#1c1c1c" stroke="#1c1c1c" stroke-width="0.25">1D</text>
<text x="373.6" y="836.4" text-anchor="middle" font-size="6.4" font-weight="bold" fill="#1c1c1c" stroke="#1c1c1c" stroke-width="0.25">2D</text>
<text x="393.4" y="836.4" text-anchor="middle" font-size="6.4" font-weight="bold" fill="#1c1c1c" stroke="#1c1c1c" stroke-width="0.25">3D</text>
<text x="411.1" y="836.4" text-anchor="middle" font-size="6.4" font-weight="bold" fill="#1c1c1c" stroke="#1c1c1c" stroke-width="0.25">4D</text>
<text x="428.9" y="836.4" text-anchor="middle" font-size="6.4" font-weight="bold" fill="#1c1c1c" stroke="#1c1c1c" stroke-width="0.25">5D</text>
<text x="446.1" y="836.4" text-anchor="middle" font-size="6.4" font-weight="bold" fill="#1c1c1c" stroke="#1c1c1c" stroke-width="0.25">6D</text>
<text x="463.5" y="836.4" text-anchor="middle" font-size="6.4" font-weight="bold" fill="#1c1c1c" stroke="#1c1c1c" stroke-width="0.25">7D</text>
<text transform="translate(10.3,756.42) rotate(-90)" text-anchor="start" font-size="9.04" fill="#1c1c1c" stroke="#1c1c1c" stroke-width="0.2"><tspan font-size="9.4">−</tspan><tspan font-size="9.4" dx="1.1">log</tspan><tspan font-size="7.05" dy="2.35">10</tspan><tspan font-size="9.4" dy="-2.35" dx="0.5">(</tspan><tspan font-size="9.4" font-style="italic">p</tspan><tspan font-size="9.4" dx="1.8">)</tspan></text>
<text x="54.6" y="669.5" font-size="16" fill="#111" stroke="#111" stroke-width="0.7">D</text>
<path d="M660.6,102.37 L652.51,110.44 L647.78,113.91 L644.42,116.05 L641.82,117.58 L639.69,118.75 L637.89,119.71 L636.33,120.51 L634.96,121.2 L633.73,121.8 L632.61,122.34 L631.6,122.82 L630.67,123.26 L629.8,123.66 L629,124.02 L628.24,124.37 L627.53,124.68 L626.87,124.98 L626.24,125.26 L625.64,125.53 L625.07,125.77 L624.53,126.01 L624.01,126.24 L623.51,126.45 L623.03,126.66 L622.58,126.85 L622.14,127.04 L621.71,127.22 L621.3,127.39 L620.91,127.56 L620.52,127.72 L620.15,127.88 L619.79,128.03 L619.45,128.17 L619.11,128.31 L618.78,128.45 L618.46,128.58 L618.15,128.71 L617.84,128.84 L617.55,128.96 L617.26,129.08 L616.98,129.19 L616.71,129.3 L616.44,129.41 L616.17,129.52 L615.67,129.73 L615.42,129.83 L615.18,129.93 L614.95,130.02 L614.49,130.21 L614.27,130.3 L614.05,130.38 L613.62,130.55 L613.42,130.64 L613.01,130.8 L612.82,130.88 L612.44,131.03 L612.25,131.11 L611.88,131.25 L611.71,131.32 L611.36,131.46 L611.02,131.59 L610.69,131.73 L610.53,131.79 L610.21,131.91 L609.91,132.04 L609.61,132.15 L609.32,132.27 L609.03,132.38 L608.62,132.54 L608.35,132.65 L608.09,132.75 L607.83,132.85 L607.46,133 L607.21,133.09 L606.86,133.23 L606.63,133.32 L606.29,133.45 L606.07,133.54 L605.74,133.66 L605.43,133.79 L605.12,133.9 L604.83,134.02 L604.54,134.13 L604.25,134.24 L603.98,134.35 L603.71,134.45 L603.35,134.59 L603.1,134.69 L602.76,134.81 L602.52,134.91 L602.2,135.03 L601.89,135.15 L601.59,135.26 L601.3,135.38 L601.01,135.49 L600.73,135.59 L600.39,135.72 L600.13,135.82 L599.8,135.95 L599.55,136.04 L599.24,136.16 L598.94,136.27 L598.65,136.38 L598.37,136.49 L598.09,136.6 L597.76,136.72 L597.45,136.84 L597.19,136.94 L596.89,137.05 L596.59,137.16 L596.3,137.27 L595.98,137.39 L595.71,137.5 L595.4,137.61 L595.09,137.73 L594.8,137.84 L594.51,137.95 L594.23,138.05 L593.92,138.17 L593.65,138.27 L593.36,138.38 L593.03,138.5 L592.75,138.61 L592.47,138.71 L592.17,138.82 L591.88,138.93 L591.56,139.05 L591.28,139.16 L590.97,139.27 L590.68,139.38 L590.39,139.49 L590.11,139.59 L589.81,139.71 L589.51,139.82 L589.2,139.93 L588.92,140.04 L588.62,140.15 L588.34,140.25 L588.03,140.37 L587.73,140.48 L587.44,140.59 L587.16,140.69 L586.86,140.8 L586.57,140.91 L586.26,141.02 L585.97,141.13 L585.68,141.24 L585.38,141.35 L585.09,141.46 L584.78,141.57 L584.49,141.68 L584.2,141.78 L583.9,141.89 L583.61,142 L583.31,142.11 L583.02,142.22 L582.72,142.33 L582.43,142.44 L582.13,142.55 L581.84,142.65 L581.55,142.76 L581.24,142.87 L580.95,142.98 L580.66,143.09 L580.37,143.19 L580.07,143.3 L579.77,143.41 L579.47,143.52 L579.19,143.63 L578.89,143.74 L578.59,143.85 L578.3,143.95 L578.01,144.06 L577.7,144.17 L577.41,144.28 L577.12,144.39 L576.83,144.49 L576.53,144.6 L576.24,144.71 L575.94,144.82 L575.64,144.93 L575.35,145.03 L575.05,145.14 L574.76,145.25 L574.47,145.35 L574.17,145.46 L573.87,145.57 L573.58,145.68 L573.28,145.79 L572.99,145.89 L572.69,146 L572.4,146.11 L572.1,146.22 L571.81,146.32 L571.51,146.43 L571.22,146.54 L570.92,146.65 L570.63,146.75 L570.33,146.86 L570.04,146.97 L569.74,147.08 L569.45,147.18 L569.15,147.29 L568.86,147.4 L568.56,147.51 L568.27,147.61 L567.97,147.72 L567.68,147.83 L567.38,147.93 L567.09,148.04 L566.8,148.15 L566.5,148.25 L566.2,148.36 L565.91,148.47 L565.61,148.58 L565.32,148.68 L565.02,148.79 L564.73,148.9 L564.43,149 L564.14,149.11 L563.84,149.22 L563.55,149.32 L563.25,149.43 L562.96,149.54 L562.66,149.65 L562.37,149.75 L562.07,149.86 L561.78,149.97 L561.48,150.07 L561.19,150.18 L560.89,150.29 L560.6,150.39 L560.31,150.5 L560.01,150.61 L559.71,150.71 L559.42,150.82 L559.12,150.93 L558.83,151.03 L558.53,151.14 L558.24,151.25 L557.94,151.35 L557.65,151.46 L557.35,151.57 L557.06,151.67 L556.76,151.78 L556.47,151.89 L556.17,151.99 L555.88,152.1 L555.58,152.21 L555.29,152.31 L554.99,152.42 L554.7,152.53 L554.4,152.63 L554.11,152.74 L553.82,152.84 L553.52,152.95 L553.22,153.06 L552.93,153.16 L552.63,153.27 L552.34,153.38 L552.04,153.48 L551.75,153.59 L551.45,153.7 L551.16,153.8 L550.87,153.91 L550.57,154.02 L550.28,154.12 L549.98,154.23 L549.68,154.34 L549.39,154.44 L549.09,154.55 L548.8,154.66 L548.5,154.76 L548.21,154.87 L547.91,154.98 L547.62,155.08 L547.33,155.19 L547.03,155.3 L546.74,155.4 L546.44,155.51 L546.15,155.62 L545.85,155.72 L545.56,155.83 L545.26,155.94 L544.97,156.04 L544.67,156.15 L544.38,156.26 L544.08,156.36 L543.79,156.47 L543.49,156.58 L543.2,156.69 L542.9,156.8 L542.9,156.8 L543.2,156.7 L543.49,156.6 L543.79,156.5 L544.08,156.39 L544.38,156.29 L544.67,156.19 L544.97,156.08 L545.26,155.98 L545.56,155.87 L545.85,155.77 L546.15,155.67 L546.44,155.56 L546.74,155.46 L547.03,155.35 L547.33,155.25 L547.62,155.14 L547.91,155.04 L548.21,154.94 L548.5,154.83 L548.8,154.73 L549.09,154.62 L549.39,154.52 L549.68,154.42 L549.98,154.31 L550.28,154.21 L550.57,154.1 L550.87,154 L551.16,153.89 L551.45,153.79 L551.75,153.69 L552.04,153.58 L552.34,153.48 L552.63,153.37 L552.93,153.27 L553.22,153.16 L553.52,153.06 L553.82,152.96 L554.11,152.85 L554.4,152.75 L554.7,152.64 L554.99,152.54 L555.29,152.43 L555.58,152.33 L555.88,152.23 L556.17,152.12 L556.47,152.02 L556.76,151.91 L557.06,151.81 L557.35,151.7 L557.65,151.6 L557.94,151.5 L558.24,151.39 L558.53,151.29 L558.83,151.18 L559.12,151.08 L559.42,150.98 L559.71,150.87 L560.01,150.77 L560.31,150.66 L560.6,150.56 L560.89,150.46 L561.19,150.35 L561.48,150.25 L561.78,150.14 L562.07,150.04 L562.37,149.93 L562.66,149.83 L562.96,149.73 L563.25,149.62 L563.55,149.52 L563.84,149.42 L564.14,149.31 L564.43,149.21 L564.73,149.1 L565.02,149 L565.32,148.9 L565.61,148.79 L565.91,148.69 L566.2,148.58 L566.5,148.48 L566.8,148.38 L567.09,148.27 L567.38,148.17 L567.68,148.07 L567.97,147.96 L568.27,147.86 L568.56,147.76 L568.86,147.65 L569.15,147.55 L569.45,147.44 L569.74,147.34 L570.04,147.24 L570.33,147.13 L570.63,147.03 L570.92,146.93 L571.22,146.82 L571.51,146.72 L571.81,146.62 L572.1,146.51 L572.4,146.41 L572.69,146.31 L572.99,146.2 L573.28,146.1 L573.58,146 L573.87,145.89 L574.17,145.79 L574.47,145.69 L574.76,145.58 L575.05,145.48 L575.35,145.38 L575.64,145.27 L575.94,145.17 L576.24,145.07 L576.53,144.96 L576.83,144.86 L577.12,144.76 L577.41,144.66 L577.7,144.55 L578.01,144.45 L578.3,144.35 L578.59,144.24 L578.89,144.14 L579.19,144.04 L579.47,143.94 L579.77,143.84 L580.07,143.73 L580.37,143.63 L580.66,143.52 L580.95,143.42 L581.24,143.32 L581.55,143.22 L581.84,143.11 L582.13,143.01 L582.43,142.91 L582.72,142.81 L583.02,142.7 L583.31,142.6 L583.61,142.5 L583.9,142.4 L584.2,142.3 L584.49,142.2 L584.78,142.09 L585.09,141.99 L585.38,141.89 L585.68,141.78 L585.97,141.68 L586.26,141.58 L586.57,141.48 L586.86,141.38 L587.16,141.27 L587.44,141.18 L587.73,141.08 L588.03,140.97 L588.34,140.87 L588.62,140.77 L588.92,140.67 L589.2,140.57 L589.51,140.46 L589.81,140.36 L590.11,140.26 L590.39,140.16 L590.68,140.06 L590.97,139.96 L591.28,139.86 L591.56,139.76 L591.88,139.65 L592.17,139.55 L592.47,139.45 L592.75,139.35 L593.03,139.26 L593.36,139.15 L593.65,139.04 L593.92,138.95 L594.23,138.85 L594.51,138.75 L594.8,138.65 L595.09,138.55 L595.4,138.45 L595.71,138.34 L595.98,138.25 L596.3,138.14 L596.59,138.04 L596.89,137.94 L597.19,137.84 L597.45,137.75 L597.76,137.65 L598.09,137.54 L598.37,137.44 L598.65,137.35 L598.94,137.25 L599.24,137.15 L599.55,137.04 L599.8,136.96 L600.13,136.85 L600.39,136.76 L600.73,136.64 L601.01,136.55 L601.3,136.45 L601.59,136.36 L601.89,136.25 L602.2,136.15 L602.52,136.05 L602.76,135.96 L603.1,135.85 L603.35,135.77 L603.71,135.65 L603.98,135.56 L604.25,135.47 L604.54,135.37 L604.83,135.28 L605.12,135.18 L605.43,135.08 L605.74,134.97 L606.07,134.86 L606.29,134.79 L606.63,134.68 L606.86,134.6 L607.21,134.49 L607.46,134.41 L607.83,134.28 L608.09,134.2 L608.35,134.11 L608.62,134.02 L609.03,133.89 L609.32,133.79 L609.61,133.7 L609.91,133.6 L610.21,133.5 L610.53,133.4 L610.69,133.34 L611.02,133.24 L611.36,133.13 L611.71,133.01 L611.88,132.96 L612.25,132.84 L612.44,132.78 L612.82,132.65 L613.01,132.59 L613.42,132.46 L613.62,132.39 L614.05,132.26 L614.27,132.19 L614.49,132.11 L614.95,131.97 L615.18,131.89 L615.42,131.81 L615.67,131.74 L616.17,131.57 L616.44,131.49 L616.71,131.4 L616.98,131.32 L617.26,131.23 L617.55,131.14 L617.84,131.04 L618.15,130.95 L618.46,130.85 L618.78,130.75 L619.11,130.64 L619.45,130.54 L619.79,130.43 L620.15,130.32 L620.52,130.2 L620.91,130.08 L621.3,129.96 L621.71,129.83 L622.14,129.7 L622.58,129.56 L623.03,129.42 L623.51,129.27 L624.01,129.12 L624.53,128.96 L625.07,128.8 L625.64,128.62 L626.24,128.44 L626.87,128.25 L627.53,128.05 L628.24,127.84 L629,127.61 L629.8,127.38 L630.67,127.12 L631.6,126.85 L632.61,126.55 L633.73,126.23 L634.96,125.88 L636.33,125.49 L637.89,125.05 L639.69,124.56 L641.82,123.98 L644.42,123.29 L647.78,122.42 L652.51,121.24 L660.6,119.32Z" fill="#4197d8" fill-opacity="0.4"/>
<line x1="537.53" y1="158.72" x2="685.04" y2="106.02" stroke="#e8413f" stroke-width="1.4" stroke-dasharray="4.2,2.2" opacity="0.9"/>
<polyline points="542.9,156.8 543.42,156.61 543.95,156.43 544.47,156.24 544.99,156.05 545.51,155.87 546.04,155.68 546.56,155.49 547.08,155.31 547.61,155.12 548.13,154.93 548.65,154.74 549.18,154.56 549.7,154.37 550.22,154.18 550.74,154 551.27,153.81 551.79,153.62 552.31,153.44 552.84,153.25 553.36,153.06 553.88,152.88 554.41,152.69 554.93,152.5 555.45,152.32 555.97,152.13 556.5,151.94 557.02,151.76 557.54,151.57 558.07,151.38 558.59,151.19 559.11,151.01 559.64,150.82 560.16,150.63 560.68,150.45 561.2,150.26 561.73,150.07 562.25,149.89 562.77,149.7 563.3,149.51 563.82,149.33 564.34,149.14 564.86,148.95 565.39,148.77 565.91,148.58 566.43,148.39 566.96,148.21 567.48,148.02 568,147.83 568.53,147.64 569.05,147.46 569.57,147.27 570.09,147.05 570.62,146.8 571.14,146.56 571.66,146.32 572.19,146.07 572.71,145.83 573.23,145.58 573.76,145.34 574.28,145.1 574.8,144.85 575.32,144.61 575.85,144.36 576.37,144.12 576.89,143.87 577.42,143.63 577.94,143.39 578.46,143.14 578.99,142.9 579.51,142.65 580.03,142.41 580.55,142.17 581.08,141.92 581.6,141.68 582.12,141.43 582.65,141.19 583.17,140.94 583.69,140.7 584.21,140.46 584.74,140.21 585.26,139.97 585.78,139.72 586.31,139.48 586.83,139.24 587.35,138.99 587.88,138.75 588.4,138.5 588.92,138.26 589.44,138.02 589.97,137.78 590.49,137.65 591.01,137.53 591.54,137.4 592.06,137.27 592.58,137.15 593.11,137.02 593.63,136.89 594.15,136.76 594.67,136.64 595.2,136.51 595.72,136.38 596.24,136.26 596.77,136.11 597.29,135.9 597.81,135.69 598.34,135.48 598.86,135.27 599.38,135.06 599.9,134.85 600.43,134.64 600.95,134.43 601.47,134.22 602,134.01 602.52,133.8 603.04,133.59 603.56,133.38 604.09,133.17 604.61,132.96 605.13,132.75 605.66,132.54 606.18,132.33 606.7,132.12 607.23,131.91 607.75,131.7 608.27,131.49 608.79,131.28 609.32,131.07 609.84,130.86 610.36,130.65 610.89,130.44 611.41,130.24 611.93,130.03 612.46,129.94 612.98,129.87 613.5,129.8 614.02,129.72 614.55,129.65 615.07,129.57 615.59,129.5 616.12,129.42 616.64,129.35 617.16,129.27 617.69,129.2 618.21,129.12 618.73,129.05 619.25,128.97 619.78,128.9 620.3,128.82 620.82,128.75" fill="none" stroke="#4197d8" stroke-width="3.5" stroke-linecap="round" stroke-linejoin="round"/>
<g fill="#4197d8"><circle cx="660.6" cy="28.16" r="1.8"/><circle cx="652.51" cy="118.31" r="1.8"/><circle cx="647.78" cy="119.74" r="1.8"/><circle cx="644.42" cy="120.68" r="1.8"/><circle cx="641.82" cy="121.3" r="1.8"/><circle cx="639.69" cy="121.62" r="1.8"/><circle cx="637.89" cy="121.9" r="1.8"/><circle cx="636.33" cy="122.13" r="1.8"/><circle cx="634.96" cy="122.34" r="1.8"/><circle cx="633.73" cy="122.53" r="1.8"/><circle cx="632.61" cy="123.34" r="1.8"/><circle cx="631.6" cy="124.09" r="1.8"/><circle cx="630.67" cy="124.77" r="1.8"/><circle cx="629.8" cy="125.41" r="1.8"/><circle cx="629" cy="126" r="1.8"/><circle cx="628.24" cy="126.33" r="1.8"/><circle cx="627.53" cy="126.6" r="1.8"/><circle cx="626.87" cy="126.86" r="1.8"/><circle cx="626.24" cy="127.11" r="1.8"/><circle cx="625.64" cy="127.34" r="1.8"/><circle cx="625.07" cy="127.56" r="1.8"/><circle cx="624.53" cy="127.77" r="1.8"/><circle cx="624.01" cy="127.97" r="1.8"/><circle cx="623.51" cy="128.17" r="1.8"/><circle cx="623.03" cy="128.35" r="1.8"/><circle cx="622.58" cy="128.5" r="1.8"/><circle cx="622.14" cy="128.56" r="1.8"/><circle cx="621.71" cy="128.62" r="1.8"/><circle cx="621.3" cy="128.68" r="1.8"/><circle cx="620.91" cy="128.74" r="1.8"/><circle cx="620.52" cy="128.79" r="1.8"/><circle cx="620.15" cy="128.84" r="1.8"/><circle cx="619.79" cy="128.9" r="1.8"/><circle cx="619.45" cy="128.95" r="1.8"/><circle cx="619.11" cy="128.99" r="1.8"/><circle cx="618.78" cy="129.04" r="1.8"/><circle cx="618.46" cy="129.09" r="1.8"/><circle cx="618.15" cy="129.13" r="1.8"/><circle cx="617.84" cy="129.17" r="1.8"/><circle cx="617.55" cy="129.22" r="1.8"/><circle cx="617.26" cy="129.26" r="1.8"/><circle cx="616.98" cy="129.3" r="1.8"/><circle cx="616.71" cy="129.34" r="1.8"/><circle cx="616.44" cy="129.38" r="1.8"/><circle cx="616.17" cy="129.41" r="1.8"/><circle cx="615.92" cy="129.45" r="1.8"/><circle cx="615.67" cy="129.49" r="1.8"/><circle cx="615.42" cy="129.52" r="1.8"/><circle cx="615.18" cy="129.56" r="1.8"/><circle cx="614.95" cy="129.59" r="1.8"/><circle cx="614.71" cy="129.62" r="1.8"/><circle cx="614.49" cy="129.65" r="1.8"/><circle cx="614.27" cy="129.69" r="1.8"/><circle cx="614.05" cy="129.72" r="1.8"/><circle cx="613.83" cy="129.75" r="1.8"/><circle cx="613.62" cy="129.78" r="1.8"/><circle cx="613.42" cy="129.81" r="1.8"/><circle cx="613.21" cy="129.84" r="1.8"/><circle cx="613.01" cy="129.86" r="1.8"/></g>
<line x1="537.5" y1="156.8" x2="537.5" y2="22.4" stroke="#555" stroke-width="1"/>
<line x1="533.6" y1="156.8" x2="537.5" y2="156.8" stroke="#555" stroke-width="1"/>
<text x="530.2" y="159.1" text-anchor="end" font-size="6.6" fill="#1c1c1c" stroke="#1c1c1c" stroke-width="0.15">0</text>
<line x1="533.6" y1="137.6" x2="537.5" y2="137.6" stroke="#555" stroke-width="1"/>
<text x="530.2" y="139.9" text-anchor="end" font-size="6.6" fill="#1c1c1c" stroke="#1c1c1c" stroke-width="0.15">2</text>
<line x1="533.6" y1="118.4" x2="537.5" y2="118.4" stroke="#555" stroke-width="1"/>
<text x="530.2" y="120.7" text-anchor="end" font-size="6.6" fill="#1c1c1c" stroke="#1c1c1c" stroke-width="0.15">4</text>
<line x1="533.6" y1="99.2" x2="537.5" y2="99.2" stroke="#555" stroke-width="1"/>
<text x="530.2" y="101.5" text-anchor="end" font-size="6.6" fill="#1c1c1c" stroke="#1c1c1c" stroke-width="0.15">6</text>
<line x1="533.6" y1="80" x2="537.5" y2="80" stroke="#555" stroke-width="1"/>
<text x="530.2" y="82.3" text-anchor="end" font-size="6.6" fill="#1c1c1c" stroke="#1c1c1c" stroke-width="0.15">8</text>
<line x1="533.6" y1="60.8" x2="537.5" y2="60.8" stroke="#555" stroke-width="1"/>
<text x="530.2" y="63.1" text-anchor="end" font-size="6.6" fill="#1c1c1c" stroke="#1c1c1c" stroke-width="0.15">10</text>
<line x1="533.6" y1="41.6" x2="537.5" y2="41.6" stroke="#555" stroke-width="1"/>
<text x="530.2" y="43.9" text-anchor="end" font-size="6.6" fill="#1c1c1c" stroke="#1c1c1c" stroke-width="0.15">12</text>
<line x1="533.6" y1="22.4" x2="537.5" y2="22.4" stroke="#555" stroke-width="1"/>
<text x="530.2" y="24.7" text-anchor="end" font-size="6.6" fill="#1c1c1c" stroke="#1c1c1c" stroke-width="0.15">14</text>
<line x1="542.9" y1="162.3" x2="677.25" y2="162.3" stroke="#555" stroke-width="1"/>
<line x1="542.9" y1="162.3" x2="542.9" y2="165.3" stroke="#555" stroke-width="1"/>
<text x="542.9" y="176.6" text-anchor="middle" font-size="6.6" fill="#1c1c1c" stroke="#1c1c1c" stroke-width="0.15">0</text>
<line x1="569.77" y1="162.3" x2="569.77" y2="165.3" stroke="#555" stroke-width="1"/>
<text x="569.77" y="176.6" text-anchor="middle" font-size="6.6" fill="#1c1c1c" stroke="#1c1c1c" stroke-width="0.15">1</text>
<line x1="596.64" y1="162.3" x2="596.64" y2="165.3" stroke="#555" stroke-width="1"/>
<text x="596.64" y="176.6" text-anchor="middle" font-size="6.6" fill="#1c1c1c" stroke="#1c1c1c" stroke-width="0.15">2</text>
<line x1="623.51" y1="162.3" x2="623.51" y2="165.3" stroke="#555" stroke-width="1"/>
<text x="623.51" y="176.6" text-anchor="middle" font-size="6.6" fill="#1c1c1c" stroke="#1c1c1c" stroke-width="0.15">3</text>
<line x1="650.38" y1="162.3" x2="650.38" y2="165.3" stroke="#555" stroke-width="1"/>
<text x="650.38" y="176.6" text-anchor="middle" font-size="6.6" fill="#1c1c1c" stroke="#1c1c1c" stroke-width="0.15">4</text>
<line x1="677.25" y1="162.3" x2="677.25" y2="165.3" stroke="#555" stroke-width="1"/>
<text x="677.25" y="176.6" text-anchor="middle" font-size="6.6" fill="#1c1c1c" stroke="#1c1c1c" stroke-width="0.15">5</text>
<text x="610" y="10.2" text-anchor="middle" font-size="10.5" font-weight="bold" fill="#111">p</text>
<text transform="translate(509.6,135) rotate(-90)" text-anchor="start" font-size="9.7" fill="#1c1c1c" stroke="#1c1c1c" stroke-width="0.2">Observed&#160;&#160;<tspan font-size="10.09">−</tspan><tspan font-size="10.09" dx="1.1">log</tspan><tspan font-size="7.57" dy="2.52">10</tspan><tspan font-size="10.09" dy="-2.52" dx="0.5">(</tspan><tspan font-size="10.09" font-style="italic">p</tspan><tspan font-size="10.09" dx="1.8">)</tspan></text>
<text x="565.9" y="197.5" font-size="9.7" fill="#1c1c1c" stroke="#1c1c1c" stroke-width="0.2">Expected&#160;&#160;<tspan font-size="10.1">−</tspan><tspan font-size="10.1" dx="1.1">log</tspan><tspan font-size="7.57" dy="2.52">10</tspan><tspan font-size="10.1" dy="-2.52" dx="0.5">(</tspan><tspan font-size="10.1" font-style="italic">p</tspan><tspan font-size="10.1" dx="1.8">)</tspan></text>
<path d="M660.6,240.21 L652.51,259.08 L647.78,267.2 L644.42,272.21 L641.82,275.78 L639.69,278.53 L637.89,280.76 L636.33,282.63 L634.96,284.24 L633.73,285.65 L632.61,286.91 L631.6,288.03 L630.67,289.05 L629.8,289.99 L629,290.85 L628.24,291.65 L627.53,292.39 L626.87,293.09 L626.24,293.75 L625.64,294.36 L625.07,294.95 L624.53,295.5 L624.01,296.03 L623.51,296.53 L623.03,297.01 L622.58,297.46 L622.14,297.9 L621.71,298.33 L621.3,298.73 L620.91,299.12 L620.52,299.5 L620.15,299.86 L619.79,300.21 L619.45,300.55 L619.11,300.88 L618.78,301.2 L618.46,301.51 L618.15,301.81 L617.84,302.11 L617.55,302.39 L617.26,302.67 L616.98,302.94 L616.71,303.2 L616.44,303.46 L616.17,303.71 L615.67,304.19 L615.42,304.43 L615.18,304.65 L614.95,304.88 L614.49,305.31 L614.27,305.52 L614.05,305.73 L613.62,306.12 L613.42,306.32 L613.01,306.7 L612.82,306.88 L612.44,307.24 L612.25,307.41 L611.88,307.75 L611.71,307.92 L611.36,308.24 L611.02,308.56 L610.69,308.86 L610.53,309.01 L610.21,309.3 L609.91,309.59 L609.61,309.86 L609.32,310.13 L609.03,310.39 L608.62,310.77 L608.35,311.02 L608.09,311.26 L607.83,311.49 L607.46,311.84 L607.21,312.06 L606.86,312.38 L606.63,312.59 L606.29,312.9 L606.07,313.1 L605.74,313.4 L605.43,313.68 L605.12,313.96 L604.83,314.23 L604.54,314.49 L604.25,314.75 L603.98,314.99 L603.71,315.24 L603.35,315.55 L603.1,315.79 L602.76,316.09 L602.52,316.3 L602.2,316.59 L601.89,316.87 L601.59,317.14 L601.3,317.4 L601.01,317.65 L600.73,317.9 L600.39,318.21 L600.13,318.44 L599.8,318.73 L599.55,318.96 L599.24,319.23 L598.94,319.5 L598.65,319.76 L598.37,320.01 L598.09,320.26 L597.76,320.54 L597.45,320.83 L597.19,321.05 L596.89,321.32 L596.59,321.58 L596.3,321.83 L595.98,322.12 L595.71,322.36 L595.4,322.63 L595.09,322.9 L594.8,323.16 L594.51,323.41 L594.23,323.66 L593.92,323.93 L593.65,324.16 L593.36,324.43 L593.03,324.71 L592.75,324.96 L592.47,325.2 L592.17,325.46 L591.88,325.72 L591.56,326 L591.28,326.24 L590.97,326.51 L590.68,326.77 L590.39,327.02 L590.11,327.26 L589.81,327.52 L589.51,327.78 L589.2,328.05 L588.92,328.29 L588.62,328.55 L588.34,328.81 L588.03,329.07 L587.73,329.33 L587.44,329.58 L587.16,329.83 L586.86,330.09 L586.57,330.34 L586.26,330.6 L585.97,330.86 L585.68,331.11 L585.38,331.37 L585.09,331.62 L584.78,331.88 L584.49,332.14 L584.2,332.38 L583.9,332.64 L583.61,332.89 L583.31,333.15 L583.02,333.4 L582.72,333.66 L582.43,333.91 L582.13,334.17 L581.84,334.42 L581.55,334.67 L581.24,334.93 L580.95,335.18 L580.66,335.43 L580.37,335.68 L580.07,335.94 L579.77,336.2 L579.47,336.45 L579.19,336.7 L578.89,336.95 L578.59,337.21 L578.3,337.46 L578.01,337.71 L577.7,337.97 L577.41,338.22 L577.12,338.47 L576.83,338.72 L576.53,338.97 L576.24,339.22 L575.94,339.48 L575.64,339.73 L575.35,339.98 L575.05,340.23 L574.76,340.48 L574.47,340.74 L574.17,340.99 L573.87,341.24 L573.58,341.49 L573.28,341.74 L572.99,342 L572.69,342.25 L572.4,342.5 L572.1,342.75 L571.81,343 L571.51,343.25 L571.22,343.5 L570.92,343.75 L570.63,344.01 L570.33,344.26 L570.04,344.51 L569.74,344.76 L569.45,345.01 L569.15,345.26 L568.86,345.51 L568.56,345.76 L568.27,346.01 L567.97,346.27 L567.68,346.51 L567.38,346.77 L567.09,347.01 L566.8,347.26 L566.5,347.52 L566.2,347.77 L565.91,348.02 L565.61,348.27 L565.32,348.52 L565.02,348.77 L564.73,349.02 L564.43,349.27 L564.14,349.52 L563.84,349.77 L563.55,350.02 L563.25,350.27 L562.96,350.52 L562.66,350.77 L562.37,351.02 L562.07,351.27 L561.78,351.52 L561.48,351.77 L561.19,352.02 L560.89,352.27 L560.6,352.52 L560.31,352.76 L560.01,353.02 L559.71,353.27 L559.42,353.51 L559.12,353.76 L558.83,354.01 L558.53,354.26 L558.24,354.51 L557.94,354.76 L557.65,355.01 L557.35,355.26 L557.06,355.51 L556.76,355.76 L556.47,356.01 L556.17,356.26 L555.88,356.51 L555.58,356.76 L555.29,357.01 L554.99,357.25 L554.7,357.5 L554.4,357.75 L554.11,358 L553.82,358.25 L553.52,358.5 L553.22,358.75 L552.93,359 L552.63,359.25 L552.34,359.5 L552.04,359.75 L551.75,360 L551.45,360.24 L551.16,360.49 L550.87,360.74 L550.57,360.99 L550.28,361.24 L549.98,361.49 L549.68,361.74 L549.39,361.99 L549.09,362.24 L548.8,362.49 L548.5,362.74 L548.21,362.98 L547.91,363.23 L547.62,363.48 L547.33,363.73 L547.03,363.98 L546.74,364.23 L546.44,364.48 L546.15,364.73 L545.85,364.98 L545.56,365.23 L545.26,365.48 L544.97,365.73 L544.67,365.98 L544.38,366.23 L544.08,366.48 L543.79,366.73 L543.49,366.98 L543.2,367.24 L542.9,367.5 L542.9,367.5 L543.2,367.27 L543.49,367.03 L543.79,366.79 L544.08,366.55 L544.38,366.31 L544.67,366.06 L544.97,365.82 L545.26,365.58 L545.56,365.33 L545.85,365.09 L546.15,364.85 L546.44,364.6 L546.74,364.36 L547.03,364.12 L547.33,363.87 L547.62,363.63 L547.91,363.39 L548.21,363.14 L548.5,362.9 L548.8,362.65 L549.09,362.41 L549.39,362.17 L549.68,361.92 L549.98,361.68 L550.28,361.43 L550.57,361.19 L550.87,360.95 L551.16,360.7 L551.45,360.46 L551.75,360.22 L552.04,359.97 L552.34,359.73 L552.63,359.48 L552.93,359.24 L553.22,359 L553.52,358.75 L553.82,358.51 L554.11,358.26 L554.4,358.02 L554.7,357.78 L554.99,357.53 L555.29,357.29 L555.58,357.05 L555.88,356.8 L556.17,356.56 L556.47,356.32 L556.76,356.07 L557.06,355.83 L557.35,355.58 L557.65,355.34 L557.94,355.1 L558.24,354.85 L558.53,354.61 L558.83,354.37 L559.12,354.12 L559.42,353.88 L559.71,353.64 L560.01,353.39 L560.31,353.15 L560.6,352.91 L560.89,352.66 L561.19,352.42 L561.48,352.18 L561.78,351.93 L562.07,351.69 L562.37,351.45 L562.66,351.2 L562.96,350.96 L563.25,350.72 L563.55,350.47 L563.84,350.23 L564.14,349.99 L564.43,349.75 L564.73,349.5 L565.02,349.26 L565.32,349.02 L565.61,348.77 L565.91,348.53 L566.2,348.29 L566.5,348.05 L566.8,347.8 L567.09,347.56 L567.38,347.32 L567.68,347.07 L567.97,346.83 L568.27,346.59 L568.56,346.35 L568.86,346.11 L569.15,345.86 L569.45,345.62 L569.74,345.38 L570.04,345.14 L570.33,344.9 L570.63,344.65 L570.92,344.41 L571.22,344.17 L571.51,343.93 L571.81,343.68 L572.1,343.44 L572.4,343.2 L572.69,342.96 L572.99,342.72 L573.28,342.48 L573.58,342.24 L573.87,342 L574.17,341.75 L574.47,341.51 L574.76,341.27 L575.05,341.03 L575.35,340.79 L575.64,340.55 L575.94,340.31 L576.24,340.06 L576.53,339.82 L576.83,339.58 L577.12,339.34 L577.41,339.1 L577.7,338.86 L578.01,338.62 L578.3,338.38 L578.59,338.14 L578.89,337.9 L579.19,337.65 L579.47,337.42 L579.77,337.18 L580.07,336.94 L580.37,336.69 L580.66,336.46 L580.95,336.22 L581.24,335.98 L581.55,335.74 L581.84,335.49 L582.13,335.26 L582.43,335.02 L582.72,334.78 L583.02,334.54 L583.31,334.3 L583.61,334.06 L583.9,333.82 L584.2,333.58 L584.49,333.35 L584.78,333.11 L585.09,332.86 L585.38,332.63 L585.68,332.38 L585.97,332.15 L586.26,331.91 L586.57,331.67 L586.86,331.43 L587.16,331.19 L587.44,330.96 L587.73,330.73 L588.03,330.49 L588.34,330.24 L588.62,330.01 L588.92,329.77 L589.2,329.54 L589.51,329.29 L589.81,329.06 L590.11,328.81 L590.39,328.59 L590.68,328.36 L590.97,328.12 L591.28,327.88 L591.56,327.65 L591.88,327.4 L592.17,327.16 L592.47,326.92 L592.75,326.7 L593.03,326.47 L593.36,326.21 L593.65,325.98 L593.92,325.76 L594.23,325.51 L594.51,325.29 L594.8,325.06 L595.09,324.83 L595.4,324.59 L595.71,324.34 L595.98,324.12 L596.3,323.87 L596.59,323.64 L596.89,323.4 L597.19,323.16 L597.45,322.96 L597.76,322.71 L598.09,322.45 L598.37,322.23 L598.65,322.01 L598.94,321.77 L599.24,321.54 L599.55,321.3 L599.8,321.1 L600.13,320.84 L600.39,320.63 L600.73,320.37 L601.01,320.15 L601.3,319.92 L601.59,319.69 L601.89,319.45 L602.2,319.21 L602.52,318.96 L602.76,318.77 L603.1,318.51 L603.35,318.31 L603.71,318.04 L603.98,317.83 L604.25,317.61 L604.54,317.39 L604.83,317.16 L605.12,316.93 L605.43,316.7 L605.74,316.45 L606.07,316.2 L606.29,316.03 L606.63,315.77 L606.86,315.59 L607.21,315.32 L607.46,315.13 L607.83,314.84 L608.09,314.64 L608.35,314.44 L608.62,314.23 L609.03,313.92 L609.32,313.7 L609.61,313.47 L609.91,313.25 L610.21,313.01 L610.53,312.77 L610.69,312.65 L611.02,312.4 L611.36,312.14 L611.71,311.87 L611.88,311.74 L612.25,311.46 L612.44,311.32 L612.82,311.03 L613.01,310.88 L613.42,310.58 L613.62,310.42 L614.05,310.1 L614.27,309.94 L614.49,309.77 L614.95,309.43 L615.18,309.25 L615.42,309.07 L615.67,308.89 L616.17,308.51 L616.44,308.31 L616.71,308.11 L616.98,307.91 L617.26,307.7 L617.55,307.49 L617.84,307.27 L618.15,307.04 L618.46,306.81 L618.78,306.58 L619.11,306.33 L619.45,306.09 L619.79,305.83 L620.15,305.57 L620.52,305.3 L620.91,305.02 L621.3,304.73 L621.71,304.43 L622.14,304.12 L622.58,303.8 L623.03,303.47 L623.51,303.13 L624.01,302.77 L624.53,302.4 L625.07,302.01 L625.64,301.61 L626.24,301.18 L626.87,300.74 L627.53,300.27 L628.24,299.77 L629,299.25 L629.8,298.69 L630.67,298.1 L631.6,297.46 L632.61,296.76 L633.73,296.01 L634.96,295.19 L636.33,294.28 L637.89,293.26 L639.69,292.1 L641.82,290.75 L644.42,289.13 L647.78,287.1 L652.51,284.34 L660.6,279.86Z" fill="#4197d8" fill-opacity="0.4"/>
<line x1="537.53" y1="371.99" x2="685.04" y2="248.74" stroke="#e8413f" stroke-width="1.4" stroke-dasharray="4.2,2.2" opacity="0.9"/>
<polyline points="542.9,367.5 543.42,367.02 543.95,366.54 544.47,366.06 544.99,365.58 545.51,365.1 546.04,364.62 546.56,364.14 547.08,363.65 547.61,363.17 548.13,362.69 548.65,362.21 549.18,361.73 549.7,361.25 550.22,360.77 550.74,360.29 551.27,359.81 551.79,359.33 552.31,358.85 552.84,358.37 553.36,357.89 553.88,357.41 554.41,356.93 554.93,356.45 555.45,355.96 555.97,355.48 556.5,354.98 557.02,354.42 557.54,353.87 558.07,353.31 558.59,352.75 559.11,352.2 559.64,351.64 560.16,351.08 560.68,350.52 561.2,349.97 561.73,349.41 562.25,348.85 562.77,348.3 563.3,347.74 563.82,347.18 564.34,346.63 564.86,346.07 565.39,345.51 565.91,344.96 566.43,344.4 566.96,343.84 567.48,343.28 568,342.73 568.53,342.17 569.05,341.61 569.57,341.06 570.09,340.49 570.62,339.87 571.14,339.24 571.66,338.62 572.19,338 572.71,337.37 573.23,336.75 573.76,336.12 574.28,335.5 574.8,334.88 575.32,334.25 575.85,333.63 576.37,333 576.89,332.38 577.42,331.75 577.94,331.13 578.46,330.51 578.99,329.88 579.51,329.26 580.03,328.63 580.55,328.01 581.08,327.38 581.6,326.76 582.12,326.14 582.65,325.51 583.17,324.89 583.69,324.23 584.21,323.57 584.74,322.91 585.26,322.25 585.78,321.59 586.31,320.93 586.83,320.27 587.35,319.61 587.88,318.95 588.4,318.29 588.92,317.63 589.44,316.97 589.97,316.31 590.49,315.65 591.01,314.99 591.54,314.33 592.06,313.67 592.58,313.01 593.11,312.35 593.63,311.69 594.15,311.03 594.67,310.37 595.2,309.71 595.72,309.05 596.24,308.39 596.77,307.83 597.29,307.31 597.81,306.78 598.34,306.25 598.86,305.73 599.38,305.2 599.9,304.67 600.43,304.15 600.95,303.62 601.47,303.09 602,302.57 602.52,302.04 603.04,301.51 603.56,300.99 604.09,300.46 604.61,299.93 605.13,299.41 605.66,298.88 606.18,298.35 606.7,297.83 607.23,297.3 607.75,296.77 608.27,296.25 608.79,295.72 609.32,295.19 609.84,294.67 610.36,294.14 610.89,293.61 611.41,293.09 611.93,292.56 612.46,292.03 612.98,291.51 613.5,290.98 614.02,290.45 614.55,289.93 615.07,289.4 615.59,288.87 616.12,288.42 616.64,288.22 617.16,288.01 617.69,287.8 618.21,287.59 618.73,287.38 619.25,287.18 619.78,286.97 620.3,286.76 620.82,286.55" fill="none" stroke="#4197d8" stroke-width="3.5" stroke-linecap="round" stroke-linejoin="round"/>
<g fill="#4197d8"><circle cx="660.6" cy="235.94" r="1.8"/><circle cx="652.51" cy="245.84" r="1.8"/><circle cx="647.78" cy="248.69" r="1.8"/><circle cx="644.42" cy="250.11" r="1.8"/><circle cx="641.82" cy="260.98" r="1.8"/><circle cx="639.69" cy="262.44" r="1.8"/><circle cx="637.89" cy="263.67" r="1.8"/><circle cx="636.33" cy="264.73" r="1.8"/><circle cx="634.96" cy="265.67" r="1.8"/><circle cx="633.73" cy="266.51" r="1.8"/><circle cx="632.61" cy="269.24" r="1.8"/><circle cx="631.6" cy="272.31" r="1.8"/><circle cx="630.67" cy="273.83" r="1.8"/><circle cx="629.8" cy="274.68" r="1.8"/><circle cx="629" cy="275.47" r="1.8"/><circle cx="628.24" cy="276.21" r="1.8"/><circle cx="627.53" cy="276.9" r="1.8"/><circle cx="626.87" cy="277.55" r="1.8"/><circle cx="626.24" cy="278.17" r="1.8"/><circle cx="625.64" cy="278.76" r="1.8"/><circle cx="625.07" cy="279.32" r="1.8"/><circle cx="624.53" cy="279.85" r="1.8"/><circle cx="624.01" cy="280.36" r="1.8"/><circle cx="623.51" cy="280.84" r="1.8"/><circle cx="623.03" cy="282.21" r="1.8"/><circle cx="622.58" cy="283.52" r="1.8"/><circle cx="622.14" cy="284.78" r="1.8"/><circle cx="621.71" cy="285.99" r="1.8"/><circle cx="621.3" cy="286.36" r="1.8"/><circle cx="620.91" cy="286.52" r="1.8"/><circle cx="620.52" cy="286.67" r="1.8"/><circle cx="620.15" cy="286.82" r="1.8"/><circle cx="619.79" cy="286.96" r="1.8"/><circle cx="619.45" cy="287.1" r="1.8"/><circle cx="619.11" cy="287.23" r="1.8"/><circle cx="618.78" cy="287.36" r="1.8"/><circle cx="618.46" cy="287.49" r="1.8"/><circle cx="618.15" cy="287.62" r="1.8"/><circle cx="617.84" cy="287.74" r="1.8"/><circle cx="617.55" cy="287.85" r="1.8"/><circle cx="617.26" cy="287.97" r="1.8"/><circle cx="616.98" cy="288.08" r="1.8"/><circle cx="616.71" cy="288.19" r="1.8"/><circle cx="616.44" cy="288.3" r="1.8"/><circle cx="616.17" cy="288.4" r="1.8"/><circle cx="615.92" cy="288.54" r="1.8"/><circle cx="615.67" cy="288.8" r="1.8"/><circle cx="615.42" cy="289.04" r="1.8"/><circle cx="615.18" cy="289.29" r="1.8"/><circle cx="614.95" cy="289.52" r="1.8"/><circle cx="614.71" cy="289.76" r="1.8"/><circle cx="614.49" cy="289.99" r="1.8"/><circle cx="614.27" cy="290.21" r="1.8"/><circle cx="614.05" cy="290.43" r="1.8"/><circle cx="613.83" cy="290.64" r="1.8"/><circle cx="613.62" cy="290.86" r="1.8"/><circle cx="613.42" cy="291.06" r="1.8"/><circle cx="613.21" cy="291.27" r="1.8"/><circle cx="613.01" cy="291.47" r="1.8"/></g>
<line x1="537.5" y1="367.5" x2="537.5" y2="232.8" stroke="#555" stroke-width="1"/>
<line x1="533.6" y1="367.5" x2="537.5" y2="367.5" stroke="#555" stroke-width="1"/>
<text x="530.2" y="369.8" text-anchor="end" font-size="6.6" fill="#1c1c1c" stroke="#1c1c1c" stroke-width="0.15">0</text>
<line x1="533.6" y1="345.05" x2="537.5" y2="345.05" stroke="#555" stroke-width="1"/>
<text x="530.2" y="347.35" text-anchor="end" font-size="6.6" fill="#1c1c1c" stroke="#1c1c1c" stroke-width="0.15">1</text>
<line x1="533.6" y1="322.6" x2="537.5" y2="322.6" stroke="#555" stroke-width="1"/>
<text x="530.2" y="324.9" text-anchor="end" font-size="6.6" fill="#1c1c1c" stroke="#1c1c1c" stroke-width="0.15">2</text>
<line x1="533.6" y1="300.15" x2="537.5" y2="300.15" stroke="#555" stroke-width="1"/>
<text x="530.2" y="302.45" text-anchor="end" font-size="6.6" fill="#1c1c1c" stroke="#1c1c1c" stroke-width="0.15">3</text>
<line x1="533.6" y1="277.7" x2="537.5" y2="277.7" stroke="#555" stroke-width="1"/>
<text x="530.2" y="280" text-anchor="end" font-size="6.6" fill="#1c1c1c" stroke="#1c1c1c" stroke-width="0.15">4</text>
<line x1="533.6" y1="255.25" x2="537.5" y2="255.25" stroke="#555" stroke-width="1"/>
<text x="530.2" y="257.55" text-anchor="end" font-size="6.6" fill="#1c1c1c" stroke="#1c1c1c" stroke-width="0.15">5</text>
<line x1="533.6" y1="232.8" x2="537.5" y2="232.8" stroke="#555" stroke-width="1"/>
<text x="530.2" y="235.1" text-anchor="end" font-size="6.6" fill="#1c1c1c" stroke="#1c1c1c" stroke-width="0.15">6</text>
<line x1="542.9" y1="372.9" x2="677.25" y2="372.9" stroke="#555" stroke-width="1"/>
<line x1="542.9" y1="372.9" x2="542.9" y2="375.9" stroke="#555" stroke-width="1"/>
<text x="542.9" y="387.2" text-anchor="middle" font-size="6.6" fill="#1c1c1c" stroke="#1c1c1c" stroke-width="0.15">0</text>
<line x1="569.77" y1="372.9" x2="569.77" y2="375.9" stroke="#555" stroke-width="1"/>
<text x="569.77" y="387.2" text-anchor="middle" font-size="6.6" fill="#1c1c1c" stroke="#1c1c1c" stroke-width="0.15">1</text>
<line x1="596.64" y1="372.9" x2="596.64" y2="375.9" stroke="#555" stroke-width="1"/>
<text x="596.64" y="387.2" text-anchor="middle" font-size="6.6" fill="#1c1c1c" stroke="#1c1c1c" stroke-width="0.15">2</text>
<line x1="623.51" y1="372.9" x2="623.51" y2="375.9" stroke="#555" stroke-width="1"/>
<text x="623.51" y="387.2" text-anchor="middle" font-size="6.6" fill="#1c1c1c" stroke="#1c1c1c" stroke-width="0.15">3</text>
<line x1="650.38" y1="372.9" x2="650.38" y2="375.9" stroke="#555" stroke-width="1"/>
<text x="650.38" y="387.2" text-anchor="middle" font-size="6.6" fill="#1c1c1c" stroke="#1c1c1c" stroke-width="0.15">4</text>
<line x1="677.25" y1="372.9" x2="677.25" y2="375.9" stroke="#555" stroke-width="1"/>
<text x="677.25" y="387.2" text-anchor="middle" font-size="6.6" fill="#1c1c1c" stroke="#1c1c1c" stroke-width="0.15">5</text>
<text x="610" y="220.6" text-anchor="middle" font-size="10.5" font-weight="bold" fill="#111">p</text>
<text transform="translate(509.6,345.55) rotate(-90)" text-anchor="start" font-size="9.7" fill="#1c1c1c" stroke="#1c1c1c" stroke-width="0.2">Observed&#160;&#160;<tspan font-size="10.09">−</tspan><tspan font-size="10.09" dx="1.1">log</tspan><tspan font-size="7.57" dy="2.52">10</tspan><tspan font-size="10.09" dy="-2.52" dx="0.5">(</tspan><tspan font-size="10.09" font-style="italic">p</tspan><tspan font-size="10.09" dx="1.8">)</tspan></text>
<text x="565.9" y="408.1" font-size="9.7" fill="#1c1c1c" stroke="#1c1c1c" stroke-width="0.2">Expected&#160;&#160;<tspan font-size="10.1">−</tspan><tspan font-size="10.1" dx="1.1">log</tspan><tspan font-size="7.57" dy="2.52">10</tspan><tspan font-size="10.1" dy="-2.52" dx="0.5">(</tspan><tspan font-size="10.1" font-style="italic">p</tspan><tspan font-size="10.1" dx="1.8">)</tspan></text>
<path d="M660.6,469.23 L652.51,485.37 L647.78,492.32 L644.42,496.6 L641.82,499.65 L639.69,502.01 L637.89,503.92 L636.33,505.52 L634.96,506.9 L633.73,508.1 L632.61,509.17 L631.6,510.14 L630.67,511.01 L629.8,511.81 L629,512.55 L628.24,513.23 L627.53,513.87 L626.87,514.46 L626.24,515.02 L625.64,515.55 L625.07,516.05 L624.53,516.52 L624.01,516.97 L623.51,517.4 L623.03,517.81 L622.58,518.2 L622.14,518.58 L621.71,518.94 L621.3,519.29 L620.91,519.62 L620.52,519.94 L620.15,520.25 L619.79,520.55 L619.45,520.85 L619.11,521.13 L618.78,521.4 L618.46,521.67 L618.15,521.92 L617.84,522.17 L617.55,522.42 L617.26,522.65 L616.98,522.88 L616.71,523.11 L616.44,523.33 L616.17,523.54 L615.67,523.96 L615.42,524.16 L615.18,524.35 L614.95,524.54 L614.49,524.91 L614.27,525.09 L614.05,525.27 L613.62,525.61 L613.42,525.78 L613.01,526.1 L612.82,526.26 L612.44,526.56 L612.25,526.71 L611.88,527 L611.71,527.14 L611.36,527.42 L611.02,527.69 L610.69,527.95 L610.53,528.08 L610.21,528.33 L609.91,528.57 L609.61,528.81 L609.32,529.04 L609.03,529.26 L608.62,529.59 L608.35,529.8 L608.09,530 L607.83,530.2 L607.46,530.5 L607.21,530.69 L606.86,530.96 L606.63,531.14 L606.29,531.41 L606.07,531.58 L605.74,531.83 L605.43,532.07 L605.12,532.31 L604.83,532.54 L604.54,532.76 L604.25,532.98 L603.98,533.2 L603.71,533.4 L603.35,533.67 L603.1,533.87 L602.76,534.13 L602.52,534.32 L602.2,534.56 L601.89,534.8 L601.59,535.03 L601.3,535.25 L601.01,535.47 L600.73,535.68 L600.39,535.94 L600.13,536.15 L599.8,536.39 L599.55,536.58 L599.24,536.82 L598.94,537.05 L598.65,537.27 L598.37,537.48 L598.09,537.7 L597.76,537.94 L597.45,538.18 L597.19,538.38 L596.89,538.61 L596.59,538.83 L596.3,539.04 L595.98,539.29 L595.71,539.5 L595.4,539.73 L595.09,539.96 L594.8,540.18 L594.51,540.39 L594.23,540.6 L593.92,540.84 L593.65,541.04 L593.36,541.26 L593.03,541.51 L592.75,541.72 L592.47,541.92 L592.17,542.15 L591.88,542.37 L591.56,542.61 L591.28,542.82 L590.97,543.04 L590.68,543.26 L590.39,543.48 L590.11,543.69 L589.81,543.91 L589.51,544.13 L589.2,544.36 L588.92,544.57 L588.62,544.79 L588.34,545.01 L588.03,545.23 L587.73,545.46 L587.44,545.67 L587.16,545.88 L586.86,546.1 L586.57,546.32 L586.26,546.54 L585.97,546.76 L585.68,546.98 L585.38,547.2 L585.09,547.41 L584.78,547.64 L584.49,547.86 L584.2,548.07 L583.9,548.29 L583.61,548.5 L583.31,548.72 L583.02,548.94 L582.72,549.16 L582.43,549.37 L582.13,549.59 L581.84,549.8 L581.55,550.02 L581.24,550.25 L580.95,550.46 L580.66,550.67 L580.37,550.89 L580.07,551.11 L579.77,551.33 L579.47,551.55 L579.19,551.76 L578.89,551.98 L578.59,552.19 L578.3,552.41 L578.01,552.62 L577.7,552.84 L577.41,553.06 L577.12,553.27 L576.83,553.48 L576.53,553.7 L576.24,553.92 L575.94,554.14 L575.64,554.35 L575.35,554.56 L575.05,554.78 L574.76,554.99 L574.47,555.21 L574.17,555.42 L573.87,555.64 L573.58,555.86 L573.28,556.07 L572.99,556.29 L572.69,556.5 L572.4,556.72 L572.1,556.93 L571.81,557.15 L571.51,557.36 L571.22,557.58 L570.92,557.79 L570.63,558.01 L570.33,558.22 L570.04,558.44 L569.74,558.65 L569.45,558.87 L569.15,559.08 L568.86,559.29 L568.56,559.51 L568.27,559.72 L567.97,559.94 L567.68,560.15 L567.38,560.37 L567.09,560.58 L566.8,560.79 L566.5,561.01 L566.2,561.22 L565.91,561.44 L565.61,561.65 L565.32,561.87 L565.02,562.08 L564.73,562.29 L564.43,562.51 L564.14,562.72 L563.84,562.93 L563.55,563.15 L563.25,563.36 L562.96,563.58 L562.66,563.79 L562.37,564 L562.07,564.22 L561.78,564.43 L561.48,564.64 L561.19,564.86 L560.89,565.07 L560.6,565.29 L560.31,565.5 L560.01,565.71 L559.71,565.93 L559.42,566.14 L559.12,566.35 L558.83,566.57 L558.53,566.78 L558.24,566.99 L557.94,567.21 L557.65,567.42 L557.35,567.63 L557.06,567.85 L556.76,568.06 L556.47,568.27 L556.17,568.49 L555.88,568.7 L555.58,568.91 L555.29,569.12 L554.99,569.34 L554.7,569.55 L554.4,569.76 L554.11,569.98 L553.82,570.19 L553.52,570.4 L553.22,570.62 L552.93,570.83 L552.63,571.04 L552.34,571.26 L552.04,571.47 L551.75,571.68 L551.45,571.89 L551.16,572.11 L550.87,572.32 L550.57,572.53 L550.28,572.75 L549.98,572.96 L549.68,573.17 L549.39,573.39 L549.09,573.6 L548.8,573.81 L548.5,574.03 L548.21,574.24 L547.91,574.45 L547.62,574.66 L547.33,574.88 L547.03,575.09 L546.74,575.3 L546.44,575.52 L546.15,575.73 L545.85,575.94 L545.56,576.16 L545.26,576.37 L544.97,576.59 L544.67,576.8 L544.38,577.01 L544.08,577.23 L543.79,577.44 L543.49,577.66 L543.2,577.87 L542.9,578.1 L542.9,578.1 L543.2,577.9 L543.49,577.7 L543.79,577.49 L544.08,577.29 L544.38,577.08 L544.67,576.87 L544.97,576.66 L545.26,576.46 L545.56,576.25 L545.85,576.04 L546.15,575.83 L546.44,575.62 L546.74,575.41 L547.03,575.21 L547.33,575 L547.62,574.79 L547.91,574.58 L548.21,574.37 L548.5,574.16 L548.8,573.96 L549.09,573.75 L549.39,573.54 L549.68,573.33 L549.98,573.12 L550.28,572.91 L550.57,572.7 L550.87,572.5 L551.16,572.29 L551.45,572.08 L551.75,571.87 L552.04,571.66 L552.34,571.45 L552.63,571.24 L552.93,571.04 L553.22,570.83 L553.52,570.62 L553.82,570.41 L554.11,570.2 L554.4,569.99 L554.7,569.79 L554.99,569.58 L555.29,569.37 L555.58,569.16 L555.88,568.95 L556.17,568.74 L556.47,568.53 L556.76,568.33 L557.06,568.12 L557.35,567.91 L557.65,567.7 L557.94,567.49 L558.24,567.28 L558.53,567.08 L558.83,566.87 L559.12,566.66 L559.42,566.45 L559.71,566.24 L560.01,566.04 L560.31,565.83 L560.6,565.62 L560.89,565.41 L561.19,565.2 L561.48,564.99 L561.78,564.79 L562.07,564.58 L562.37,564.37 L562.66,564.16 L562.96,563.95 L563.25,563.75 L563.55,563.54 L563.84,563.33 L564.14,563.12 L564.43,562.92 L564.73,562.71 L565.02,562.5 L565.32,562.29 L565.61,562.09 L565.91,561.88 L566.2,561.67 L566.5,561.46 L566.8,561.25 L567.09,561.05 L567.38,560.84 L567.68,560.63 L567.97,560.43 L568.27,560.22 L568.56,560.01 L568.86,559.8 L569.15,559.59 L569.45,559.39 L569.74,559.18 L570.04,558.98 L570.33,558.77 L570.63,558.56 L570.92,558.35 L571.22,558.15 L571.51,557.94 L571.81,557.73 L572.1,557.53 L572.4,557.32 L572.69,557.11 L572.99,556.91 L573.28,556.7 L573.58,556.49 L573.87,556.29 L574.17,556.08 L574.47,555.87 L574.76,555.67 L575.05,555.46 L575.35,555.25 L575.64,555.05 L575.94,554.84 L576.24,554.63 L576.53,554.43 L576.83,554.22 L577.12,554.02 L577.41,553.81 L577.7,553.61 L578.01,553.4 L578.3,553.2 L578.59,552.99 L578.89,552.79 L579.19,552.58 L579.47,552.38 L579.77,552.17 L580.07,551.96 L580.37,551.75 L580.66,551.55 L580.95,551.35 L581.24,551.14 L581.55,550.93 L581.84,550.73 L582.13,550.53 L582.43,550.32 L582.72,550.12 L583.02,549.91 L583.31,549.71 L583.61,549.5 L583.9,549.3 L584.2,549.09 L584.49,548.89 L584.78,548.69 L585.09,548.48 L585.38,548.28 L585.68,548.07 L585.97,547.87 L586.26,547.66 L586.57,547.45 L586.86,547.25 L587.16,547.05 L587.44,546.85 L587.73,546.65 L588.03,546.45 L588.34,546.24 L588.62,546.04 L588.92,545.83 L589.2,545.64 L589.51,545.42 L589.81,545.22 L590.11,545.01 L590.39,544.82 L590.68,544.62 L590.97,544.42 L591.28,544.21 L591.56,544.02 L591.88,543.8 L592.17,543.6 L592.47,543.39 L592.75,543.21 L593.03,543.01 L593.36,542.79 L593.65,542.59 L593.92,542.41 L594.23,542.19 L594.51,542 L594.8,541.81 L595.09,541.61 L595.4,541.4 L595.71,541.19 L595.98,541 L596.3,540.78 L596.59,540.59 L596.89,540.39 L597.19,540.18 L597.45,540.01 L597.76,539.79 L598.09,539.57 L598.37,539.38 L598.65,539.19 L598.94,538.99 L599.24,538.79 L599.55,538.58 L599.8,538.41 L600.13,538.2 L600.39,538.02 L600.73,537.79 L601.01,537.6 L601.3,537.41 L601.59,537.21 L601.89,537.01 L602.2,536.8 L602.52,536.59 L602.76,536.43 L603.1,536.2 L603.35,536.03 L603.71,535.8 L603.98,535.62 L604.25,535.43 L604.54,535.24 L604.83,535.05 L605.12,534.85 L605.43,534.65 L605.74,534.44 L606.07,534.23 L606.29,534.08 L606.63,533.86 L606.86,533.71 L607.21,533.47 L607.46,533.31 L607.83,533.06 L608.09,532.89 L608.35,532.72 L608.62,532.55 L609.03,532.27 L609.32,532.09 L609.61,531.9 L609.91,531.7 L610.21,531.5 L610.53,531.29 L610.69,531.19 L611.02,530.97 L611.36,530.75 L611.71,530.53 L611.88,530.41 L612.25,530.17 L612.44,530.05 L612.82,529.81 L613.01,529.68 L613.42,529.42 L613.62,529.29 L614.05,529.01 L614.27,528.87 L614.49,528.73 L614.95,528.43 L615.18,528.28 L615.42,528.13 L615.67,527.97 L616.17,527.65 L616.44,527.48 L616.71,527.31 L616.98,527.13 L617.26,526.96 L617.55,526.77 L617.84,526.59 L618.15,526.39 L618.46,526.2 L618.78,526 L619.11,525.79 L619.45,525.58 L619.79,525.36 L620.15,525.13 L620.52,524.9 L620.91,524.66 L621.3,524.41 L621.71,524.16 L622.14,523.9 L622.58,523.62 L623.03,523.34 L623.51,523.05 L624.01,522.74 L624.53,522.43 L625.07,522.09 L625.64,521.75 L626.24,521.38 L626.87,521 L627.53,520.6 L628.24,520.18 L629,519.73 L629.8,519.25 L630.67,518.74 L631.6,518.2 L632.61,517.6 L633.73,516.96 L634.96,516.26 L636.33,515.48 L637.89,514.61 L639.69,513.62 L641.82,512.46 L644.42,511.08 L647.78,509.34 L652.51,506.98 L660.6,503.15Z" fill="#4197d8" fill-opacity="0.4"/>
<line x1="537.53" y1="581.94" x2="685.04" y2="476.53" stroke="#e8413f" stroke-width="1.4" stroke-dasharray="4.2,2.2" opacity="0.9"/>
<polyline points="542.9,578.1 543.42,577.74 543.95,577.38 544.47,577.02 544.99,576.66 545.51,576.31 546.04,575.95 546.56,575.59 547.08,575.23 547.61,574.87 548.13,574.51 548.65,574.15 549.18,573.79 549.7,573.43 550.22,573.08 550.74,572.72 551.27,572.36 551.79,572 552.31,571.64 552.84,571.28 553.36,570.92 553.88,570.56 554.41,570.2 554.93,569.85 555.45,569.49 555.97,569.13 556.5,568.77 557.02,568.41 557.54,568.05 558.07,567.69 558.59,567.33 559.11,566.97 559.64,566.62 560.16,566.26 560.68,565.9 561.2,565.54 561.73,565.18 562.25,564.82 562.77,564.46 563.3,564.1 563.82,563.74 564.34,563.39 564.86,563.03 565.39,562.67 565.91,562.31 566.43,561.95 566.96,561.59 567.48,561.23 568,560.87 568.53,560.51 569.05,560.16 569.57,559.8 570.09,559.43 570.62,559.05 571.14,558.66 571.66,558.27 572.19,557.88 572.71,557.49 573.23,557.1 573.76,556.71 574.28,556.32 574.8,555.93 575.32,555.54 575.85,555.16 576.37,554.77 576.89,554.38 577.42,553.99 577.94,553.6 578.46,553.21 578.99,552.82 579.51,552.43 580.03,552.04 580.55,551.66 581.08,551.27 581.6,550.88 582.12,550.49 582.65,550.1 583.17,549.71 583.69,549.32 584.21,548.93 584.74,548.54 585.26,548.16 585.78,547.77 586.31,547.38 586.83,546.99 587.35,546.6 587.88,546.21 588.4,545.82 588.92,545.43 589.44,545.04 589.97,544.65 590.49,544.27 591.01,543.88 591.54,543.49 592.06,543.1 592.58,542.71 593.11,542.32 593.63,541.93 594.15,541.54 594.67,541.15 595.2,540.77 595.72,540.38 596.24,539.99 596.77,539.42 597.29,538.79 597.81,538.15 598.34,537.52 598.86,536.89 599.38,536.26 599.9,535.63 600.43,535 600.95,534.37 601.47,533.74 602,533.11 602.52,532.48 603.04,531.85 603.56,531.22 604.09,530.59 604.61,529.96 605.13,529.4 605.66,528.99 606.18,528.58 606.7,528.17 607.23,527.77 607.75,527.36 608.27,526.95 608.79,526.54 609.32,526.13 609.84,525.73 610.36,525.32 610.89,524.91 611.41,524.5 611.93,524.1 612.46,523.69 612.98,523.28 613.5,522.87 614.02,522.47 614.55,522.09 615.07,521.7 615.59,521.32 616.12,520.93 616.64,520.55 617.16,520.16 617.69,519.78 618.21,519.39 618.73,519.01 619.25,518.62 619.78,518.24 620.3,517.85 620.82,517.47" fill="none" stroke="#4197d8" stroke-width="3.5" stroke-linecap="round" stroke-linejoin="round"/>
<g fill="#4197d8"><circle cx="660.6" cy="457.91" r="1.8"/><circle cx="652.51" cy="486.72" r="1.8"/><circle cx="647.78" cy="493.87" r="1.8"/><circle cx="644.42" cy="497.48" r="1.8"/><circle cx="641.82" cy="498.76" r="1.8"/><circle cx="639.69" cy="499.63" r="1.8"/><circle cx="637.89" cy="499.83" r="1.8"/><circle cx="636.33" cy="500.01" r="1.8"/><circle cx="634.96" cy="500.17" r="1.8"/><circle cx="633.73" cy="500.31" r="1.8"/><circle cx="632.61" cy="502.21" r="1.8"/><circle cx="631.6" cy="504.48" r="1.8"/><circle cx="630.67" cy="505.77" r="1.8"/><circle cx="629.8" cy="506.62" r="1.8"/><circle cx="629" cy="507.41" r="1.8"/><circle cx="628.24" cy="508.15" r="1.8"/><circle cx="627.53" cy="508.84" r="1.8"/><circle cx="626.87" cy="509.58" r="1.8"/><circle cx="626.24" cy="510.56" r="1.8"/><circle cx="625.64" cy="511.5" r="1.8"/><circle cx="625.07" cy="512.39" r="1.8"/><circle cx="624.53" cy="513.24" r="1.8"/><circle cx="624.01" cy="514.05" r="1.8"/><circle cx="623.51" cy="514.82" r="1.8"/><circle cx="623.03" cy="515.57" r="1.8"/><circle cx="622.58" cy="516.18" r="1.8"/><circle cx="622.14" cy="516.5" r="1.8"/><circle cx="621.71" cy="516.81" r="1.8"/><circle cx="621.3" cy="517.12" r="1.8"/><circle cx="620.91" cy="517.41" r="1.8"/><circle cx="620.52" cy="517.69" r="1.8"/><circle cx="620.15" cy="517.96" r="1.8"/><circle cx="619.79" cy="518.23" r="1.8"/><circle cx="619.45" cy="518.48" r="1.8"/><circle cx="619.11" cy="518.73" r="1.8"/><circle cx="618.78" cy="518.97" r="1.8"/><circle cx="618.46" cy="519.21" r="1.8"/><circle cx="618.15" cy="519.44" r="1.8"/><circle cx="617.84" cy="519.66" r="1.8"/><circle cx="617.55" cy="519.88" r="1.8"/><circle cx="617.26" cy="520.09" r="1.8"/><circle cx="616.98" cy="520.3" r="1.8"/><circle cx="616.71" cy="520.5" r="1.8"/><circle cx="616.44" cy="520.7" r="1.8"/><circle cx="616.17" cy="520.89" r="1.8"/><circle cx="615.92" cy="521.08" r="1.8"/><circle cx="615.67" cy="521.26" r="1.8"/><circle cx="615.42" cy="521.45" r="1.8"/><circle cx="615.18" cy="521.62" r="1.8"/><circle cx="614.95" cy="521.8" r="1.8"/><circle cx="614.71" cy="521.97" r="1.8"/><circle cx="614.49" cy="522.13" r="1.8"/><circle cx="614.27" cy="522.3" r="1.8"/><circle cx="614.05" cy="522.46" r="1.8"/><circle cx="613.83" cy="522.61" r="1.8"/><circle cx="613.62" cy="522.78" r="1.8"/><circle cx="613.42" cy="522.94" r="1.8"/><circle cx="613.21" cy="523.1" r="1.8"/><circle cx="613.01" cy="523.25" r="1.8"/></g>
<line x1="537.5" y1="578.1" x2="537.5" y2="443.7" stroke="#555" stroke-width="1"/>
<line x1="533.6" y1="578.1" x2="537.5" y2="578.1" stroke="#555" stroke-width="1"/>
<text x="530.2" y="580.4" text-anchor="end" font-size="6.6" fill="#1c1c1c" stroke="#1c1c1c" stroke-width="0.15">0</text>
<line x1="533.6" y1="558.9" x2="537.5" y2="558.9" stroke="#555" stroke-width="1"/>
<text x="530.2" y="561.2" text-anchor="end" font-size="6.6" fill="#1c1c1c" stroke="#1c1c1c" stroke-width="0.15">1</text>
<line x1="533.6" y1="539.7" x2="537.5" y2="539.7" stroke="#555" stroke-width="1"/>
<text x="530.2" y="542" text-anchor="end" font-size="6.6" fill="#1c1c1c" stroke="#1c1c1c" stroke-width="0.15">2</text>
<line x1="533.6" y1="520.5" x2="537.5" y2="520.5" stroke="#555" stroke-width="1"/>
<text x="530.2" y="522.8" text-anchor="end" font-size="6.6" fill="#1c1c1c" stroke="#1c1c1c" stroke-width="0.15">3</text>
<line x1="533.6" y1="501.3" x2="537.5" y2="501.3" stroke="#555" stroke-width="1"/>
<text x="530.2" y="503.6" text-anchor="end" font-size="6.6" fill="#1c1c1c" stroke="#1c1c1c" stroke-width="0.15">4</text>
<line x1="533.6" y1="482.1" x2="537.5" y2="482.1" stroke="#555" stroke-width="1"/>
<text x="530.2" y="484.4" text-anchor="end" font-size="6.6" fill="#1c1c1c" stroke="#1c1c1c" stroke-width="0.15">5</text>
<line x1="533.6" y1="462.9" x2="537.5" y2="462.9" stroke="#555" stroke-width="1"/>
<text x="530.2" y="465.2" text-anchor="end" font-size="6.6" fill="#1c1c1c" stroke="#1c1c1c" stroke-width="0.15">6</text>
<line x1="533.6" y1="443.7" x2="537.5" y2="443.7" stroke="#555" stroke-width="1"/>
<text x="530.2" y="446" text-anchor="end" font-size="6.6" fill="#1c1c1c" stroke="#1c1c1c" stroke-width="0.15">7</text>
<line x1="542.9" y1="583.5" x2="677.25" y2="583.5" stroke="#555" stroke-width="1"/>
<line x1="542.9" y1="583.5" x2="542.9" y2="586.5" stroke="#555" stroke-width="1"/>
<text x="542.9" y="597.8" text-anchor="middle" font-size="6.6" fill="#1c1c1c" stroke="#1c1c1c" stroke-width="0.15">0</text>
<line x1="569.77" y1="583.5" x2="569.77" y2="586.5" stroke="#555" stroke-width="1"/>
<text x="569.77" y="597.8" text-anchor="middle" font-size="6.6" fill="#1c1c1c" stroke="#1c1c1c" stroke-width="0.15">1</text>
<line x1="596.64" y1="583.5" x2="596.64" y2="586.5" stroke="#555" stroke-width="1"/>
<text x="596.64" y="597.8" text-anchor="middle" font-size="6.6" fill="#1c1c1c" stroke="#1c1c1c" stroke-width="0.15">2</text>
<line x1="623.51" y1="583.5" x2="623.51" y2="586.5" stroke="#555" stroke-width="1"/>
<text x="623.51" y="597.8" text-anchor="middle" font-size="6.6" fill="#1c1c1c" stroke="#1c1c1c" stroke-width="0.15">3</text>
<line x1="650.38" y1="583.5" x2="650.38" y2="586.5" stroke="#555" stroke-width="1"/>
<text x="650.38" y="597.8" text-anchor="middle" font-size="6.6" fill="#1c1c1c" stroke="#1c1c1c" stroke-width="0.15">4</text>
<line x1="677.25" y1="583.5" x2="677.25" y2="586.5" stroke="#555" stroke-width="1"/>
<text x="677.25" y="597.8" text-anchor="middle" font-size="6.6" fill="#1c1c1c" stroke="#1c1c1c" stroke-width="0.15">5</text>
<text x="610" y="431.5" text-anchor="middle" font-size="10.5" font-weight="bold" fill="#111">p</text>
<text transform="translate(509.6,556.3) rotate(-90)" text-anchor="start" font-size="9.7" fill="#1c1c1c" stroke="#1c1c1c" stroke-width="0.2">Observed&#160;&#160;<tspan font-size="10.09">−</tspan><tspan font-size="10.09" dx="1.1">log</tspan><tspan font-size="7.57" dy="2.52">10</tspan><tspan font-size="10.09" dy="-2.52" dx="0.5">(</tspan><tspan font-size="10.09" font-style="italic">p</tspan><tspan font-size="10.09" dx="1.8">)</tspan></text>
<text x="565.9" y="618.7" font-size="9.7" fill="#1c1c1c" stroke="#1c1c1c" stroke-width="0.2">Expected&#160;&#160;<tspan font-size="10.1">−</tspan><tspan font-size="10.1" dx="1.1">log</tspan><tspan font-size="7.57" dy="2.52">10</tspan><tspan font-size="10.1" dy="-2.52" dx="0.5">(</tspan><tspan font-size="10.1" font-style="italic">p</tspan><tspan font-size="10.1" dx="1.8">)</tspan></text>
<path d="M660.6,721.63 L652.51,731.94 L647.78,736.38 L644.42,739.12 L641.82,741.07 L639.69,742.57 L637.89,743.79 L636.33,744.82 L634.96,745.7 L633.73,746.47 L632.61,747.15 L631.6,747.77 L630.67,748.33 L629.8,748.84 L629,749.31 L628.24,749.74 L627.53,750.15 L626.87,750.53 L626.24,750.89 L625.64,751.23 L625.07,751.55 L624.53,751.85 L624.01,752.14 L623.51,752.41 L623.03,752.67 L622.58,752.92 L622.14,753.16 L621.71,753.39 L621.3,753.61 L620.91,753.83 L620.52,754.03 L620.15,754.23 L619.79,754.42 L619.45,754.61 L619.11,754.79 L618.78,754.97 L618.46,755.13 L618.15,755.3 L617.84,755.46 L617.55,755.61 L617.26,755.77 L616.98,755.91 L616.71,756.06 L616.44,756.2 L616.17,756.33 L615.67,756.6 L615.42,756.73 L615.18,756.85 L614.95,756.97 L614.49,757.21 L614.27,757.32 L614.05,757.44 L613.62,757.66 L613.42,757.76 L613.01,757.97 L612.82,758.07 L612.44,758.26 L612.25,758.36 L611.88,758.55 L611.71,758.64 L611.36,758.81 L611.02,758.98 L610.69,759.15 L610.53,759.23 L610.21,759.39 L609.91,759.55 L609.61,759.7 L609.32,759.85 L609.03,759.99 L608.62,760.2 L608.35,760.33 L608.09,760.46 L607.83,760.59 L607.46,760.78 L607.21,760.9 L606.86,761.08 L606.63,761.19 L606.29,761.36 L606.07,761.47 L605.74,761.63 L605.43,761.78 L605.12,761.94 L604.83,762.08 L604.54,762.23 L604.25,762.37 L603.98,762.5 L603.71,762.64 L603.35,762.81 L603.1,762.94 L602.76,763.1 L602.52,763.22 L602.2,763.37 L601.89,763.53 L601.59,763.67 L601.3,763.82 L601.01,763.96 L600.73,764.09 L600.39,764.26 L600.13,764.39 L599.8,764.55 L599.55,764.67 L599.24,764.82 L598.94,764.96 L598.65,765.11 L598.37,765.24 L598.09,765.38 L597.76,765.54 L597.45,765.69 L597.19,765.81 L596.89,765.96 L596.59,766.1 L596.3,766.24 L595.98,766.4 L595.71,766.53 L595.4,766.68 L595.09,766.82 L594.8,766.97 L594.51,767.1 L594.23,767.24 L593.92,767.39 L593.65,767.52 L593.36,767.66 L593.03,767.81 L592.75,767.95 L592.47,768.08 L592.17,768.22 L591.88,768.37 L591.56,768.52 L591.28,768.65 L590.97,768.8 L590.68,768.94 L590.39,769.07 L590.11,769.21 L589.81,769.35 L589.51,769.49 L589.2,769.64 L588.92,769.77 L588.62,769.91 L588.34,770.05 L588.03,770.2 L587.73,770.34 L587.44,770.48 L587.16,770.61 L586.86,770.75 L586.57,770.89 L586.26,771.03 L585.97,771.17 L585.68,771.31 L585.38,771.45 L585.09,771.59 L584.78,771.73 L584.49,771.87 L584.2,772.01 L583.9,772.15 L583.61,772.28 L583.31,772.43 L583.02,772.56 L582.72,772.7 L582.43,772.84 L582.13,772.98 L581.84,773.12 L581.55,773.26 L581.24,773.4 L580.95,773.54 L580.66,773.67 L580.37,773.81 L580.07,773.95 L579.77,774.09 L579.47,774.23 L579.19,774.36 L578.89,774.51 L578.59,774.64 L578.3,774.78 L578.01,774.92 L577.7,775.06 L577.41,775.2 L577.12,775.33 L576.83,775.47 L576.53,775.61 L576.24,775.74 L575.94,775.89 L575.64,776.02 L575.35,776.16 L575.05,776.3 L574.76,776.43 L574.47,776.57 L574.17,776.71 L573.87,776.85 L573.58,776.99 L573.28,777.12 L572.99,777.26 L572.69,777.4 L572.4,777.54 L572.1,777.67 L571.81,777.81 L571.51,777.95 L571.22,778.09 L570.92,778.22 L570.63,778.36 L570.33,778.5 L570.04,778.63 L569.74,778.77 L569.45,778.91 L569.15,779.04 L568.86,779.18 L568.56,779.32 L568.27,779.46 L567.97,779.59 L567.68,779.73 L567.38,779.87 L567.09,780 L566.8,780.14 L566.5,780.28 L566.2,780.41 L565.91,780.55 L565.61,780.69 L565.32,780.83 L565.02,780.96 L564.73,781.1 L564.43,781.24 L564.14,781.37 L563.84,781.51 L563.55,781.64 L563.25,781.78 L562.96,781.92 L562.66,782.06 L562.37,782.19 L562.07,782.33 L561.78,782.46 L561.48,782.6 L561.19,782.74 L560.89,782.87 L560.6,783.01 L560.31,783.15 L560.01,783.28 L559.71,783.42 L559.42,783.56 L559.12,783.69 L558.83,783.83 L558.53,783.97 L558.24,784.1 L557.94,784.24 L557.65,784.37 L557.35,784.51 L557.06,784.65 L556.76,784.78 L556.47,784.92 L556.17,785.06 L555.88,785.19 L555.58,785.33 L555.29,785.46 L554.99,785.6 L554.7,785.74 L554.4,785.87 L554.11,786.01 L553.82,786.14 L553.52,786.28 L553.22,786.42 L552.93,786.55 L552.63,786.69 L552.34,786.83 L552.04,786.96 L551.75,787.1 L551.45,787.23 L551.16,787.37 L550.87,787.51 L550.57,787.64 L550.28,787.78 L549.98,787.92 L549.68,788.05 L549.39,788.19 L549.09,788.32 L548.8,788.46 L548.5,788.6 L548.21,788.73 L547.91,788.87 L547.62,789 L547.33,789.14 L547.03,789.28 L546.74,789.41 L546.44,789.55 L546.15,789.69 L545.85,789.82 L545.56,789.96 L545.26,790.1 L544.97,790.23 L544.67,790.37 L544.38,790.51 L544.08,790.64 L543.79,790.78 L543.49,790.92 L543.2,791.06 L542.9,791.2 L542.9,791.2 L543.2,791.07 L543.49,790.94 L543.79,790.81 L544.08,790.68 L544.38,790.55 L544.67,790.41 L544.97,790.28 L545.26,790.15 L545.56,790.02 L545.85,789.88 L546.15,789.75 L546.44,789.62 L546.74,789.48 L547.03,789.35 L547.33,789.22 L547.62,789.08 L547.91,788.95 L548.21,788.82 L548.5,788.68 L548.8,788.55 L549.09,788.42 L549.39,788.28 L549.68,788.15 L549.98,788.02 L550.28,787.88 L550.57,787.75 L550.87,787.62 L551.16,787.49 L551.45,787.35 L551.75,787.22 L552.04,787.09 L552.34,786.95 L552.63,786.82 L552.93,786.69 L553.22,786.55 L553.52,786.42 L553.82,786.29 L554.11,786.15 L554.4,786.02 L554.7,785.89 L554.99,785.75 L555.29,785.62 L555.58,785.49 L555.88,785.35 L556.17,785.22 L556.47,785.09 L556.76,784.95 L557.06,784.82 L557.35,784.69 L557.65,784.55 L557.94,784.42 L558.24,784.29 L558.53,784.16 L558.83,784.02 L559.12,783.89 L559.42,783.76 L559.71,783.62 L560.01,783.49 L560.31,783.36 L560.6,783.22 L560.89,783.09 L561.19,782.96 L561.48,782.82 L561.78,782.69 L562.07,782.56 L562.37,782.43 L562.66,782.29 L562.96,782.16 L563.25,782.03 L563.55,781.89 L563.84,781.76 L564.14,781.63 L564.43,781.5 L564.73,781.36 L565.02,781.23 L565.32,781.1 L565.61,780.97 L565.91,780.83 L566.2,780.7 L566.5,780.57 L566.8,780.43 L567.09,780.3 L567.38,780.17 L567.68,780.04 L567.97,779.91 L568.27,779.77 L568.56,779.64 L568.86,779.51 L569.15,779.37 L569.45,779.24 L569.74,779.11 L570.04,778.98 L570.33,778.85 L570.63,778.71 L570.92,778.58 L571.22,778.45 L571.51,778.32 L571.81,778.18 L572.1,778.05 L572.4,777.92 L572.69,777.79 L572.99,777.66 L573.28,777.52 L573.58,777.39 L573.87,777.26 L574.17,777.13 L574.47,776.99 L574.76,776.86 L575.05,776.73 L575.35,776.6 L575.64,776.47 L575.94,776.34 L576.24,776.2 L576.53,776.07 L576.83,775.94 L577.12,775.81 L577.41,775.68 L577.7,775.55 L578.01,775.41 L578.3,775.29 L578.59,775.15 L578.89,775.02 L579.19,774.89 L579.47,774.76 L579.77,774.63 L580.07,774.5 L580.37,774.36 L580.66,774.23 L580.95,774.1 L581.24,773.97 L581.55,773.84 L581.84,773.71 L582.13,773.58 L582.43,773.45 L582.72,773.32 L583.02,773.18 L583.31,773.05 L583.61,772.92 L583.9,772.79 L584.2,772.66 L584.49,772.53 L584.78,772.4 L585.09,772.27 L585.38,772.14 L585.68,772.01 L585.97,771.88 L586.26,771.75 L586.57,771.62 L586.86,771.49 L587.16,771.36 L587.44,771.23 L587.73,771.1 L588.03,770.97 L588.34,770.84 L588.62,770.71 L588.92,770.58 L589.2,770.46 L589.51,770.32 L589.81,770.19 L590.11,770.06 L590.39,769.93 L590.68,769.81 L590.97,769.68 L591.28,769.54 L591.56,769.42 L591.88,769.28 L592.17,769.15 L592.47,769.02 L592.75,768.9 L593.03,768.78 L593.36,768.63 L593.65,768.51 L593.92,768.39 L594.23,768.25 L594.51,768.13 L594.8,768.01 L595.09,767.88 L595.4,767.75 L595.71,767.61 L595.98,767.49 L596.3,767.35 L596.59,767.23 L596.89,767.1 L597.19,766.97 L597.45,766.86 L597.76,766.72 L598.09,766.58 L598.37,766.46 L598.65,766.34 L598.94,766.21 L599.24,766.08 L599.55,765.95 L599.8,765.84 L600.13,765.7 L600.39,765.59 L600.73,765.44 L601.01,765.32 L601.3,765.2 L601.59,765.07 L601.89,764.94 L602.2,764.81 L602.52,764.67 L602.76,764.57 L603.1,764.43 L603.35,764.32 L603.71,764.17 L603.98,764.05 L604.25,763.93 L604.54,763.81 L604.83,763.69 L605.12,763.56 L605.43,763.43 L605.74,763.3 L606.07,763.16 L606.29,763.07 L606.63,762.93 L606.86,762.83 L607.21,762.68 L607.46,762.58 L607.83,762.42 L608.09,762.31 L608.35,762.2 L608.62,762.09 L609.03,761.91 L609.32,761.79 L609.61,761.67 L609.91,761.55 L610.21,761.42 L610.53,761.29 L610.69,761.22 L611.02,761.08 L611.36,760.94 L611.71,760.8 L611.88,760.72 L612.25,760.57 L612.44,760.5 L612.82,760.34 L613.01,760.26 L613.42,760.09 L613.62,760 L614.05,759.83 L614.27,759.74 L614.49,759.65 L614.95,759.46 L615.18,759.36 L615.42,759.27 L615.67,759.17 L616.17,758.96 L616.44,758.85 L616.71,758.74 L616.98,758.63 L617.26,758.52 L617.55,758.4 L617.84,758.28 L618.15,758.16 L618.46,758.03 L618.78,757.9 L619.11,757.77 L619.45,757.63 L619.79,757.49 L620.15,757.35 L620.52,757.2 L620.91,757.05 L621.3,756.89 L621.71,756.73 L622.14,756.56 L622.58,756.39 L623.03,756.21 L623.51,756.02 L624.01,755.82 L624.53,755.62 L625.07,755.41 L625.64,755.19 L626.24,754.96 L626.87,754.71 L627.53,754.46 L628.24,754.18 L629,753.9 L629.8,753.59 L630.67,753.27 L631.6,752.92 L632.61,752.54 L633.73,752.13 L634.96,751.68 L636.33,751.18 L637.89,750.63 L639.69,749.99 L641.82,749.25 L644.42,748.37 L647.78,747.26 L652.51,745.75 L660.6,743.3Z" fill="#4197d8" fill-opacity="0.4"/>
<line x1="537.53" y1="793.65" x2="685.04" y2="726.29" stroke="#e8413f" stroke-width="1.4" stroke-dasharray="4.2,2.2" opacity="0.9"/>
<polyline points="542.9,791.2 543.42,790.97 543.95,790.74 544.47,790.5 544.99,790.27 545.51,790.04 546.04,789.81 546.56,789.58 547.08,789.35 547.61,789.11 548.13,788.88 548.65,788.65 549.18,788.42 549.7,788.19 550.22,787.96 550.74,787.72 551.27,787.49 551.79,787.26 552.31,787.03 552.84,786.8 553.36,786.57 553.88,786.33 554.41,786.1 554.93,785.87 555.45,785.64 555.97,785.41 556.5,785.18 557.02,784.94 557.54,784.71 558.07,784.48 558.59,784.25 559.11,784.02 559.64,783.79 560.16,783.55 560.68,783.32 561.2,783.09 561.73,782.86 562.25,782.63 562.77,782.39 563.3,782.16 563.82,781.93 564.34,781.7 564.86,781.47 565.39,781.24 565.91,781 566.43,780.77 566.96,780.54 567.48,780.31 568,780.08 568.53,779.85 569.05,779.61 569.57,779.38 570.09,779.14 570.62,778.85 571.14,778.56 571.66,778.26 572.19,777.97 572.71,777.67 573.23,777.38 573.76,777.09 574.28,776.79 574.8,776.5 575.32,776.2 575.85,775.91 576.37,775.62 576.89,775.32 577.42,775.03 577.94,774.74 578.46,774.44 578.99,774.15 579.51,773.85 580.03,773.56 580.55,773.27 581.08,772.97 581.6,772.68 582.12,772.38 582.65,772.09 583.17,771.8 583.69,771.5 584.21,771.21 584.74,770.91 585.26,770.62 585.78,770.33 586.31,770.03 586.83,769.74 587.35,769.44 587.88,769.13 588.4,768.81 588.92,768.5 589.44,768.18 589.97,767.86 590.49,767.54 591.01,767.22 591.54,766.9 592.06,766.59 592.58,766.27 593.11,765.95 593.63,765.63 594.15,765.31 594.67,764.99 595.2,764.68 595.72,764.36 596.24,764.04 596.77,763.79 597.29,763.56 597.81,763.34 598.34,763.11 598.86,762.88 599.38,762.66 599.9,762.43 600.43,762.21 600.95,761.98 601.47,761.75 602,761.53 602.52,761.3 603.04,761.07 603.56,760.85 604.09,760.62 604.61,760.4 605.13,760.17 605.66,759.94 606.18,759.72 606.7,759.49 607.23,759.26 607.75,759.04 608.27,758.81 608.79,758.59 609.32,758.36 609.84,758.13 610.36,757.91 610.89,757.68 611.41,757.45 611.93,757.24 612.46,757.03 612.98,756.82 613.5,756.61 614.02,756.4 614.55,756.19 615.07,755.98 615.59,755.77 616.12,755.56 616.64,755.35 617.16,755.14 617.69,754.93 618.21,754.72 618.73,754.51 619.25,754.3 619.78,754.09 620.3,753.88 620.82,753.67" fill="none" stroke="#4197d8" stroke-width="3.5" stroke-linecap="round" stroke-linejoin="round"/>
<g fill="#4197d8"><circle cx="660.6" cy="660.52" r="1.8"/><circle cx="652.51" cy="733.42" r="1.8"/><circle cx="647.78" cy="740.5" r="1.8"/><circle cx="644.42" cy="743.03" r="1.8"/><circle cx="641.82" cy="744.37" r="1.8"/><circle cx="639.69" cy="745.06" r="1.8"/><circle cx="637.89" cy="745.65" r="1.8"/><circle cx="636.33" cy="746.16" r="1.8"/><circle cx="634.96" cy="746.61" r="1.8"/><circle cx="633.73" cy="747.01" r="1.8"/><circle cx="632.61" cy="747.37" r="1.8"/><circle cx="631.6" cy="747.7" r="1.8"/><circle cx="630.67" cy="748.01" r="1.8"/><circle cx="629.8" cy="748.29" r="1.8"/><circle cx="629" cy="748.61" r="1.8"/><circle cx="628.24" cy="749.12" r="1.8"/><circle cx="627.53" cy="749.61" r="1.8"/><circle cx="626.87" cy="750.07" r="1.8"/><circle cx="626.24" cy="750.5" r="1.8"/><circle cx="625.64" cy="750.91" r="1.8"/><circle cx="625.07" cy="751.3" r="1.8"/><circle cx="624.53" cy="751.67" r="1.8"/><circle cx="624.01" cy="752.02" r="1.8"/><circle cx="623.51" cy="752.37" r="1.8"/><circle cx="623.03" cy="752.69" r="1.8"/><circle cx="622.58" cy="752.97" r="1.8"/><circle cx="622.14" cy="753.15" r="1.8"/><circle cx="621.71" cy="753.32" r="1.8"/><circle cx="621.3" cy="753.48" r="1.8"/><circle cx="620.91" cy="753.64" r="1.8"/><circle cx="620.52" cy="753.79" r="1.8"/><circle cx="620.15" cy="753.94" r="1.8"/><circle cx="619.79" cy="754.08" r="1.8"/><circle cx="619.45" cy="754.22" r="1.8"/><circle cx="619.11" cy="754.36" r="1.8"/><circle cx="618.78" cy="754.49" r="1.8"/><circle cx="618.46" cy="754.62" r="1.8"/><circle cx="618.15" cy="754.74" r="1.8"/><circle cx="617.84" cy="754.87" r="1.8"/><circle cx="617.55" cy="754.98" r="1.8"/><circle cx="617.26" cy="755.1" r="1.8"/><circle cx="616.98" cy="755.21" r="1.8"/><circle cx="616.71" cy="755.32" r="1.8"/><circle cx="616.44" cy="755.43" r="1.8"/><circle cx="616.17" cy="755.54" r="1.8"/><circle cx="615.92" cy="755.64" r="1.8"/><circle cx="615.67" cy="755.74" r="1.8"/><circle cx="615.42" cy="755.84" r="1.8"/><circle cx="615.18" cy="755.93" r="1.8"/><circle cx="614.95" cy="756.03" r="1.8"/><circle cx="614.71" cy="756.12" r="1.8"/><circle cx="614.49" cy="756.21" r="1.8"/><circle cx="614.27" cy="756.3" r="1.8"/><circle cx="614.05" cy="756.39" r="1.8"/><circle cx="613.83" cy="756.47" r="1.8"/><circle cx="613.62" cy="756.56" r="1.8"/><circle cx="613.42" cy="756.64" r="1.8"/><circle cx="613.21" cy="756.72" r="1.8"/><circle cx="613.01" cy="756.8" r="1.8"/></g>
<line x1="537.5" y1="791.2" x2="537.5" y2="656.84" stroke="#555" stroke-width="1"/>
<line x1="533.6" y1="791.2" x2="537.5" y2="791.2" stroke="#555" stroke-width="1"/>
<text x="530.2" y="793.5" text-anchor="end" font-size="6.6" fill="#1c1c1c" stroke="#1c1c1c" stroke-width="0.15">0</text>
<line x1="533.6" y1="766.66" x2="537.5" y2="766.66" stroke="#555" stroke-width="1"/>
<text x="530.2" y="768.96" text-anchor="end" font-size="6.6" fill="#1c1c1c" stroke="#1c1c1c" stroke-width="0.15">2</text>
<line x1="533.6" y1="742.12" x2="537.5" y2="742.12" stroke="#555" stroke-width="1"/>
<text x="530.2" y="744.42" text-anchor="end" font-size="6.6" fill="#1c1c1c" stroke="#1c1c1c" stroke-width="0.15">4</text>
<line x1="533.6" y1="717.58" x2="537.5" y2="717.58" stroke="#555" stroke-width="1"/>
<text x="530.2" y="719.88" text-anchor="end" font-size="6.6" fill="#1c1c1c" stroke="#1c1c1c" stroke-width="0.15">6</text>
<line x1="533.6" y1="693.04" x2="537.5" y2="693.04" stroke="#555" stroke-width="1"/>
<text x="530.2" y="695.34" text-anchor="end" font-size="6.6" fill="#1c1c1c" stroke="#1c1c1c" stroke-width="0.15">8</text>
<line x1="533.6" y1="668.5" x2="537.5" y2="668.5" stroke="#555" stroke-width="1"/>
<text x="530.2" y="670.8" text-anchor="end" font-size="6.6" fill="#1c1c1c" stroke="#1c1c1c" stroke-width="0.15">10</text>
<line x1="542.9" y1="796.6" x2="677.25" y2="796.6" stroke="#555" stroke-width="1"/>
<line x1="542.9" y1="796.6" x2="542.9" y2="799.6" stroke="#555" stroke-width="1"/>
<text x="542.9" y="810.9" text-anchor="middle" font-size="6.6" fill="#1c1c1c" stroke="#1c1c1c" stroke-width="0.15">0</text>
<line x1="569.77" y1="796.6" x2="569.77" y2="799.6" stroke="#555" stroke-width="1"/>
<text x="569.77" y="810.9" text-anchor="middle" font-size="6.6" fill="#1c1c1c" stroke="#1c1c1c" stroke-width="0.15">1</text>
<line x1="596.64" y1="796.6" x2="596.64" y2="799.6" stroke="#555" stroke-width="1"/>
<text x="596.64" y="810.9" text-anchor="middle" font-size="6.6" fill="#1c1c1c" stroke="#1c1c1c" stroke-width="0.15">2</text>
<line x1="623.51" y1="796.6" x2="623.51" y2="799.6" stroke="#555" stroke-width="1"/>
<text x="623.51" y="810.9" text-anchor="middle" font-size="6.6" fill="#1c1c1c" stroke="#1c1c1c" stroke-width="0.15">3</text>
<line x1="650.38" y1="796.6" x2="650.38" y2="799.6" stroke="#555" stroke-width="1"/>
<text x="650.38" y="810.9" text-anchor="middle" font-size="6.6" fill="#1c1c1c" stroke="#1c1c1c" stroke-width="0.15">4</text>
<line x1="677.25" y1="796.6" x2="677.25" y2="799.6" stroke="#555" stroke-width="1"/>
<text x="677.25" y="810.9" text-anchor="middle" font-size="6.6" fill="#1c1c1c" stroke="#1c1c1c" stroke-width="0.15">5</text>
<text x="610" y="644.64" text-anchor="middle" font-size="10.5" font-weight="bold" fill="#111">p</text>
<text transform="translate(509.6,769.42) rotate(-90)" text-anchor="start" font-size="9.7" fill="#1c1c1c" stroke="#1c1c1c" stroke-width="0.2">Observed&#160;&#160;<tspan font-size="10.09">−</tspan><tspan font-size="10.09" dx="1.1">log</tspan><tspan font-size="7.57" dy="2.52">10</tspan><tspan font-size="10.09" dy="-2.52" dx="0.5">(</tspan><tspan font-size="10.09" font-style="italic">p</tspan><tspan font-size="10.09" dx="1.8">)</tspan></text>
<text x="565.9" y="831.8" font-size="9.7" fill="#1c1c1c" stroke="#1c1c1c" stroke-width="0.2">Expected&#160;&#160;<tspan font-size="10.1">−</tspan><tspan font-size="10.1" dx="1.1">log</tspan><tspan font-size="7.57" dy="2.52">10</tspan><tspan font-size="10.1" dy="-2.52" dx="0.5">(</tspan><tspan font-size="10.1" font-style="italic">p</tspan><tspan font-size="10.1" dx="1.8">)</tspan></text>
</svg>
</body></html>
